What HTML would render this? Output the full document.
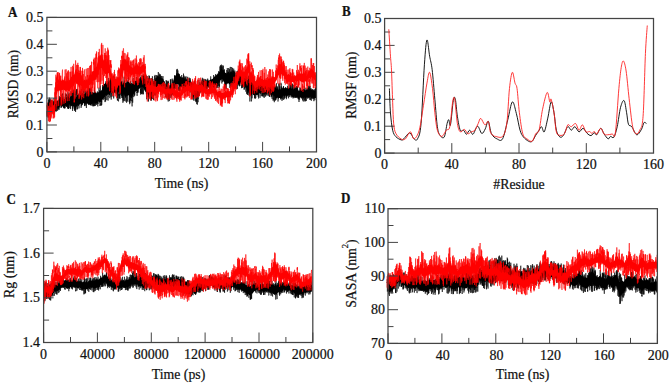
<!DOCTYPE html>
<html><head><meta charset="utf-8"><title>Figure</title>
<style>
html,body{margin:0;padding:0;background:#fff;width:669px;height:386px;overflow:hidden}
svg{display:block}
text{font-family:"Liberation Serif", serif;fill:#111;stroke:#111;stroke-width:0.22px}
</style></head><body>
<svg width="669" height="386" viewBox="0 0 669 386">
<rect width="669" height="386" fill="#fff"/>
<polygon fill="#000" points="46.9,104.5 47.5,104.0 48.1,102.6 48.7,102.4 49.3,102.4 49.9,102.2 50.5,101.6 51.1,101.0 51.7,101.0 52.3,100.8 52.9,100.4 53.5,101.7 54.1,101.2 54.7,101.2 55.3,101.4 55.9,101.1 56.5,101.2 57.1,101.1 57.7,100.2 58.3,100.2 58.9,99.3 59.5,99.0 60.1,99.4 60.7,98.3 61.3,97.9 61.9,97.6 62.5,98.0 63.1,99.1 63.7,98.4 64.3,99.7 64.9,98.5 65.5,98.0 66.1,97.5 66.7,97.2 67.3,96.4 67.9,97.4 68.5,96.4 69.1,96.9 69.7,96.8 70.3,96.0 70.9,97.0 71.5,97.2 72.1,95.2 72.7,95.7 73.3,96.2 73.9,95.6 74.5,96.5 75.1,97.7 75.7,97.2 76.3,96.8 76.9,95.9 77.5,95.7 78.1,94.2 78.7,95.3 79.3,94.7 79.9,93.5 80.5,94.1 81.1,94.3 81.7,93.8 82.3,93.4 82.9,93.5 83.5,93.5 84.1,94.4 84.7,94.0 85.3,93.6 85.9,92.4 86.5,92.1 87.1,92.8 87.7,94.4 88.3,95.1 88.9,94.2 89.5,94.7 90.1,94.4 90.7,94.2 91.3,94.7 91.9,93.0 92.5,92.4 93.1,92.3 93.7,92.9 94.3,92.0 94.9,92.8 95.5,92.6 96.1,93.5 96.7,92.4 97.3,93.0 97.9,91.5 98.5,92.5 99.1,92.0 99.7,91.6 100.3,91.2 100.9,90.7 101.5,90.2 102.1,89.5 102.7,87.0 103.3,86.8 103.9,84.1 104.5,83.9 105.1,83.6 105.7,82.4 106.3,83.9 106.9,83.2 107.5,83.4 108.1,82.8 108.7,82.0 109.3,81.7 109.9,80.3 110.5,80.6 111.1,81.3 111.7,80.3 112.3,80.9 112.9,79.8 113.5,81.4 114.1,80.2 114.7,81.2 115.3,82.3 115.9,81.3 116.5,82.0 117.1,81.8 117.7,82.7 118.3,81.1 118.9,82.6 119.5,80.7 120.1,81.3 120.7,79.8 121.3,80.7 121.9,83.5 122.5,83.9 123.1,82.1 123.7,83.5 124.3,81.8 124.9,82.4 125.5,82.9 126.1,83.4 126.7,81.9 127.3,80.6 127.9,82.0 128.5,81.7 129.1,82.1 129.7,83.2 130.3,81.5 130.9,84.3 131.5,84.9 132.1,84.1 132.7,84.3 133.3,84.4 133.9,81.3 134.5,80.9 135.1,80.9 135.7,80.3 136.3,81.8 136.9,81.4 137.5,80.2 138.1,81.4 138.7,79.2 139.3,79.4 139.9,79.1 140.5,78.3 141.1,78.2 141.7,77.8 142.3,77.3 142.9,77.3 143.5,77.9 144.1,78.4 144.7,77.9 145.3,80.1 145.9,81.3 146.5,81.6 147.1,80.7 147.7,80.7 148.3,81.2 148.9,81.6 149.5,82.7 150.1,81.5 150.7,80.9 151.3,82.5 151.9,82.2 152.5,82.3 153.1,81.7 153.7,81.5 154.3,82.1 154.9,80.9 155.5,80.5 156.1,78.1 156.7,77.6 157.3,76.5 157.9,74.8 158.5,76.6 159.1,77.7 159.7,77.0 160.3,78.3 160.9,77.4 161.5,78.4 162.1,78.5 162.7,79.2 163.3,79.1 163.9,81.1 164.5,81.0 165.1,83.0 165.7,84.4 166.3,85.0 166.9,86.7 167.5,86.6 168.1,87.8 168.7,88.4 169.3,87.6 169.9,85.7 170.5,84.4 171.1,85.4 171.7,84.0 172.3,83.4 172.9,83.4 173.5,81.6 174.1,79.9 174.7,78.6 175.3,76.1 175.9,75.2 176.5,73.2 177.1,73.0 177.7,74.7 178.3,73.8 178.9,73.7 179.5,75.1 180.1,76.0 180.7,76.5 181.3,78.3 181.9,76.7 182.5,77.2 183.1,78.1 183.7,78.1 184.3,77.3 184.9,79.5 185.5,79.4 186.1,80.0 186.7,80.2 187.3,81.3 187.9,80.0 188.5,80.7 189.1,81.1 189.7,81.6 190.3,82.0 190.9,82.9 191.5,82.4 192.1,83.4 192.7,83.1 193.3,83.0 193.9,84.6 194.5,83.8 195.1,84.2 195.7,84.5 196.3,86.3 196.9,86.6 197.5,86.2 198.1,85.4 198.7,85.1 199.3,85.1 199.9,83.9 200.5,83.8 201.1,82.7 201.7,80.4 202.3,81.2 202.9,82.3 203.5,80.8 204.1,81.2 204.7,82.8 205.3,81.5 205.9,82.2 206.5,81.3 207.1,80.7 207.7,80.6 208.3,81.2 208.9,81.2 209.5,80.2 210.1,79.6 210.7,79.8 211.3,79.5 211.9,79.1 212.5,79.1 213.1,78.3 213.7,77.8 214.3,76.7 214.9,77.1 215.5,76.4 216.1,76.8 216.7,74.8 217.3,75.1 217.9,74.7 218.5,72.7 219.1,71.8 219.7,71.8 220.3,69.0 220.9,69.9 221.5,68.6 222.1,69.7 222.7,69.4 223.3,70.4 223.9,71.3 224.5,72.2 225.1,72.5 225.7,72.9 226.3,72.9 226.9,73.7 227.5,72.8 228.1,72.1 228.7,72.0 229.3,73.7 229.9,72.3 230.5,73.1 231.1,72.5 231.7,71.6 232.3,72.7 232.9,72.4 233.5,72.8 234.1,74.1 234.7,73.8 235.3,76.0 235.9,75.4 236.5,74.7 237.1,75.8 237.7,75.3 238.3,75.0 238.9,75.3 239.5,76.2 240.1,74.4 240.7,75.0 241.3,75.3 241.9,75.7 242.5,76.7 243.1,76.7 243.7,78.1 244.3,77.3 244.9,77.6 245.5,79.7 246.1,79.8 246.7,79.7 247.3,80.6 247.9,79.8 248.5,80.1 249.1,82.2 249.7,81.2 250.3,82.2 250.9,81.7 251.5,80.8 252.1,82.2 252.7,82.8 253.3,82.4 253.9,83.9 254.5,85.1 255.1,84.0 255.7,84.3 256.3,84.5 256.9,84.5 257.5,85.2 258.1,84.8 258.7,84.0 259.3,85.4 259.9,84.9 260.5,85.4 261.1,85.6 261.7,84.8 262.3,84.8 262.9,85.7 263.5,86.0 264.1,86.8 264.7,86.1 265.3,86.1 265.9,85.0 266.5,85.4 267.1,85.4 267.7,85.3 268.3,85.7 268.9,84.7 269.5,85.3 270.1,84.9 270.7,85.7 271.3,85.9 271.9,86.5 272.5,86.5 273.1,86.1 273.7,87.1 274.3,86.6 274.9,87.8 275.5,88.1 276.1,88.2 276.7,89.0 277.3,87.8 277.9,89.1 278.5,90.0 279.1,88.3 279.7,89.0 280.3,88.9 280.9,89.8 281.5,89.3 282.1,89.5 282.7,87.6 283.3,87.4 283.9,87.1 284.5,88.6 285.1,88.1 285.7,87.1 286.3,88.0 286.9,88.4 287.5,88.2 288.1,88.5 288.7,88.1 289.3,88.0 289.9,88.1 290.5,87.8 291.1,87.7 291.7,88.9 292.3,89.9 292.9,89.6 293.5,90.1 294.1,89.8 294.7,88.6 295.3,89.8 295.9,89.8 296.5,89.7 297.1,90.6 297.7,89.6 298.3,90.5 298.9,91.2 299.5,90.5 300.1,90.5 300.7,89.7 301.3,90.6 301.9,90.3 302.5,89.2 303.1,88.9 303.7,88.8 304.3,89.2 304.9,90.4 305.5,90.6 306.1,90.5 306.7,89.3 307.3,90.3 307.9,88.5 308.5,89.8 309.1,88.8 309.7,88.8 310.3,88.3 310.9,89.4 311.5,89.5 312.1,89.2 312.7,90.8 313.3,90.0 313.9,90.9 314.5,90.6 315.1,91.0 315.7,90.9 316.3,91.6 316.3,98.5 315.7,98.0 315.1,98.0 314.5,98.6 313.9,98.5 313.3,97.4 312.7,97.4 312.1,97.6 311.5,98.4 310.9,96.6 310.3,96.6 309.7,97.3 309.1,97.4 308.5,98.2 307.9,97.1 307.3,98.1 306.7,97.2 306.1,97.9 305.5,98.7 304.9,98.1 304.3,96.8 303.7,96.9 303.1,97.1 302.5,96.9 301.9,97.1 301.3,98.0 300.7,98.0 300.1,97.1 299.5,97.5 298.9,98.3 298.3,98.7 297.7,98.7 297.1,97.2 296.5,97.3 295.9,96.7 295.3,97.1 294.7,95.6 294.1,96.5 293.5,97.8 292.9,97.1 292.3,96.4 291.7,96.3 291.1,95.6 290.5,95.3 289.9,94.7 289.3,95.2 288.7,94.7 288.1,95.6 287.5,94.7 286.9,95.5 286.3,96.6 285.7,95.2 285.1,96.7 284.5,96.4 283.9,95.6 283.3,95.6 282.7,96.5 282.1,97.2 281.5,97.5 280.9,98.8 280.3,98.1 279.7,98.0 279.1,98.0 278.5,98.9 277.9,97.6 277.3,97.9 276.7,98.8 276.1,97.9 275.5,97.9 274.9,97.4 274.3,95.4 273.7,95.9 273.1,94.5 272.5,94.8 271.9,94.9 271.3,93.4 270.7,92.7 270.1,93.8 269.5,93.6 268.9,93.1 268.3,93.6 267.7,92.7 267.1,93.7 266.5,93.5 265.9,93.7 265.3,93.4 264.7,93.8 264.1,94.8 263.5,94.6 262.9,93.6 262.3,92.8 261.7,92.1 261.1,93.5 260.5,93.7 259.9,93.7 259.3,92.7 258.7,93.3 258.1,94.4 257.5,95.0 256.9,95.3 256.3,95.0 255.7,94.3 255.1,94.5 254.5,95.7 253.9,95.1 253.3,95.2 252.7,93.6 252.1,94.1 251.5,94.4 250.9,96.1 250.3,94.1 249.7,94.1 249.1,94.1 248.5,91.0 247.9,92.0 247.3,90.9 246.7,89.9 246.1,87.5 245.5,86.9 244.9,86.5 244.3,86.8 243.7,85.1 243.1,85.8 242.5,85.6 241.9,83.8 241.3,83.4 240.7,82.1 240.1,82.3 239.5,83.7 238.9,83.6 238.3,84.1 237.7,84.5 237.1,84.2 236.5,84.8 235.9,84.5 235.3,83.7 234.7,83.0 234.1,84.0 233.5,83.5 232.9,83.2 232.3,82.2 231.7,81.4 231.1,82.4 230.5,82.8 229.9,84.0 229.3,84.6 228.7,82.7 228.1,84.5 227.5,83.5 226.9,83.0 226.3,84.1 225.7,83.2 225.1,83.3 224.5,81.4 223.9,82.1 223.3,81.3 222.7,78.8 222.1,79.4 221.5,79.6 220.9,79.7 220.3,80.0 219.7,80.8 219.1,83.1 218.5,82.2 217.9,83.9 217.3,83.5 216.7,84.9 216.1,85.4 215.5,85.2 214.9,84.4 214.3,84.7 213.7,85.3 213.1,86.4 212.5,85.6 211.9,85.9 211.3,86.0 210.7,86.5 210.1,86.2 209.5,86.6 208.9,86.9 208.3,86.8 207.7,87.0 207.1,88.1 206.5,87.9 205.9,87.7 205.3,88.8 204.7,89.9 204.1,88.9 203.5,88.0 202.9,88.8 202.3,90.0 201.7,89.1 201.1,89.9 200.5,91.7 199.9,92.9 199.3,93.7 198.7,96.0 198.1,97.1 197.5,96.8 196.9,97.1 196.3,97.2 195.7,94.6 195.1,96.7 194.5,95.6 193.9,94.7 193.3,93.8 192.7,93.3 192.1,92.9 191.5,92.2 190.9,92.0 190.3,91.3 189.7,91.0 189.1,89.9 188.5,89.3 187.9,88.6 187.3,88.1 186.7,88.8 186.1,88.8 185.5,89.0 184.9,87.9 184.3,86.5 183.7,86.4 183.1,88.1 182.5,88.3 181.9,87.1 181.3,87.6 180.7,86.4 180.1,87.0 179.5,85.6 178.9,84.7 178.3,84.2 177.7,83.8 177.1,84.0 176.5,83.8 175.9,83.9 175.3,85.8 174.7,86.2 174.1,89.0 173.5,89.8 172.9,91.4 172.3,90.6 171.7,92.8 171.1,93.1 170.5,95.4 169.9,95.0 169.3,95.8 168.7,97.0 168.1,97.5 167.5,96.6 166.9,95.0 166.3,94.3 165.7,93.2 165.1,91.5 164.5,90.2 163.9,88.8 163.3,87.4 162.7,87.8 162.1,87.4 161.5,87.6 160.9,87.3 160.3,86.5 159.7,86.3 159.1,86.9 158.5,85.8 157.9,86.3 157.3,87.2 156.7,87.4 156.1,88.9 155.5,90.7 154.9,91.9 154.3,92.0 153.7,93.7 153.1,95.3 152.5,94.4 151.9,94.4 151.3,94.2 150.7,93.1 150.1,95.9 149.5,93.2 148.9,94.8 148.3,95.3 147.7,94.2 147.1,93.1 146.5,92.3 145.9,92.2 145.3,91.7 144.7,88.9 144.1,89.1 143.5,86.7 142.9,87.6 142.3,86.9 141.7,87.0 141.1,86.1 140.5,88.4 139.9,88.4 139.3,88.1 138.7,89.3 138.1,89.2 137.5,89.4 136.9,91.1 136.3,91.0 135.7,91.7 135.1,91.6 134.5,91.2 133.9,93.5 133.3,93.9 132.7,96.3 132.1,97.1 131.5,98.2 130.9,98.4 130.3,96.1 129.7,97.7 129.1,94.9 128.5,95.3 127.9,96.0 127.3,95.6 126.7,95.4 126.1,96.9 125.5,96.4 124.9,94.0 124.3,96.3 123.7,94.4 123.1,94.3 122.5,96.2 121.9,94.3 121.3,94.4 120.7,92.9 120.1,93.5 119.5,92.5 118.9,92.6 118.3,91.5 117.7,93.9 117.1,92.3 116.5,92.1 115.9,91.4 115.3,92.7 114.7,92.9 114.1,92.0 113.5,94.2 112.9,93.2 112.3,92.8 111.7,92.0 111.1,91.8 110.5,91.8 109.9,95.0 109.3,95.6 108.7,94.0 108.1,94.7 107.5,94.1 106.9,95.4 106.3,96.1 105.7,95.1 105.1,95.8 104.5,97.1 103.9,97.7 103.3,98.2 102.7,98.9 102.1,99.4 101.5,101.2 100.9,101.6 100.3,102.0 99.7,102.2 99.1,102.7 98.5,101.0 97.9,102.5 97.3,104.1 96.7,103.3 96.1,103.2 95.5,103.6 94.9,103.4 94.3,102.2 93.7,103.0 93.1,102.7 92.5,103.2 91.9,104.5 91.3,104.3 90.7,105.4 90.1,105.4 89.5,104.7 88.9,104.5 88.3,105.2 87.7,103.8 87.1,103.5 86.5,102.3 85.9,102.9 85.3,104.3 84.7,103.9 84.1,103.1 83.5,102.9 82.9,103.4 82.3,103.4 81.7,104.6 81.1,104.4 80.5,102.5 79.9,104.3 79.3,104.4 78.7,106.4 78.1,105.4 77.5,105.6 76.9,106.1 76.3,107.2 75.7,108.4 75.1,110.9 74.5,107.1 73.9,106.9 73.3,106.1 72.7,106.1 72.1,104.9 71.5,106.5 70.9,105.7 70.3,105.5 69.7,104.6 69.1,104.2 68.5,105.5 67.9,106.3 67.3,105.6 66.7,106.2 66.1,107.0 65.5,105.4 64.9,105.4 64.3,107.3 63.7,107.7 63.1,107.0 62.5,106.0 61.9,105.9 61.3,105.5 60.7,105.3 60.1,106.0 59.5,107.0 58.9,107.5 58.3,107.3 57.7,107.3 57.1,108.4 56.5,108.1 55.9,108.4 55.3,109.2 54.7,109.3 54.1,108.9 53.5,108.8 52.9,108.2 52.3,108.6 51.7,107.7 51.1,108.1 50.5,109.0 49.9,110.0 49.3,109.4 48.7,111.6 48.1,112.5 47.5,113.1 46.9,114.4"/><polyline fill="none" stroke="#000" stroke-width="0.6" stroke-linejoin="round" points="46.9,117.0 47.0,114.2 47.1,111.2 47.3,115.6 47.4,115.0 47.5,103.3 47.6,103.2 47.7,107.6 47.9,111.9 48.0,112.4 48.1,110.2 48.2,117.4 48.3,114.9 48.5,99.3 48.6,99.3 48.7,99.6 48.8,105.1 48.9,108.0 49.1,100.2 49.2,106.4 49.3,105.2 49.4,97.6 49.5,103.1 49.7,104.0 49.8,102.4 49.9,102.9 50.0,104.7 50.1,98.6 50.3,99.0 50.4,103.8 50.5,103.5 50.6,109.3 50.7,101.6 50.9,107.1 51.0,99.9 51.1,100.4 51.2,103.5 51.3,106.8 51.5,108.1 51.6,104.9 51.7,100.2 51.8,107.3 51.9,110.5 52.1,111.1 52.2,108.8 52.3,102.8 52.4,112.1 52.5,107.8 52.7,108.9 52.8,104.8 52.9,102.8 53.0,101.5 53.1,104.5 53.3,107.1 53.4,104.4 53.5,103.8 53.6,110.3 53.7,108.9 53.9,110.3 54.0,98.1 54.1,107.6 54.2,110.8 54.3,105.9 54.5,100.5 54.6,111.4 54.7,112.3 54.8,104.9 54.9,111.2 55.1,105.4 55.2,104.2 55.3,109.0 55.4,101.0 55.5,100.7 55.7,111.0 55.8,105.7 55.9,96.1 56.0,110.1 56.1,111.8 56.3,111.2 56.4,104.8 56.5,110.5 56.6,107.2 56.7,105.4 56.9,109.3 57.0,107.3 57.1,102.3 57.2,103.4 57.3,100.9 57.5,107.5 57.6,110.8 57.7,102.4 57.8,106.6 57.9,102.1 58.1,101.1 58.2,103.7 58.3,107.2 58.4,109.3 58.5,103.7 58.7,101.4 58.8,108.3 58.9,100.3 59.0,109.9 59.1,104.8 59.3,98.8 59.4,96.2 59.5,106.1 59.6,105.1 59.7,98.1 59.9,97.5 60.0,104.8 60.1,99.0 60.2,103.7 60.3,98.5 60.5,97.0 60.6,99.9 60.7,103.6 60.8,102.5 60.9,97.7 61.1,107.8 61.2,105.1 61.3,107.5 61.4,100.2 61.5,95.7 61.7,94.6 61.8,102.7 61.9,96.7 62.0,106.8 62.1,101.3 62.3,94.1 62.4,93.5 62.5,93.9 62.6,94.8 62.7,93.8 62.9,102.6 63.0,102.1 63.1,104.5 63.2,103.2 63.3,104.0 63.5,98.8 63.6,101.0 63.7,108.2 63.8,103.1 63.9,96.7 64.1,103.1 64.2,107.7 64.3,103.1 64.4,101.0 64.5,108.4 64.7,105.8 64.8,107.8 64.9,104.4 65.0,108.4 65.1,99.0 65.3,103.3 65.4,93.3 65.5,103.9 65.6,105.9 65.7,98.0 65.9,96.4 66.0,94.7 66.1,96.0 66.2,93.7 66.3,94.2 66.5,106.8 66.6,102.6 66.7,102.8 66.8,103.9 66.9,103.1 67.1,97.0 67.2,95.9 67.3,95.7 67.4,104.6 67.5,107.7 67.7,99.6 67.8,108.7 67.9,94.2 68.0,91.8 68.1,94.3 68.3,102.2 68.4,109.0 68.5,102.3 68.6,108.7 68.7,107.8 68.9,99.6 69.0,94.1 69.1,104.3 69.2,93.1 69.3,100.6 69.5,99.1 69.6,97.9 69.7,103.1 69.8,108.2 69.9,102.1 70.1,106.3 70.2,102.4 70.3,97.4 70.4,105.2 70.5,109.1 70.7,108.9 70.8,105.0 70.9,91.2 71.0,98.4 71.1,101.1 71.3,93.3 71.4,93.9 71.5,95.0 71.6,96.7 71.7,94.6 71.9,105.9 72.0,97.4 72.1,91.9 72.2,96.9 72.3,90.1 72.5,104.2 72.6,110.9 72.7,105.1 72.8,100.5 72.9,108.7 73.1,104.4 73.2,105.2 73.3,92.0 73.4,95.8 73.5,89.6 73.7,102.1 73.8,101.3 73.9,93.9 74.0,104.9 74.1,106.4 74.3,106.9 74.4,108.3 74.5,110.8 74.6,103.0 74.7,109.6 74.9,97.4 75.0,90.0 75.1,94.9 75.2,91.4 75.3,110.3 75.5,109.2 75.6,112.0 75.7,94.1 75.8,94.5 75.9,96.8 76.1,109.5 76.2,105.8 76.3,99.2 76.4,89.4 76.5,93.1 76.7,94.6 76.8,94.4 76.9,89.5 77.0,89.0 77.1,96.1 77.3,88.9 77.4,89.4 77.5,109.3 77.6,95.4 77.7,96.2 77.9,97.2 78.0,97.1 78.1,104.2 78.2,100.7 78.3,100.1 78.5,104.6 78.6,95.6 78.7,93.6 78.8,105.2 78.9,108.5 79.1,108.2 79.2,105.5 79.3,98.5 79.4,90.8 79.5,90.6 79.7,96.3 79.8,99.7 79.9,101.3 80.0,104.0 80.1,104.1 80.3,97.5 80.4,90.9 80.5,94.5 80.6,103.4 80.7,92.3 80.9,99.8 81.0,104.8 81.1,107.9 81.2,106.4 81.3,88.9 81.5,96.7 81.6,106.2 81.7,101.8 81.8,99.1 81.9,102.4 82.1,104.2 82.2,103.8 82.3,96.3 82.4,104.9 82.5,93.5 82.7,102.3 82.8,97.0 82.9,89.3 83.0,89.6 83.1,101.0 83.3,103.2 83.4,103.0 83.5,94.5 83.6,91.2 83.7,97.4 83.9,100.5 84.0,98.7 84.1,98.5 84.2,88.7 84.3,102.0 84.5,105.8 84.6,101.3 84.7,94.6 84.8,97.7 84.9,106.1 85.1,94.5 85.2,102.6 85.3,98.2 85.4,90.4 85.5,94.9 85.7,102.0 85.8,105.4 85.9,102.0 86.0,95.2 86.1,95.3 86.3,93.6 86.4,108.0 86.5,91.4 86.6,91.7 86.7,103.8 86.9,90.8 87.0,96.9 87.1,93.4 87.2,90.5 87.3,93.4 87.5,100.2 87.6,99.1 87.7,101.4 87.8,98.9 87.9,88.3 88.1,92.5 88.2,100.3 88.3,97.2 88.4,98.5 88.5,103.2 88.7,94.4 88.8,90.0 88.9,87.8 89.0,103.2 89.1,102.7 89.3,97.3 89.4,102.5 89.5,91.9 89.6,88.0 89.7,98.4 89.9,91.5 90.0,100.3 90.1,101.7 90.2,103.6 90.3,88.1 90.5,101.2 90.6,96.0 90.7,99.3 90.8,103.3 90.9,92.3 91.1,94.5 91.2,88.5 91.3,89.0 91.4,92.6 91.5,102.3 91.7,103.5 91.8,101.3 91.9,105.0 92.0,106.0 92.1,102.6 92.3,104.7 92.4,92.0 92.5,91.9 92.6,99.5 92.7,101.8 92.9,103.5 93.0,106.4 93.1,105.6 93.2,102.7 93.3,106.1 93.5,93.4 93.6,94.3 93.7,98.8 93.8,97.6 93.9,105.4 94.1,99.9 94.2,106.2 94.3,92.0 94.4,100.5 94.5,87.4 94.7,101.5 94.8,103.0 94.9,106.0 95.0,100.3 95.1,100.1 95.3,105.6 95.4,103.7 95.5,91.8 95.6,94.0 95.7,99.7 95.9,103.6 96.0,101.3 96.1,95.1 96.2,98.9 96.3,94.9 96.5,96.1 96.6,104.9 96.7,98.1 96.8,100.8 96.9,100.3 97.1,98.0 97.2,97.8 97.3,92.8 97.4,91.5 97.5,99.1 97.7,103.7 97.8,106.4 97.9,95.1 98.0,104.0 98.1,95.7 98.3,93.7 98.4,96.7 98.5,99.1 98.6,101.0 98.7,100.4 98.9,96.6 99.0,87.6 99.1,98.1 99.2,94.1 99.3,97.6 99.5,101.1 99.6,90.3 99.7,102.0 99.8,96.8 99.9,105.9 100.1,104.3 100.2,98.0 100.3,85.4 100.4,88.8 100.5,97.0 100.7,93.4 100.8,97.6 100.9,105.5 101.0,103.4 101.1,105.6 101.3,95.8 101.4,98.7 101.5,102.3 101.6,101.1 101.7,105.1 101.9,102.0 102.0,101.3 102.1,94.9 102.2,99.2 102.3,92.0 102.5,90.5 102.6,85.0 102.7,92.7 102.8,87.4 102.9,96.9 103.1,96.1 103.2,100.1 103.3,89.9 103.4,86.0 103.5,91.1 103.7,93.0 103.8,84.9 103.9,92.9 104.0,99.0 104.1,90.2 104.3,85.9 104.4,88.4 104.5,96.8 104.6,94.5 104.7,84.1 104.9,98.2 105.0,102.1 105.1,95.3 105.2,89.4 105.3,83.5 105.5,96.3 105.6,101.4 105.7,95.2 105.8,81.3 105.9,86.3 106.1,92.1 106.2,89.6 106.3,88.7 106.4,85.2 106.5,84.9 106.7,88.3 106.8,100.1 106.9,96.5 107.0,93.2 107.1,90.7 107.3,81.2 107.4,85.2 107.5,84.7 107.6,94.5 107.7,94.8 107.9,94.0 108.0,99.8 108.1,100.6 108.2,95.8 108.3,96.5 108.5,82.1 108.6,93.8 108.7,77.9 108.8,91.4 108.9,85.4 109.1,80.5 109.2,92.0 109.3,90.9 109.4,84.2 109.5,81.5 109.7,82.9 109.8,98.2 109.9,95.3 110.0,87.1 110.1,82.0 110.3,92.4 110.4,87.2 110.5,78.1 110.6,81.0 110.7,74.8 110.9,96.2 111.0,96.8 111.1,83.2 111.2,99.6 111.3,95.6 111.5,84.0 111.6,83.5 111.7,81.4 111.8,87.1 111.9,93.1 112.1,89.7 112.2,80.6 112.3,92.7 112.4,79.6 112.5,85.4 112.7,87.3 112.8,84.8 112.9,96.5 113.0,84.3 113.1,88.2 113.3,75.9 113.4,89.5 113.5,83.2 113.6,98.2 113.7,98.5 113.9,96.4 114.0,84.9 114.1,91.9 114.2,83.0 114.3,75.5 114.5,78.6 114.6,86.1 114.7,77.0 114.8,83.7 114.9,82.4 115.1,90.2 115.2,92.6 115.3,92.2 115.4,93.4 115.5,79.2 115.7,84.1 115.8,84.7 115.9,84.4 116.0,85.1 116.1,82.0 116.3,82.9 116.4,84.2 116.5,83.9 116.6,87.7 116.7,94.6 116.9,84.7 117.0,93.5 117.1,85.4 117.2,93.1 117.3,100.2 117.5,99.2 117.6,100.6 117.7,82.9 117.8,97.9 117.9,90.2 118.1,90.9 118.2,88.0 118.3,93.5 118.4,99.8 118.5,101.4 118.7,99.2 118.8,94.0 118.9,95.8 119.0,92.5 119.1,85.4 119.3,93.8 119.4,91.1 119.5,98.3 119.6,84.6 119.7,87.7 119.9,85.2 120.0,98.9 120.1,78.8 120.2,88.6 120.3,81.9 120.5,79.5 120.6,91.5 120.7,94.7 120.8,77.6 120.9,88.1 121.1,82.4 121.2,83.2 121.3,94.0 121.4,96.0 121.5,82.2 121.7,82.6 121.8,86.3 121.9,97.9 122.0,80.9 122.1,93.3 122.3,97.9 122.4,90.7 122.5,87.8 122.6,91.1 122.7,86.2 122.9,102.8 123.0,91.4 123.1,100.2 123.2,95.1 123.3,90.9 123.5,85.9 123.6,97.9 123.7,101.4 123.8,94.0 123.9,81.3 124.1,76.7 124.2,90.3 124.3,81.3 124.4,85.2 124.5,80.5 124.7,100.9 124.8,82.9 124.9,87.7 125.0,95.0 125.1,94.6 125.3,96.6 125.4,88.1 125.5,97.7 125.6,93.2 125.7,82.6 125.9,101.6 126.0,90.0 126.1,87.0 126.2,83.8 126.3,84.9 126.5,90.5 126.6,102.8 126.7,96.3 126.8,87.6 126.9,79.5 127.1,91.2 127.2,90.5 127.3,90.8 127.4,101.5 127.5,93.2 127.7,89.8 127.8,93.5 127.9,89.0 128.0,86.7 128.1,88.9 128.3,78.1 128.4,79.0 128.5,76.9 128.6,76.9 128.7,84.6 128.9,85.3 129.0,91.7 129.1,94.1 129.2,101.9 129.3,87.3 129.5,91.6 129.6,91.6 129.7,104.2 129.8,99.7 129.9,103.0 130.1,89.0 130.2,100.4 130.3,98.9 130.4,99.9 130.5,92.9 130.7,80.8 130.8,80.9 130.9,88.6 131.0,101.2 131.1,86.8 131.3,88.6 131.4,88.6 131.5,82.9 131.6,94.8 131.7,90.5 131.9,101.1 132.0,100.3 132.1,106.4 132.2,83.8 132.3,87.9 132.5,84.2 132.6,83.6 132.7,102.7 132.8,79.3 132.9,79.6 133.1,79.3 133.2,77.9 133.3,79.3 133.4,91.8 133.5,81.3 133.7,93.8 133.8,97.1 133.9,83.4 134.0,93.3 134.1,89.6 134.3,94.3 134.4,95.5 134.5,83.6 134.6,81.8 134.7,95.6 134.9,93.5 135.0,87.4 135.1,88.8 135.2,86.2 135.3,89.2 135.5,90.8 135.6,84.7 135.7,87.7 135.8,86.9 135.9,90.5 136.1,91.0 136.2,81.2 136.3,88.2 136.4,76.8 136.5,82.0 136.7,84.2 136.8,86.4 136.9,93.0 137.0,91.8 137.1,95.9 137.3,88.9 137.4,92.0 137.5,80.4 137.6,81.2 137.7,87.9 137.9,93.0 138.0,87.4 138.1,91.8 138.2,87.6 138.3,85.2 138.5,83.7 138.6,85.1 138.7,80.7 138.8,81.9 138.9,84.6 139.1,78.7 139.2,86.8 139.3,84.7 139.4,78.3 139.5,85.0 139.7,88.5 139.8,79.2 139.9,84.3 140.0,79.1 140.1,84.9 140.3,77.0 140.4,93.1 140.5,89.0 140.6,94.6 140.7,91.7 140.9,88.9 141.0,76.8 141.1,75.2 141.2,86.9 141.3,82.5 141.5,94.1 141.6,78.1 141.7,80.9 141.8,82.4 141.9,79.9 142.1,93.3 142.2,85.6 142.3,77.9 142.4,94.3 142.5,75.6 142.7,85.3 142.8,82.7 142.9,81.5 143.0,75.4 143.1,86.7 143.3,77.9 143.4,77.7 143.5,94.3 143.6,74.4 143.7,88.2 143.9,80.7 144.0,83.0 144.1,78.8 144.2,74.9 144.3,86.5 144.5,90.4 144.6,77.1 144.7,84.6 144.8,76.2 144.9,80.6 145.1,78.7 145.2,81.9 145.3,79.2 145.4,89.1 145.5,84.5 145.7,88.7 145.8,89.8 145.9,77.0 146.0,74.9 146.1,79.1 146.3,86.0 146.4,94.3 146.5,85.2 146.6,90.3 146.7,99.3 146.9,78.0 147.0,76.0 147.1,77.4 147.2,77.7 147.3,81.9 147.5,89.8 147.6,93.9 147.7,89.7 147.8,81.6 147.9,91.3 148.1,88.0 148.2,96.9 148.3,78.0 148.4,96.8 148.5,101.5 148.7,89.2 148.8,81.2 148.9,77.5 149.0,75.4 149.1,77.1 149.3,84.8 149.4,76.0 149.5,81.6 149.6,80.4 149.7,84.4 149.9,83.5 150.0,78.5 150.1,81.3 150.2,98.0 150.3,90.5 150.5,99.4 150.6,91.4 150.7,86.3 150.8,94.0 150.9,85.8 151.1,101.0 151.2,82.3 151.3,78.1 151.4,89.7 151.5,99.5 151.7,89.8 151.8,84.8 151.9,90.2 152.0,91.8 152.1,88.2 152.3,83.4 152.4,76.2 152.5,94.6 152.6,99.0 152.7,80.3 152.9,79.1 153.0,81.5 153.1,82.3 153.2,85.2 153.3,83.3 153.5,100.2 153.6,82.5 153.7,82.3 153.8,95.9 153.9,84.3 154.1,80.9 154.2,91.3 154.3,95.2 154.4,77.4 154.5,76.2 154.7,77.8 154.8,85.0 154.9,79.8 155.0,74.9 155.1,77.9 155.3,80.5 155.4,79.9 155.5,87.3 155.6,95.6 155.7,91.7 155.9,78.1 156.0,89.6 156.1,76.8 156.2,75.3 156.3,79.4 156.5,88.2 156.6,86.9 156.7,89.2 156.8,87.7 156.9,75.3 157.1,77.4 157.2,86.2 157.3,91.5 157.4,89.8 157.5,90.4 157.7,92.9 157.8,78.0 157.9,76.0 158.0,83.8 158.1,92.7 158.3,72.0 158.4,74.3 158.5,80.6 158.6,84.2 158.7,82.1 158.9,84.1 159.0,87.5 159.1,77.9 159.2,80.9 159.3,73.6 159.5,83.6 159.6,85.9 159.7,85.1 159.8,74.8 159.9,84.8 160.1,89.0 160.2,75.9 160.3,74.3 160.4,83.5 160.5,77.5 160.7,77.6 160.8,75.8 160.9,89.5 161.0,88.8 161.1,85.0 161.3,86.3 161.4,79.8 161.5,83.6 161.6,76.0 161.7,82.6 161.9,83.2 162.0,91.3 162.1,77.7 162.2,90.6 162.3,83.4 162.5,79.0 162.6,84.2 162.7,83.0 162.8,81.8 162.9,76.0 163.1,78.6 163.2,91.9 163.3,92.2 163.4,92.8 163.5,92.0 163.7,91.1 163.8,88.4 163.9,93.3 164.0,86.0 164.1,85.4 164.3,87.2 164.4,91.7 164.5,85.5 164.6,92.6 164.7,92.2 164.9,92.6 165.0,92.4 165.1,84.5 165.2,89.8 165.3,91.9 165.5,97.0 165.6,96.9 165.7,83.9 165.8,93.8 165.9,90.9 166.1,92.4 166.2,80.0 166.3,86.5 166.4,85.7 166.5,85.7 166.7,81.0 166.8,98.5 166.9,90.4 167.0,96.9 167.1,93.0 167.3,84.6 167.4,97.3 167.5,96.6 167.6,88.4 167.7,81.7 167.9,84.5 168.0,80.7 168.1,84.8 168.2,101.5 168.3,81.5 168.5,84.6 168.6,89.3 168.7,89.2 168.8,98.9 168.9,99.0 169.1,97.4 169.2,92.2 169.3,101.1 169.4,99.6 169.5,86.1 169.7,85.3 169.8,89.2 169.9,92.5 170.0,98.0 170.1,91.8 170.3,90.4 170.4,79.5 170.5,82.2 170.6,82.3 170.7,89.6 170.9,79.2 171.0,94.0 171.1,93.2 171.2,97.6 171.3,93.7 171.5,92.9 171.6,95.7 171.7,93.7 171.8,89.4 171.9,87.6 172.1,94.3 172.2,78.6 172.3,78.8 172.4,82.2 172.5,91.8 172.7,94.5 172.8,82.7 172.9,94.4 173.0,79.9 173.1,82.5 173.3,82.2 173.4,87.9 173.5,84.9 173.6,87.1 173.7,89.5 173.9,83.0 174.0,81.7 174.1,87.3 174.2,78.6 174.3,89.5 174.5,84.7 174.6,75.2 174.7,89.6 174.8,76.0 174.9,89.3 175.1,86.5 175.2,75.7 175.3,83.8 175.4,79.2 175.5,79.1 175.7,77.5 175.8,84.5 175.9,85.8 176.0,88.7 176.1,88.6 176.3,87.8 176.4,75.6 176.5,74.9 176.6,81.8 176.7,69.5 176.9,86.3 177.0,83.2 177.1,76.4 177.2,70.3 177.3,68.9 177.5,73.1 177.6,77.7 177.7,84.2 177.8,84.2 177.9,70.4 178.1,79.1 178.2,84.1 178.3,78.2 178.4,75.5 178.5,73.4 178.7,74.7 178.8,90.7 178.9,87.0 179.0,90.9 179.1,82.1 179.3,76.4 179.4,73.9 179.5,82.2 179.6,83.9 179.7,83.6 179.9,90.7 180.0,80.3 180.1,91.0 180.2,80.6 180.3,87.5 180.5,80.2 180.6,77.2 180.7,86.9 180.8,82.4 180.9,81.8 181.1,81.2 181.2,85.7 181.3,84.7 181.4,80.1 181.5,80.3 181.7,75.0 181.8,80.3 181.9,81.7 182.0,80.2 182.1,82.5 182.3,86.4 182.4,81.7 182.5,90.9 182.6,88.5 182.7,90.4 182.9,89.6 183.0,87.2 183.1,92.0 183.2,87.1 183.3,83.1 183.5,73.6 183.6,89.4 183.7,81.0 183.8,78.9 183.9,76.5 184.1,75.7 184.2,82.7 184.3,92.1 184.4,89.1 184.5,78.9 184.7,87.8 184.8,80.9 184.9,76.7 185.0,87.0 185.1,84.3 185.3,88.7 185.4,90.9 185.5,79.9 185.6,85.3 185.7,77.5 185.9,82.8 186.0,76.3 186.1,86.4 186.2,90.9 186.3,79.8 186.5,83.9 186.6,83.0 186.7,86.8 186.8,85.5 186.9,79.0 187.1,80.7 187.2,84.0 187.3,88.8 187.4,90.0 187.5,82.3 187.7,76.8 187.8,83.1 187.9,88.1 188.0,85.7 188.1,86.6 188.3,84.6 188.4,83.6 188.5,90.4 188.6,90.0 188.7,87.8 188.9,81.0 189.0,80.3 189.1,78.6 189.2,79.8 189.3,77.7 189.5,91.0 189.6,85.0 189.7,81.3 189.8,92.2 189.9,80.0 190.1,92.4 190.2,84.9 190.3,79.3 190.4,78.4 190.5,83.7 190.7,90.8 190.8,88.4 190.9,84.4 191.0,81.8 191.1,84.9 191.3,96.3 191.4,82.5 191.5,86.5 191.6,83.6 191.7,88.9 191.9,89.9 192.0,97.4 192.1,97.8 192.2,95.8 192.3,93.0 192.5,89.5 192.6,89.1 192.7,94.3 192.8,92.7 192.9,99.6 193.1,92.7 193.2,97.0 193.3,91.3 193.4,95.2 193.5,84.7 193.7,100.6 193.8,98.3 193.9,91.9 194.0,86.4 194.1,89.6 194.3,81.1 194.4,82.0 194.5,91.2 194.6,93.4 194.7,83.9 194.9,82.0 195.0,81.2 195.1,95.8 195.2,100.9 195.3,83.7 195.5,93.3 195.6,83.0 195.7,90.1 195.8,98.4 195.9,102.1 196.1,89.5 196.2,89.3 196.3,100.4 196.4,101.4 196.5,98.1 196.7,87.9 196.8,104.0 196.9,85.7 197.0,85.8 197.1,100.9 197.3,104.7 197.4,95.9 197.5,94.3 197.6,93.5 197.7,88.1 197.9,91.0 198.0,100.4 198.1,102.2 198.2,97.7 198.3,98.7 198.5,94.9 198.6,85.0 198.7,85.8 198.8,90.3 198.9,79.7 199.1,82.6 199.2,89.2 199.3,93.6 199.4,87.1 199.5,95.8 199.7,85.8 199.8,91.3 199.9,84.3 200.0,82.2 200.1,87.0 200.3,85.0 200.4,90.7 200.5,87.5 200.6,86.5 200.7,92.6 200.9,89.4 201.0,87.7 201.1,89.5 201.2,90.3 201.3,88.6 201.5,87.2 201.6,87.7 201.7,87.3 201.8,83.1 201.9,88.6 202.1,79.6 202.2,87.7 202.3,82.0 202.4,77.8 202.5,85.0 202.7,81.3 202.8,84.4 202.9,89.8 203.0,86.7 203.1,83.9 203.3,78.7 203.4,83.5 203.5,81.9 203.6,84.2 203.7,89.9 203.9,80.3 204.0,90.5 204.1,84.4 204.2,85.4 204.3,83.5 204.5,81.8 204.6,88.4 204.7,88.9 204.8,78.9 204.9,80.6 205.1,85.5 205.2,86.9 205.3,86.8 205.4,80.5 205.5,79.4 205.7,84.7 205.8,82.5 205.9,90.8 206.0,88.1 206.1,87.0 206.3,80.9 206.4,81.5 206.5,87.6 206.6,89.7 206.7,79.7 206.9,84.6 207.0,86.2 207.1,88.9 207.2,82.7 207.3,87.9 207.5,88.0 207.6,87.6 207.7,78.6 207.8,85.5 207.9,79.8 208.1,85.7 208.2,83.4 208.3,82.0 208.4,81.6 208.5,85.9 208.7,84.4 208.8,80.5 208.9,85.9 209.0,88.0 209.1,83.1 209.3,86.2 209.4,83.6 209.5,88.8 209.6,86.4 209.7,81.2 209.9,81.3 210.0,90.0 210.1,89.0 210.2,86.1 210.3,82.7 210.5,80.2 210.6,77.8 210.7,76.4 210.8,77.7 210.9,80.7 211.1,88.7 211.2,80.8 211.3,86.2 211.4,81.8 211.5,86.3 211.7,89.8 211.8,83.9 211.9,86.8 212.0,80.2 212.1,82.9 212.3,83.0 212.4,83.1 212.5,79.5 212.6,80.8 212.7,83.6 212.9,87.1 213.0,82.1 213.1,82.5 213.2,87.2 213.3,86.9 213.5,75.0 213.6,75.1 213.7,75.9 213.8,88.4 213.9,83.6 214.1,80.2 214.2,81.4 214.3,79.5 214.4,86.4 214.5,88.2 214.7,80.9 214.8,83.6 214.9,82.7 215.0,76.1 215.1,76.1 215.3,77.6 215.4,79.4 215.5,74.6 215.6,74.1 215.7,78.3 215.9,78.7 216.0,79.0 216.1,77.3 216.2,88.0 216.3,75.3 216.5,84.8 216.6,81.7 216.7,87.6 216.8,86.8 216.9,77.9 217.1,74.9 217.2,88.1 217.3,78.8 217.4,73.7 217.5,86.3 217.7,81.2 217.8,77.4 217.9,79.2 218.0,74.8 218.1,74.1 218.3,85.7 218.4,84.9 218.5,82.8 218.6,71.2 218.7,75.4 218.9,88.2 219.0,85.2 219.1,75.0 219.2,85.6 219.3,84.6 219.5,86.7 219.6,74.2 219.7,82.4 219.8,76.3 219.9,66.5 220.1,67.9 220.2,80.4 220.3,74.0 220.4,65.6 220.5,65.2 220.7,67.2 220.8,68.0 220.9,76.2 221.0,65.8 221.1,73.4 221.3,75.1 221.4,64.6 221.5,67.1 221.6,68.6 221.7,77.7 221.9,83.5 222.0,66.7 222.1,68.9 222.2,74.5 222.3,80.3 222.5,81.8 222.6,76.4 222.7,74.4 222.8,65.2 222.9,65.4 223.1,69.7 223.2,65.9 223.3,69.3 223.4,75.7 223.5,79.8 223.7,69.8 223.8,74.7 223.9,70.0 224.0,80.4 224.1,76.0 224.3,69.3 224.4,76.8 224.5,81.9 224.6,81.4 224.7,85.8 224.9,88.1 225.0,80.2 225.1,88.8 225.2,79.3 225.3,76.0 225.5,77.6 225.6,85.1 225.7,74.0 225.8,77.6 225.9,84.5 226.1,79.9 226.2,81.2 226.3,89.0 226.4,80.3 226.5,82.1 226.7,82.2 226.8,70.0 226.9,71.1 227.0,83.4 227.1,80.8 227.3,68.1 227.4,73.7 227.5,80.5 227.6,82.7 227.7,77.9 227.9,82.2 228.0,71.5 228.1,75.6 228.2,73.7 228.3,75.0 228.5,78.0 228.6,80.2 228.7,68.0 228.8,78.0 228.9,79.6 229.1,77.2 229.2,74.2 229.3,82.9 229.4,69.2 229.5,69.4 229.7,82.8 229.8,87.8 229.9,77.6 230.0,70.6 230.1,68.4 230.3,66.9 230.4,80.1 230.5,88.2 230.6,80.0 230.7,71.7 230.9,75.5 231.0,71.8 231.1,73.0 231.2,82.1 231.3,67.0 231.5,84.8 231.6,82.4 231.7,86.0 231.8,86.9 231.9,79.1 232.1,70.5 232.2,79.4 232.3,83.8 232.4,74.7 232.5,67.8 232.7,82.0 232.8,87.6 232.9,80.9 233.0,71.9 233.1,70.6 233.3,78.4 233.4,84.4 233.5,70.7 233.6,83.8 233.7,68.6 233.9,71.6 234.0,79.8 234.1,71.9 234.2,85.8 234.3,78.3 234.5,72.7 234.6,71.8 234.7,79.3 234.8,70.5 234.9,80.1 235.1,83.5 235.2,79.5 235.3,79.6 235.4,86.1 235.5,87.9 235.7,83.6 235.8,76.5 235.9,72.8 236.0,88.1 236.1,89.0 236.3,77.3 236.4,82.8 236.5,77.1 236.6,79.2 236.7,74.2 236.9,72.5 237.0,71.3 237.1,76.7 237.2,86.2 237.3,88.4 237.5,88.9 237.6,84.8 237.7,80.5 237.8,72.5 237.9,70.7 238.1,74.2 238.2,85.3 238.3,74.4 238.4,81.4 238.5,71.7 238.7,84.0 238.8,79.8 238.9,75.3 239.0,77.8 239.1,85.4 239.3,83.5 239.4,85.6 239.5,86.3 239.6,77.2 239.7,78.4 239.9,85.9 240.0,81.6 240.1,82.4 240.2,83.5 240.3,77.3 240.5,73.2 240.6,72.3 240.7,71.6 240.8,71.4 240.9,76.1 241.1,78.6 241.2,79.1 241.3,81.9 241.4,78.3 241.5,88.2 241.7,76.5 241.8,78.4 241.9,76.6 242.0,74.4 242.1,72.7 242.3,75.6 242.4,88.0 242.5,85.2 242.6,83.0 242.7,86.7 242.9,80.6 243.0,80.9 243.1,78.3 243.2,74.2 243.3,80.9 243.5,77.4 243.6,81.5 243.7,75.9 243.8,76.9 243.9,78.1 244.1,89.9 244.2,89.7 244.3,86.6 244.4,88.7 244.5,79.2 244.7,84.5 244.8,81.3 244.9,75.6 245.0,79.3 245.1,87.3 245.3,82.8 245.4,80.2 245.5,82.2 245.6,87.5 245.7,87.2 245.9,91.7 246.0,75.7 246.1,87.4 246.2,75.5 246.3,81.1 246.5,84.8 246.6,91.9 246.7,93.9 246.8,91.8 246.9,92.4 247.1,86.9 247.2,82.6 247.3,94.6 247.4,93.1 247.5,93.0 247.7,89.4 247.8,94.9 247.9,95.0 248.0,77.7 248.1,92.7 248.3,83.9 248.4,82.4 248.5,75.7 248.6,88.0 248.7,83.6 248.9,78.9 249.0,95.6 249.1,82.1 249.2,79.7 249.3,84.3 249.5,78.2 249.6,90.9 249.7,91.2 249.8,97.7 249.9,101.5 250.1,89.6 250.2,84.3 250.3,81.0 250.4,79.3 250.5,77.6 250.7,80.1 250.8,90.8 250.9,83.8 251.0,95.1 251.1,78.1 251.3,95.7 251.4,101.1 251.5,101.4 251.6,99.6 251.7,96.2 251.9,85.0 252.0,98.3 252.1,81.5 252.2,82.3 252.3,84.3 252.5,82.0 252.6,79.5 252.7,94.1 252.8,80.9 252.9,88.8 253.1,90.7 253.2,84.0 253.3,81.6 253.4,78.8 253.5,78.0 253.7,93.3 253.8,85.9 253.9,79.5 254.0,81.5 254.1,91.7 254.3,89.9 254.4,84.1 254.5,98.1 254.6,86.1 254.7,81.5 254.9,85.2 255.0,91.2 255.1,98.8 255.2,90.5 255.3,92.5 255.5,93.8 255.6,90.5 255.7,98.2 255.8,98.0 255.9,93.9 256.1,91.0 256.2,94.5 256.3,84.6 256.4,92.4 256.5,88.3 256.7,89.6 256.8,85.2 256.9,88.4 257.0,82.5 257.1,91.4 257.3,93.8 257.4,90.1 257.5,81.7 257.6,79.9 257.7,82.2 257.9,90.5 258.0,88.2 258.1,91.3 258.2,96.7 258.3,82.1 258.5,91.4 258.6,98.5 258.7,89.2 258.8,80.9 258.9,86.0 259.1,90.5 259.2,90.0 259.3,86.3 259.4,83.6 259.5,90.7 259.7,91.4 259.8,94.8 259.9,96.4 260.0,97.8 260.1,96.8 260.3,92.6 260.4,85.1 260.5,80.9 260.6,82.1 260.7,83.9 260.9,87.3 261.0,88.1 261.1,90.8 261.2,94.5 261.3,96.2 261.5,93.9 261.6,92.9 261.7,92.8 261.8,90.3 261.9,87.6 262.1,88.2 262.2,87.3 262.3,95.9 262.4,84.6 262.5,96.4 262.7,87.1 262.8,84.3 262.9,84.5 263.0,85.4 263.1,85.9 263.3,96.5 263.4,96.7 263.5,86.8 263.6,86.4 263.7,91.6 263.9,89.0 264.0,92.6 264.1,98.0 264.2,97.5 264.3,90.0 264.5,89.7 264.6,94.5 264.7,91.1 264.8,92.2 264.9,93.5 265.1,96.8 265.2,86.5 265.3,82.4 265.4,85.4 265.5,88.1 265.7,92.7 265.8,96.2 265.9,84.1 266.0,88.7 266.1,89.3 266.3,94.1 266.4,91.3 266.5,81.9 266.6,90.7 266.7,95.2 266.9,92.0 267.0,84.2 267.1,82.7 267.2,87.4 267.3,85.2 267.5,87.2 267.6,89.9 267.7,85.5 267.8,92.5 267.9,95.7 268.1,92.7 268.2,85.0 268.3,86.1 268.4,82.4 268.5,83.8 268.7,83.5 268.8,86.9 268.9,93.9 269.0,95.8 269.1,90.6 269.3,96.6 269.4,86.9 269.5,91.6 269.6,96.8 269.7,90.5 269.9,93.9 270.0,94.1 270.1,90.5 270.2,86.0 270.3,84.9 270.5,88.4 270.6,92.3 270.7,94.9 270.8,92.6 270.9,84.9 271.1,90.9 271.2,97.2 271.3,92.1 271.4,93.5 271.5,96.2 271.7,93.8 271.8,96.3 271.9,90.0 272.0,87.6 272.1,98.9 272.3,95.5 272.4,93.2 272.5,90.5 272.6,87.8 272.7,85.9 272.9,91.8 273.0,88.4 273.1,100.7 273.2,98.3 273.3,99.3 273.5,95.3 273.6,92.0 273.7,93.7 273.8,97.1 273.9,100.2 274.1,94.6 274.2,88.3 274.3,102.2 274.4,92.6 274.5,95.1 274.7,94.5 274.8,85.4 274.9,87.4 275.0,100.8 275.1,95.7 275.3,93.1 275.4,95.7 275.5,86.6 275.6,100.2 275.7,96.1 275.9,99.8 276.0,92.7 276.1,97.1 276.2,88.4 276.3,86.1 276.5,83.3 276.6,89.8 276.7,95.3 276.8,95.2 276.9,86.4 277.1,86.4 277.2,90.3 277.3,86.7 277.4,91.0 277.5,96.4 277.7,91.7 277.8,94.5 277.9,97.8 278.0,101.5 278.1,100.5 278.3,99.6 278.4,95.3 278.5,95.1 278.6,89.0 278.7,83.5 278.9,86.8 279.0,97.8 279.1,92.8 279.2,92.9 279.3,89.1 279.5,85.3 279.6,83.5 279.7,88.0 279.8,97.9 279.9,86.4 280.1,93.7 280.2,93.1 280.3,96.4 280.4,98.1 280.5,98.0 280.7,99.5 280.8,94.5 280.9,87.6 281.0,82.8 281.1,84.1 281.3,84.8 281.4,84.5 281.5,98.5 281.6,86.4 281.7,95.3 281.9,88.2 282.0,100.9 282.1,93.0 282.2,98.5 282.3,98.6 282.5,98.6 282.6,97.6 282.7,96.5 282.8,88.1 282.9,87.8 283.1,90.2 283.2,100.0 283.3,99.1 283.4,92.1 283.5,86.0 283.7,95.5 283.8,88.2 283.9,91.2 284.0,96.8 284.1,99.3 284.3,88.8 284.4,93.2 284.5,92.2 284.6,98.4 284.7,93.6 284.9,93.0 285.0,91.1 285.1,92.4 285.2,88.9 285.3,90.2 285.5,94.4 285.6,93.3 285.7,87.3 285.8,88.4 285.9,97.8 286.1,96.9 286.2,88.4 286.3,95.5 286.4,99.2 286.5,97.2 286.7,91.0 286.8,89.8 286.9,97.3 287.0,92.5 287.1,91.5 287.3,96.0 287.4,95.2 287.5,93.1 287.6,85.8 287.7,95.4 287.9,88.6 288.0,89.8 288.1,94.6 288.2,94.4 288.3,89.2 288.5,95.1 288.6,98.3 288.7,90.6 288.8,87.6 288.9,89.8 289.1,95.0 289.2,89.2 289.3,96.8 289.4,95.6 289.5,94.4 289.7,88.4 289.8,84.1 289.9,83.4 290.0,91.9 290.1,96.6 290.3,90.7 290.4,85.6 290.5,85.4 290.6,87.9 290.7,85.3 290.9,86.6 291.0,85.7 291.1,84.2 291.2,86.4 291.3,97.5 291.5,96.4 291.6,95.4 291.7,95.3 291.8,90.1 291.9,83.8 292.1,90.2 292.2,88.6 292.3,97.1 292.4,83.7 292.5,87.9 292.7,91.2 292.8,89.6 292.9,87.7 293.0,98.4 293.1,95.1 293.3,90.4 293.4,91.7 293.5,92.9 293.6,89.3 293.7,96.0 293.9,84.8 294.0,93.2 294.1,98.1 294.2,97.3 294.3,85.0 294.5,96.2 294.6,97.3 294.7,87.9 294.8,91.5 294.9,90.8 295.1,95.7 295.2,92.8 295.3,93.8 295.4,97.7 295.5,87.4 295.7,96.8 295.8,97.8 295.9,94.7 296.0,87.5 296.1,96.1 296.3,87.9 296.4,97.8 296.5,97.0 296.6,87.5 296.7,85.9 296.9,89.0 297.0,92.9 297.1,86.2 297.2,96.3 297.3,95.0 297.5,86.6 297.6,93.4 297.7,97.2 297.8,95.5 297.9,89.7 298.1,97.1 298.2,92.0 298.3,94.8 298.4,99.4 298.5,91.5 298.7,97.4 298.8,97.1 298.9,97.8 299.0,102.0 299.1,94.2 299.3,90.9 299.4,92.5 299.5,95.4 299.6,99.7 299.7,90.8 299.9,87.3 300.0,95.6 300.1,96.6 300.2,93.9 300.3,92.5 300.5,88.1 300.6,91.2 300.7,93.6 300.8,96.7 300.9,92.5 301.1,89.5 301.2,94.9 301.3,95.7 301.4,93.5 301.5,98.4 301.7,91.9 301.8,92.4 301.9,93.7 302.0,97.1 302.1,98.1 302.3,92.9 302.4,96.3 302.5,100.4 302.6,90.8 302.7,92.2 302.9,95.9 303.0,95.3 303.1,98.6 303.2,93.1 303.3,101.5 303.5,99.1 303.6,96.3 303.7,98.0 303.8,91.6 303.9,95.2 304.1,97.9 304.2,85.9 304.3,86.3 304.4,87.1 304.5,95.2 304.7,100.4 304.8,97.8 304.9,101.5 305.0,94.2 305.1,89.9 305.3,97.5 305.4,91.1 305.5,96.0 305.6,92.9 305.7,101.2 305.9,87.7 306.0,93.3 306.1,91.7 306.2,101.0 306.3,98.5 306.5,94.2 306.6,96.5 306.7,90.0 306.8,91.1 306.9,90.9 307.1,89.3 307.2,92.2 307.3,88.4 307.4,91.1 307.5,98.3 307.7,98.7 307.8,98.0 307.9,94.0 308.0,87.9 308.1,89.2 308.3,88.0 308.4,91.6 308.5,89.1 308.6,86.6 308.7,87.6 308.9,85.7 309.0,96.4 309.1,98.3 309.2,94.3 309.3,96.7 309.5,87.3 309.6,86.0 309.7,95.6 309.8,99.9 309.9,98.7 310.1,85.9 310.2,95.3 310.3,96.6 310.4,90.6 310.5,99.8 310.7,98.0 310.8,94.7 310.9,93.8 311.0,88.3 311.1,88.2 311.3,100.8 311.4,91.6 311.5,92.9 311.6,95.4 311.7,92.8 311.9,98.1 312.0,94.3 312.1,96.8 312.2,99.1 312.3,90.5 312.5,89.1 312.6,89.1 312.7,96.7 312.8,90.1 312.9,98.1 313.1,91.1 313.2,94.4 313.3,97.0 313.4,98.8 313.5,94.0 313.7,89.7 313.8,99.8 313.9,101.2 314.0,93.7 314.1,95.4 314.3,93.9 314.4,89.4 314.5,90.4 314.6,92.2 314.7,96.0 314.9,100.2 315.0,97.5 315.1,96.4 315.2,94.6 315.3,88.7 315.5,88.0 315.6,95.2 315.7,86.8 315.8,94.0 315.9,91.9 316.1,91.2 316.2,88.6 316.3,89.7 316.4,92.0"/>
<polygon fill="#f00" points="46.9,111.2 47.5,110.1 48.1,108.7 48.7,108.7 49.3,108.7 49.9,108.3 50.5,107.0 51.1,107.3 51.7,107.5 52.3,106.3 52.9,106.4 53.5,105.0 54.1,104.5 54.7,100.7 55.3,93.2 55.9,85.1 56.5,85.1 57.1,84.2 57.7,80.6 58.3,80.2 58.9,80.6 59.5,80.9 60.1,79.1 60.7,80.1 61.3,81.2 61.9,79.2 62.5,79.6 63.1,79.4 63.7,80.4 64.3,80.3 64.9,82.0 65.5,80.4 66.1,81.7 66.7,81.2 67.3,80.6 67.9,81.7 68.5,82.1 69.1,80.3 69.7,80.1 70.3,79.2 70.9,77.0 71.5,76.9 72.1,75.8 72.7,74.9 73.3,75.0 73.9,75.0 74.5,73.8 75.1,71.1 75.7,69.5 76.3,72.1 76.9,71.7 77.5,71.5 78.1,72.7 78.7,73.0 79.3,72.8 79.9,73.8 80.5,72.5 81.1,74.8 81.7,75.6 82.3,78.3 82.9,79.7 83.5,81.2 84.1,80.1 84.7,80.0 85.3,81.0 85.9,80.3 86.5,79.0 87.1,80.4 87.7,79.3 88.3,78.4 88.9,76.3 89.5,74.7 90.1,74.8 90.7,73.7 91.3,75.2 91.9,71.3 92.5,71.7 93.1,71.1 93.7,70.4 94.3,67.4 94.9,68.6 95.5,67.5 96.1,66.8 96.7,66.7 97.3,63.5 97.9,61.7 98.5,58.3 99.1,57.1 99.7,57.3 100.3,55.2 100.9,54.6 101.5,53.8 102.1,54.8 102.7,58.3 103.3,59.4 103.9,60.8 104.5,59.5 105.1,60.4 105.7,62.0 106.3,61.2 106.9,62.3 107.5,62.6 108.1,61.7 108.7,61.0 109.3,64.7 109.9,67.9 110.5,69.4 111.1,71.4 111.7,73.4 112.3,75.0 112.9,77.0 113.5,77.0 114.1,78.5 114.7,77.7 115.3,78.5 115.9,79.7 116.5,79.2 117.1,78.4 117.7,78.6 118.3,76.8 118.9,77.4 119.5,77.4 120.1,75.3 120.7,70.3 121.3,64.7 121.9,62.2 122.5,59.9 123.1,60.2 123.7,58.8 124.3,58.5 124.9,59.5 125.5,60.2 126.1,57.9 126.7,62.0 127.3,60.3 127.9,63.0 128.5,63.7 129.1,65.6 129.7,65.1 130.3,66.2 130.9,67.0 131.5,67.2 132.1,67.1 132.7,68.0 133.3,68.0 133.9,67.2 134.5,66.2 135.1,65.2 135.7,66.0 136.3,65.4 136.9,65.6 137.5,65.0 138.1,65.3 138.7,66.3 139.3,66.8 139.9,66.7 140.5,66.8 141.1,66.4 141.7,65.8 142.3,65.1 142.9,64.6 143.5,64.6 144.1,63.6 144.7,64.8 145.3,69.7 145.9,73.5 146.5,79.9 147.1,84.0 147.7,85.0 148.3,84.7 148.9,86.3 149.5,85.9 150.1,85.1 150.7,85.8 151.3,84.5 151.9,85.6 152.5,84.9 153.1,86.2 153.7,85.9 154.3,86.5 154.9,86.8 155.5,86.7 156.1,87.1 156.7,87.0 157.3,86.6 157.9,86.7 158.5,86.7 159.1,85.6 159.7,85.8 160.3,86.6 160.9,86.6 161.5,86.9 162.1,86.1 162.7,87.4 163.3,87.5 163.9,87.7 164.5,88.5 165.1,89.2 165.7,89.1 166.3,89.3 166.9,89.0 167.5,88.4 168.1,88.3 168.7,89.1 169.3,89.3 169.9,89.3 170.5,89.2 171.1,88.8 171.7,88.3 172.3,88.0 172.9,89.0 173.5,89.5 174.1,88.5 174.7,89.3 175.3,90.3 175.9,90.6 176.5,91.3 177.1,90.9 177.7,91.2 178.3,92.3 178.9,92.7 179.5,92.9 180.1,92.7 180.7,92.9 181.3,90.9 181.9,91.1 182.5,90.6 183.1,89.4 183.7,88.4 184.3,88.4 184.9,87.1 185.5,86.9 186.1,85.9 186.7,85.8 187.3,85.5 187.9,84.9 188.5,85.2 189.1,85.7 189.7,86.0 190.3,86.0 190.9,86.7 191.5,87.4 192.1,87.1 192.7,85.4 193.3,85.8 193.9,84.2 194.5,83.6 195.1,84.3 195.7,84.1 196.3,84.1 196.9,84.5 197.5,85.2 198.1,85.6 198.7,85.3 199.3,85.3 199.9,85.3 200.5,85.6 201.1,86.3 201.7,85.7 202.3,84.7 202.9,85.3 203.5,86.2 204.1,87.7 204.7,87.8 205.3,87.8 205.9,89.3 206.5,89.0 207.1,89.1 207.7,89.7 208.3,88.8 208.9,88.9 209.5,88.0 210.1,88.8 210.7,87.4 211.3,87.5 211.9,87.8 212.5,88.2 213.1,88.5 213.7,88.3 214.3,87.2 214.9,87.6 215.5,87.7 216.1,89.9 216.7,90.2 217.3,91.7 217.9,91.8 218.5,91.3 219.1,91.1 219.7,90.7 220.3,91.5 220.9,92.4 221.5,93.1 222.1,92.9 222.7,92.9 223.3,93.0 223.9,92.5 224.5,92.4 225.1,91.0 225.7,91.1 226.3,90.9 226.9,91.8 227.5,90.8 228.1,91.0 228.7,91.6 229.3,91.5 229.9,90.9 230.5,91.5 231.1,90.6 231.7,89.8 232.3,89.2 232.9,87.8 233.5,86.4 234.1,83.3 234.7,83.1 235.3,82.3 235.9,79.6 236.5,77.8 237.1,74.9 237.7,72.7 238.3,71.6 238.9,69.4 239.5,67.1 240.1,67.8 240.7,69.0 241.3,69.5 241.9,70.4 242.5,72.9 243.1,72.5 243.7,72.4 244.3,71.9 244.9,70.5 245.5,69.4 246.1,68.3 246.7,69.0 247.3,66.9 247.9,65.3 248.5,63.8 249.1,65.2 249.7,70.7 250.3,73.3 250.9,71.4 251.5,70.9 252.1,73.7 252.7,75.3 253.3,75.8 253.9,78.4 254.5,80.9 255.1,81.5 255.7,81.2 256.3,81.7 256.9,80.8 257.5,79.8 258.1,80.0 258.7,79.0 259.3,78.0 259.9,77.6 260.5,78.3 261.1,79.3 261.7,78.7 262.3,78.8 262.9,79.4 263.5,79.9 264.1,79.7 264.7,78.8 265.3,78.0 265.9,80.3 266.5,79.8 267.1,80.7 267.7,80.1 268.3,77.9 268.9,79.4 269.5,79.0 270.1,79.3 270.7,78.6 271.3,77.5 271.9,76.9 272.5,76.7 273.1,76.5 273.7,76.7 274.3,77.6 274.9,76.8 275.5,75.2 276.1,72.8 276.7,71.4 277.3,69.8 277.9,68.2 278.5,66.1 279.1,64.0 279.7,64.1 280.3,64.3 280.9,64.3 281.5,63.8 282.1,65.2 282.7,66.7 283.3,68.3 283.9,68.7 284.5,70.5 285.1,71.1 285.7,72.3 286.3,74.2 286.9,74.2 287.5,74.9 288.1,74.3 288.7,74.0 289.3,74.8 289.9,75.0 290.5,75.4 291.1,75.5 291.7,76.5 292.3,76.0 292.9,76.8 293.5,75.9 294.1,76.4 294.7,75.7 295.3,75.2 295.9,76.2 296.5,75.2 297.1,74.4 297.7,73.9 298.3,73.4 298.9,74.8 299.5,72.2 300.1,74.0 300.7,73.1 301.3,73.8 301.9,73.4 302.5,74.0 303.1,72.4 303.7,73.7 304.3,73.6 304.9,73.2 305.5,73.6 306.1,75.4 306.7,76.3 307.3,74.4 307.9,72.9 308.5,71.4 309.1,71.0 309.7,71.1 310.3,69.3 310.9,67.9 311.5,69.2 312.1,69.3 312.7,69.7 313.3,70.6 313.9,71.5 314.5,72.5 315.1,74.5 315.7,75.2 316.3,76.2 316.3,81.5 315.7,81.3 315.1,80.4 314.5,79.5 313.9,79.2 313.3,78.2 312.7,78.3 312.1,77.5 311.5,76.9 310.9,77.4 310.3,77.9 309.7,78.1 309.1,77.8 308.5,78.3 307.9,79.3 307.3,80.8 306.7,82.5 306.1,81.1 305.5,81.3 304.9,81.5 304.3,81.6 303.7,82.5 303.1,82.8 302.5,81.9 301.9,82.0 301.3,81.7 300.7,81.5 300.1,81.1 299.5,79.9 298.9,81.0 298.3,81.6 297.7,80.8 297.1,81.8 296.5,81.4 295.9,83.1 295.3,80.5 294.7,82.4 294.1,82.3 293.5,82.7 292.9,82.3 292.3,82.0 291.7,82.2 291.1,82.2 290.5,81.9 289.9,81.1 289.3,81.0 288.7,81.4 288.1,81.6 287.5,81.6 286.9,81.7 286.3,81.3 285.7,78.8 285.1,79.4 284.5,77.7 283.9,76.1 283.3,75.6 282.7,75.9 282.1,74.8 281.5,74.0 280.9,73.5 280.3,73.4 279.7,74.1 279.1,74.4 278.5,75.6 277.9,76.1 277.3,78.5 276.7,79.0 276.1,80.4 275.5,81.5 274.9,82.7 274.3,83.7 273.7,83.7 273.1,84.1 272.5,83.6 271.9,84.6 271.3,84.8 270.7,85.9 270.1,86.5 269.5,87.2 268.9,87.0 268.3,87.0 267.7,86.9 267.1,88.6 266.5,88.1 265.9,87.5 265.3,85.9 264.7,86.2 264.1,87.9 263.5,87.8 262.9,88.4 262.3,86.3 261.7,85.6 261.1,85.6 260.5,84.2 259.9,85.3 259.3,85.2 258.7,85.5 258.1,87.1 257.5,86.9 256.9,87.3 256.3,87.2 255.7,88.2 255.1,88.0 254.5,86.5 253.9,85.8 253.3,84.4 252.7,83.5 252.1,83.1 251.5,82.1 250.9,83.2 250.3,85.3 249.7,83.1 249.1,77.5 248.5,72.1 247.9,73.7 247.3,75.9 246.7,77.0 246.1,77.3 245.5,75.6 244.9,77.3 244.3,78.6 243.7,78.1 243.1,79.2 242.5,78.7 241.9,78.3 241.3,76.9 240.7,75.8 240.1,76.2 239.5,75.1 238.9,77.4 238.3,79.3 237.7,80.8 237.1,83.0 236.5,85.7 235.9,87.5 235.3,89.1 234.7,89.0 234.1,89.8 233.5,92.7 232.9,93.6 232.3,95.3 231.7,95.0 231.1,96.0 230.5,97.0 229.9,96.9 229.3,97.4 228.7,97.5 228.1,96.8 227.5,97.2 226.9,97.5 226.3,97.3 225.7,98.0 225.1,96.7 224.5,98.2 223.9,98.4 223.3,99.1 222.7,98.6 222.1,99.2 221.5,99.8 220.9,98.6 220.3,97.2 219.7,97.1 219.1,97.2 218.5,97.1 217.9,97.6 217.3,97.3 216.7,95.5 216.1,95.3 215.5,93.4 214.9,93.4 214.3,92.5 213.7,94.1 213.1,93.2 212.5,93.6 211.9,92.7 211.3,93.3 210.7,92.9 210.1,94.2 209.5,93.7 208.9,94.0 208.3,94.0 207.7,94.4 207.1,95.2 206.5,94.2 205.9,94.4 205.3,93.7 204.7,93.2 204.1,92.3 203.5,91.1 202.9,91.6 202.3,90.7 201.7,90.9 201.1,91.9 200.5,91.2 199.9,91.2 199.3,92.0 198.7,91.9 198.1,90.8 197.5,91.0 196.9,90.4 196.3,90.3 195.7,91.1 195.1,90.6 194.5,89.9 193.9,91.4 193.3,91.4 192.7,92.2 192.1,92.8 191.5,93.1 190.9,92.6 190.3,91.7 189.7,92.3 189.1,91.9 188.5,90.9 187.9,90.7 187.3,90.4 186.7,91.1 186.1,91.8 185.5,92.2 184.9,92.0 184.3,93.3 183.7,93.3 183.1,94.1 182.5,95.3 181.9,95.4 181.3,95.8 180.7,96.7 180.1,97.8 179.5,97.5 178.9,97.0 178.3,97.1 177.7,97.2 177.1,96.3 176.5,96.1 175.9,96.2 175.3,95.8 174.7,95.3 174.1,94.1 173.5,94.9 172.9,94.9 172.3,92.9 171.7,94.1 171.1,94.2 170.5,94.2 169.9,93.9 169.3,93.9 168.7,93.3 168.1,93.6 167.5,92.9 166.9,93.9 166.3,94.2 165.7,93.8 165.1,94.1 164.5,93.4 163.9,93.4 163.3,92.9 162.7,92.7 162.1,92.3 161.5,91.4 160.9,92.1 160.3,91.6 159.7,91.3 159.1,91.8 158.5,92.6 157.9,92.1 157.3,92.4 156.7,93.8 156.1,94.0 155.5,92.2 154.9,93.3 154.3,92.3 153.7,92.6 153.1,92.2 152.5,91.6 151.9,92.3 151.3,91.5 150.7,92.5 150.1,92.8 149.5,92.2 148.9,92.4 148.3,92.4 147.7,92.2 147.1,91.5 146.5,87.1 145.9,81.7 145.3,76.9 144.7,72.8 144.1,72.2 143.5,72.6 142.9,72.0 142.3,72.8 141.7,73.4 141.1,74.0 140.5,75.0 139.9,75.9 139.3,74.6 138.7,74.6 138.1,74.5 137.5,74.6 136.9,74.0 136.3,74.1 135.7,73.7 135.1,73.9 134.5,73.8 133.9,73.8 133.3,75.3 132.7,74.5 132.1,74.5 131.5,74.3 130.9,74.0 130.3,74.0 129.7,73.2 129.1,73.9 128.5,73.3 127.9,72.2 127.3,71.7 126.7,72.1 126.1,69.0 125.5,69.8 124.9,70.2 124.3,70.7 123.7,70.2 123.1,73.8 122.5,74.8 121.9,76.0 121.3,77.0 120.7,79.4 120.1,84.2 119.5,86.4 118.9,86.0 118.3,85.0 117.7,87.4 117.1,87.5 116.5,87.0 115.9,87.8 115.3,86.5 114.7,86.3 114.1,86.5 113.5,85.2 112.9,85.0 112.3,83.3 111.7,82.6 111.1,80.4 110.5,79.6 109.9,77.1 109.3,75.2 108.7,72.8 108.1,73.4 107.5,73.8 106.9,74.5 106.3,73.2 105.7,73.9 105.1,74.0 104.5,72.5 103.9,73.8 103.3,71.0 102.7,70.2 102.1,68.7 101.5,68.1 100.9,68.1 100.3,68.0 99.7,69.4 99.1,70.2 98.5,70.1 97.9,74.1 97.3,75.5 96.7,77.1 96.1,78.5 95.5,80.1 94.9,79.9 94.3,80.3 93.7,81.4 93.1,80.0 92.5,81.4 91.9,82.6 91.3,85.3 90.7,83.6 90.1,85.4 89.5,84.7 88.9,85.7 88.3,88.7 87.7,89.7 87.1,87.7 86.5,87.9 85.9,88.7 85.3,88.6 84.7,87.4 84.1,88.2 83.5,89.9 82.9,89.4 82.3,88.2 81.7,87.4 81.1,86.3 80.5,84.7 79.9,85.4 79.3,86.6 78.7,87.0 78.1,84.4 77.5,84.0 76.9,83.8 76.3,84.6 75.7,81.3 75.1,82.8 74.5,83.5 73.9,85.5 73.3,86.9 72.7,84.8 72.1,87.0 71.5,87.1 70.9,87.7 70.3,89.3 69.7,91.4 69.1,90.8 68.5,92.4 67.9,90.2 67.3,89.9 66.7,90.8 66.1,90.9 65.5,91.6 64.9,90.2 64.3,90.2 63.7,89.4 63.1,89.7 62.5,90.1 61.9,89.9 61.3,90.3 60.7,90.7 60.1,89.3 59.5,91.2 58.9,90.5 58.3,91.7 57.7,90.8 57.1,93.3 56.5,94.8 55.9,95.6 55.3,102.6 54.7,107.7 54.1,111.3 53.5,111.2 52.9,112.9 52.3,113.6 51.7,113.8 51.1,113.3 50.5,113.6 49.9,114.6 49.3,115.3 48.7,115.2 48.1,115.4 47.5,114.8 46.9,116.8"/><polyline fill="none" stroke="#f00" stroke-width="0.6" stroke-linejoin="round" points="46.9,107.5 47.0,105.1 47.1,105.9 47.3,116.0 47.4,102.5 47.5,103.6 47.6,111.0 47.7,107.4 47.9,112.0 48.0,117.5 48.1,110.2 48.2,106.2 48.3,120.8 48.5,121.0 48.6,116.9 48.7,109.9 48.8,107.1 48.9,105.8 49.1,115.5 49.2,122.1 49.3,113.2 49.4,110.8 49.5,115.3 49.7,107.4 49.8,102.5 49.9,120.0 50.0,121.9 50.1,115.4 50.3,120.5 50.4,113.5 50.5,120.7 50.6,113.3 50.7,105.4 50.9,100.6 51.0,106.4 51.1,116.6 51.2,113.8 51.3,99.4 51.5,100.0 51.6,115.9 51.7,116.0 51.8,118.4 51.9,110.8 52.1,110.7 52.2,113.0 52.3,112.8 52.4,99.3 52.5,109.3 52.7,101.1 52.8,113.6 52.9,110.7 53.0,114.4 53.1,114.3 53.3,111.7 53.4,118.3 53.5,105.7 53.6,113.2 53.7,115.1 53.9,108.1 54.0,118.3 54.1,116.3 54.2,108.5 54.3,113.7 54.5,106.7 54.6,117.3 54.7,103.0 54.8,92.3 54.9,101.4 55.1,87.7 55.2,95.6 55.3,87.2 55.4,104.0 55.5,92.9 55.7,82.4 55.8,90.7 55.9,74.7 56.0,109.8 56.1,103.0 56.3,76.6 56.4,93.2 56.5,78.1 56.6,79.4 56.7,93.8 56.9,106.4 57.0,85.9 57.1,73.4 57.2,72.5 57.3,82.2 57.5,72.5 57.6,83.4 57.7,74.6 57.8,76.3 57.9,78.4 58.1,87.8 58.2,72.1 58.3,77.3 58.4,94.7 58.5,102.0 58.7,105.9 58.8,86.4 58.9,79.4 59.0,85.7 59.1,75.0 59.3,72.8 59.4,80.5 59.5,79.5 59.6,73.3 59.7,85.4 59.9,88.7 60.0,77.4 60.1,80.1 60.2,75.8 60.3,79.9 60.5,96.7 60.6,80.2 60.7,91.9 60.8,75.7 60.9,97.4 61.1,105.7 61.2,84.7 61.3,89.1 61.4,102.5 61.5,96.4 61.7,96.9 61.8,99.9 61.9,104.5 62.0,99.6 62.1,75.8 62.3,70.8 62.4,70.5 62.5,69.6 62.6,79.3 62.7,81.5 62.9,80.3 63.0,85.6 63.1,100.2 63.2,88.1 63.3,91.0 63.5,93.9 63.6,94.5 63.7,101.4 63.8,100.3 63.9,103.8 64.1,101.8 64.2,86.2 64.3,78.5 64.4,83.5 64.5,79.1 64.7,76.5 64.8,80.6 64.9,87.3 65.0,86.5 65.1,69.6 65.3,100.5 65.4,99.0 65.5,102.9 65.6,101.2 65.7,94.4 65.9,88.8 66.0,78.5 66.1,69.3 66.2,81.5 66.3,88.5 66.5,74.6 66.6,73.3 66.7,85.7 66.8,92.0 66.9,92.2 67.1,76.5 67.2,98.3 67.3,101.2 67.4,91.9 67.5,79.3 67.7,71.9 67.8,85.7 67.9,71.6 68.0,70.8 68.1,75.9 68.3,83.7 68.4,70.3 68.5,75.7 68.6,87.2 68.7,78.5 68.9,92.9 69.0,95.3 69.1,101.0 69.2,94.0 69.3,94.6 69.5,97.8 69.6,95.1 69.7,82.7 69.8,72.8 69.9,71.7 70.1,77.5 70.2,90.4 70.3,95.5 70.4,85.9 70.5,75.0 70.7,71.8 70.8,79.1 70.9,89.5 71.0,69.3 71.1,66.9 71.3,81.0 71.4,93.9 71.5,95.8 71.6,93.9 71.7,81.5 71.9,78.7 72.0,92.5 72.1,82.5 72.2,71.4 72.3,78.8 72.5,92.8 72.6,65.8 72.7,74.0 72.8,93.0 72.9,80.8 73.1,71.4 73.2,70.7 73.3,67.3 73.4,76.8 73.5,81.0 73.7,63.8 73.8,71.0 73.9,90.6 74.0,77.9 74.1,102.4 74.3,100.5 74.4,102.2 74.5,86.4 74.6,92.9 74.7,77.8 74.9,75.5 75.0,86.8 75.1,98.6 75.2,94.4 75.3,75.9 75.5,89.7 75.6,60.4 75.7,65.4 75.8,80.6 75.9,71.6 76.1,77.4 76.2,75.2 76.3,69.2 76.4,78.8 76.5,74.3 76.7,65.9 76.8,64.8 76.9,71.7 77.0,70.4 77.1,65.1 77.3,89.9 77.4,95.0 77.5,91.3 77.6,74.4 77.7,64.1 77.9,62.8 78.0,73.7 78.1,74.1 78.2,65.0 78.3,69.2 78.5,76.7 78.6,81.9 78.7,84.2 78.8,69.8 78.9,97.5 79.1,98.9 79.2,71.0 79.3,76.0 79.4,87.4 79.5,73.3 79.7,97.5 79.8,85.9 79.9,85.4 80.0,70.7 80.1,66.9 80.3,74.4 80.4,67.1 80.5,95.3 80.6,74.9 80.7,76.7 80.9,70.6 81.0,79.9 81.1,90.4 81.2,92.5 81.3,87.1 81.5,87.1 81.6,99.5 81.7,97.4 81.8,82.9 81.9,84.3 82.1,70.9 82.2,75.5 82.3,97.2 82.4,88.9 82.5,67.9 82.7,90.5 82.8,71.0 82.9,87.0 83.0,79.3 83.1,89.9 83.3,74.1 83.4,77.6 83.5,94.2 83.6,93.2 83.7,98.2 83.9,94.2 84.0,85.5 84.1,90.9 84.2,78.7 84.3,69.4 84.5,71.9 84.6,77.5 84.7,91.2 84.8,92.5 84.9,79.8 85.1,90.2 85.2,80.7 85.3,89.7 85.4,86.4 85.5,78.3 85.7,76.4 85.8,89.4 85.9,91.5 86.0,91.2 86.1,68.9 86.3,73.0 86.4,77.9 86.5,82.4 86.6,92.1 86.7,91.2 86.9,96.3 87.0,88.2 87.1,78.5 87.2,77.7 87.3,68.1 87.5,76.5 87.6,75.1 87.7,81.3 87.8,75.2 87.9,90.9 88.1,87.5 88.2,83.3 88.3,93.9 88.4,89.0 88.5,96.4 88.7,67.9 88.8,90.4 88.9,95.5 89.0,79.5 89.1,88.8 89.3,81.9 89.4,79.0 89.5,82.9 89.6,82.5 89.7,66.1 89.9,69.2 90.0,79.1 90.1,67.5 90.2,65.7 90.3,66.1 90.5,70.6 90.6,89.1 90.7,65.0 90.8,72.6 90.9,91.6 91.1,88.7 91.2,87.2 91.3,92.1 91.4,73.2 91.5,61.7 91.7,69.8 91.8,79.1 91.9,94.3 92.0,80.2 92.1,71.6 92.3,84.7 92.4,82.0 92.5,88.1 92.6,85.5 92.7,83.3 92.9,75.2 93.0,91.6 93.1,73.5 93.2,84.6 93.3,62.0 93.5,64.5 93.6,59.8 93.7,61.5 93.8,59.3 93.9,64.6 94.1,69.9 94.2,57.7 94.3,59.4 94.4,71.6 94.5,89.9 94.7,85.7 94.8,61.4 94.9,85.3 95.0,93.0 95.1,82.8 95.3,64.7 95.4,58.1 95.5,57.6 95.6,73.5 95.7,79.0 95.9,56.1 96.0,54.0 96.1,79.6 96.2,63.6 96.3,52.9 96.5,58.6 96.6,51.4 96.7,58.2 96.8,73.0 96.9,81.8 97.1,82.2 97.2,71.6 97.3,68.4 97.4,77.6 97.5,65.4 97.7,76.1 97.8,88.4 97.9,72.9 98.0,57.5 98.1,82.2 98.3,68.4 98.4,52.1 98.5,69.8 98.6,74.7 98.7,56.0 98.9,66.9 99.0,74.9 99.1,81.9 99.2,70.5 99.3,48.9 99.5,64.2 99.6,55.9 99.7,55.5 99.8,88.2 99.9,64.6 100.1,68.8 100.2,85.1 100.3,82.7 100.4,62.8 100.5,57.0 100.7,81.7 100.8,76.1 100.9,60.7 101.0,84.0 101.1,72.5 101.3,44.5 101.4,55.0 101.5,62.5 101.6,46.7 101.7,42.9 101.9,61.2 102.0,59.5 102.1,80.6 102.2,54.7 102.3,73.8 102.5,74.7 102.6,63.0 102.7,66.2 102.8,53.3 102.9,44.9 103.1,80.9 103.2,84.2 103.3,75.1 103.4,86.2 103.5,81.2 103.7,67.2 103.8,75.0 103.9,76.2 104.0,62.2 104.1,66.3 104.3,55.0 104.4,63.6 104.5,63.6 104.6,75.8 104.7,53.0 104.9,67.0 105.0,52.9 105.1,58.4 105.2,48.3 105.3,54.5 105.5,64.8 105.6,59.0 105.7,67.1 105.8,55.0 105.9,78.0 106.1,55.3 106.2,60.9 106.3,72.8 106.4,73.5 106.5,84.4 106.7,80.0 106.8,51.4 106.9,77.4 107.0,55.8 107.1,83.4 107.3,66.0 107.4,62.3 107.5,59.3 107.6,66.8 107.7,47.7 107.9,87.4 108.0,83.1 108.1,71.2 108.2,49.6 108.3,66.1 108.5,50.7 108.6,73.0 108.7,60.4 108.8,56.5 108.9,55.1 109.1,58.6 109.2,71.3 109.3,64.8 109.4,72.5 109.5,81.4 109.7,91.2 109.8,84.0 109.9,60.0 110.0,62.2 110.1,69.4 110.3,77.5 110.4,60.7 110.5,65.2 110.6,67.1 110.7,62.3 110.9,60.1 111.0,67.1 111.1,66.2 111.2,68.0 111.3,64.4 111.5,77.1 111.6,79.9 111.7,93.0 111.8,81.8 111.9,81.8 112.1,79.9 112.2,87.9 112.3,84.4 112.4,73.4 112.5,91.1 112.7,78.5 112.8,81.1 112.9,96.1 113.0,81.8 113.1,91.1 113.3,92.0 113.4,84.8 113.5,95.8 113.6,82.4 113.7,74.4 113.9,89.6 114.0,87.9 114.1,72.4 114.2,72.1 114.3,77.3 114.5,69.9 114.6,79.3 114.7,81.2 114.8,79.2 114.9,74.4 115.1,74.0 115.2,88.3 115.3,96.4 115.4,90.7 115.5,79.1 115.7,88.9 115.8,79.5 115.9,90.0 116.0,84.0 116.1,86.9 116.3,82.0 116.4,76.5 116.5,85.5 116.6,98.3 116.7,83.6 116.9,88.4 117.0,78.4 117.1,80.6 117.2,83.2 117.3,77.0 117.5,84.9 117.6,79.3 117.7,76.2 117.8,70.3 117.9,80.4 118.1,77.0 118.2,76.7 118.3,76.5 118.4,75.6 118.5,69.6 118.7,67.5 118.8,73.2 118.9,69.2 119.0,77.7 119.1,70.1 119.3,81.0 119.4,74.0 119.5,68.5 119.6,70.6 119.7,82.3 119.9,94.1 120.0,91.1 120.1,90.8 120.2,86.2 120.3,92.7 120.5,86.2 120.6,64.7 120.7,82.2 120.8,60.0 120.9,66.4 121.1,80.4 121.2,64.2 121.3,76.3 121.4,69.6 121.5,55.8 121.7,58.3 121.8,58.0 121.9,56.2 122.0,59.5 122.1,78.4 122.3,56.4 122.4,50.8 122.5,77.4 122.6,74.5 122.7,84.5 122.9,55.7 123.0,55.7 123.1,62.2 123.2,66.5 123.3,48.7 123.5,48.3 123.6,50.1 123.7,61.1 123.8,61.6 123.9,55.4 124.1,52.9 124.2,70.3 124.3,79.9 124.4,82.4 124.5,86.3 124.7,87.3 124.8,81.5 124.9,67.0 125.0,78.8 125.1,53.3 125.3,73.8 125.4,69.3 125.5,67.2 125.6,82.4 125.7,66.1 125.9,59.3 126.0,74.4 126.1,61.6 126.2,75.8 126.3,73.9 126.5,81.2 126.6,68.5 126.7,66.5 126.8,56.3 126.9,81.7 127.1,54.7 127.2,56.6 127.3,54.5 127.4,59.3 127.5,74.2 127.7,79.0 127.8,52.3 127.9,74.9 128.0,77.1 128.1,67.1 128.3,60.7 128.4,76.8 128.5,57.1 128.6,81.9 128.7,74.8 128.9,71.4 129.0,76.5 129.1,75.9 129.2,57.6 129.3,60.7 129.5,62.4 129.6,63.0 129.7,79.9 129.8,79.5 129.9,73.3 130.1,82.4 130.2,83.6 130.3,72.4 130.4,61.6 130.5,77.4 130.7,69.0 130.8,73.0 130.9,60.3 131.0,67.0 131.1,76.4 131.3,61.6 131.4,71.4 131.5,74.9 131.6,68.6 131.7,74.9 131.9,71.5 132.0,81.6 132.1,74.1 132.2,64.1 132.3,65.2 132.5,61.3 132.6,60.6 132.7,78.6 132.8,80.7 132.9,81.9 133.1,80.3 133.2,84.0 133.3,72.0 133.4,60.1 133.5,68.4 133.7,72.4 133.8,77.1 133.9,59.4 134.0,76.8 134.1,64.5 134.3,84.2 134.4,84.8 134.5,71.0 134.6,83.6 134.7,82.1 134.9,79.5 135.0,77.5 135.1,69.4 135.2,58.4 135.3,64.3 135.5,68.7 135.6,68.1 135.7,72.9 135.8,63.2 135.9,80.7 136.1,67.7 136.2,75.9 136.3,66.5 136.4,55.5 136.5,74.0 136.7,59.7 136.8,70.1 136.9,80.2 137.0,78.3 137.1,82.8 137.3,70.8 137.4,76.1 137.5,85.3 137.6,63.6 137.7,69.6 137.9,71.4 138.0,67.3 138.1,81.4 138.2,85.0 138.3,77.5 138.5,68.7 138.6,65.7 138.7,62.1 138.8,71.0 138.9,82.7 139.1,72.7 139.2,76.8 139.3,71.1 139.4,63.0 139.5,72.6 139.7,58.7 139.8,62.6 139.9,76.4 140.0,72.5 140.1,67.2 140.3,59.7 140.4,64.4 140.5,61.1 140.6,60.1 140.7,58.0 140.9,58.4 141.0,68.2 141.1,59.2 141.2,59.4 141.3,63.0 141.5,72.0 141.6,67.9 141.7,78.4 141.8,76.9 141.9,80.3 142.1,80.4 142.2,64.2 142.3,62.1 142.4,79.4 142.5,82.8 142.7,76.9 142.8,84.5 142.9,80.5 143.0,71.4 143.1,64.1 143.3,58.8 143.4,57.6 143.5,58.1 143.6,62.8 143.7,76.1 143.9,72.7 144.0,68.6 144.1,55.2 144.2,56.5 144.3,61.6 144.5,77.1 144.6,78.7 144.7,69.3 144.8,72.3 144.9,83.8 145.1,82.2 145.2,66.9 145.3,63.9 145.4,68.7 145.5,66.3 145.7,77.0 145.8,73.8 145.9,87.0 146.0,83.8 146.1,81.7 146.3,78.7 146.4,80.0 146.5,83.9 146.6,90.1 146.7,97.9 146.9,93.4 147.0,85.3 147.1,91.9 147.2,96.4 147.3,101.5 147.5,86.0 147.6,76.3 147.7,77.1 147.8,78.5 147.9,81.7 148.1,86.3 148.2,87.1 148.3,88.3 148.4,83.0 148.5,83.4 148.7,89.2 148.8,78.1 148.9,77.9 149.0,83.1 149.1,98.9 149.3,95.4 149.4,91.8 149.5,79.4 149.6,93.0 149.7,94.2 149.9,93.4 150.0,99.3 150.1,92.7 150.2,85.1 150.3,88.4 150.5,99.5 150.6,100.3 150.7,98.2 150.8,85.5 150.9,78.4 151.1,81.3 151.2,83.0 151.3,88.3 151.4,87.1 151.5,79.5 151.7,89.4 151.8,78.5 151.9,80.6 152.0,94.6 152.1,96.8 152.3,84.2 152.4,80.5 152.5,88.9 152.6,98.5 152.7,84.0 152.9,83.5 153.0,81.8 153.1,81.8 153.2,95.2 153.3,92.6 153.5,97.5 153.6,98.3 153.7,92.2 153.8,84.3 153.9,94.8 154.1,80.5 154.2,79.9 154.3,80.4 154.4,86.2 154.5,88.1 154.7,97.5 154.8,100.6 154.9,89.3 155.0,86.1 155.1,93.2 155.3,88.1 155.4,81.9 155.5,82.2 155.6,81.9 155.7,81.1 155.9,101.5 156.0,87.5 156.1,98.1 156.2,95.8 156.3,89.6 156.5,90.5 156.6,94.6 156.7,94.2 156.8,95.5 156.9,96.8 157.1,99.8 157.2,95.5 157.3,92.7 157.4,86.2 157.5,101.1 157.7,96.7 157.8,94.3 157.9,91.5 158.0,85.7 158.1,97.4 158.3,83.9 158.4,94.0 158.5,91.3 158.6,84.1 158.7,89.8 158.9,84.7 159.0,84.2 159.1,91.9 159.2,84.3 159.3,85.0 159.5,86.6 159.6,86.8 159.7,86.5 159.8,87.5 159.9,90.7 160.1,87.7 160.2,93.1 160.3,94.9 160.4,85.9 160.5,85.0 160.7,96.7 160.8,84.2 160.9,90.1 161.0,99.5 161.1,100.1 161.3,87.3 161.4,92.4 161.5,86.5 161.6,95.1 161.7,90.3 161.9,83.9 162.0,83.8 162.1,87.1 162.2,99.7 162.3,98.8 162.5,93.4 162.6,94.0 162.7,82.8 162.8,92.8 162.9,93.9 163.1,89.2 163.2,98.1 163.3,85.6 163.4,84.6 163.5,82.2 163.7,81.9 163.8,88.4 163.9,86.0 164.0,89.7 164.1,90.9 164.3,92.4 164.4,94.3 164.5,82.8 164.6,91.3 164.7,95.7 164.9,98.8 165.0,96.3 165.1,95.9 165.2,97.9 165.3,93.0 165.5,89.7 165.6,84.0 165.7,86.2 165.8,85.9 165.9,92.0 166.1,96.2 166.2,91.0 166.3,97.6 166.4,93.5 166.5,89.5 166.7,92.1 166.8,86.8 166.9,92.0 167.0,97.7 167.1,99.7 167.3,89.3 167.4,90.5 167.5,99.6 167.6,94.0 167.7,86.5 167.9,84.5 168.0,85.2 168.1,89.0 168.2,94.0 168.3,98.6 168.5,84.6 168.6,83.2 168.7,87.4 168.8,83.2 168.9,90.9 169.1,96.7 169.2,99.4 169.3,88.6 169.4,92.5 169.5,92.6 169.7,94.2 169.8,92.8 169.9,99.9 170.0,95.1 170.1,87.7 170.3,90.1 170.4,90.8 170.5,95.6 170.6,90.7 170.7,89.8 170.9,90.4 171.0,93.2 171.1,89.3 171.2,89.3 171.3,91.0 171.5,88.9 171.6,97.6 171.7,99.4 171.8,84.3 171.9,91.1 172.1,88.1 172.2,83.0 172.3,88.8 172.4,83.4 172.5,86.8 172.7,87.4 172.8,85.7 172.9,100.0 173.0,94.1 173.1,94.8 173.3,92.5 173.4,96.0 173.5,88.7 173.6,90.6 173.7,91.2 173.9,87.0 174.0,82.8 174.1,83.3 174.2,99.5 174.3,88.4 174.5,90.7 174.6,90.1 174.7,97.4 174.8,90.3 174.9,90.8 175.1,90.5 175.2,95.2 175.3,91.8 175.4,94.8 175.5,97.9 175.7,92.0 175.8,87.4 175.9,84.2 176.0,94.8 176.1,98.3 176.3,84.3 176.4,95.2 176.5,99.3 176.6,87.7 176.7,94.6 176.9,101.7 177.0,91.4 177.1,96.9 177.2,97.7 177.3,85.3 177.5,87.7 177.6,95.8 177.7,84.4 177.8,98.4 177.9,97.7 178.1,95.9 178.2,92.3 178.3,99.1 178.4,94.1 178.5,95.2 178.7,89.5 178.8,94.0 178.9,92.7 179.0,93.6 179.1,92.3 179.3,95.7 179.4,99.6 179.5,94.2 179.6,91.0 179.7,101.7 179.9,86.7 180.0,99.9 180.1,93.9 180.2,93.5 180.3,88.9 180.5,86.6 180.6,98.3 180.7,94.7 180.8,99.9 180.9,90.0 181.1,100.6 181.2,100.7 181.3,98.1 181.4,89.7 181.5,89.5 181.7,93.2 181.8,86.5 181.9,94.3 182.0,91.9 182.1,83.9 182.3,91.1 182.4,87.2 182.5,84.2 182.6,85.3 182.7,87.8 182.9,96.8 183.0,96.9 183.1,98.0 183.2,96.9 183.3,86.0 183.5,90.8 183.6,88.1 183.7,87.9 183.8,88.7 183.9,92.5 184.1,85.9 184.2,83.2 184.3,92.2 184.4,91.2 184.5,86.3 184.7,98.2 184.8,90.9 184.9,99.4 185.0,87.5 185.1,92.9 185.3,97.4 185.4,94.3 185.5,95.9 185.6,83.6 185.7,81.7 185.9,85.1 186.0,81.5 186.1,81.6 186.2,80.9 186.3,87.4 186.5,81.3 186.6,91.0 186.7,97.5 186.8,93.0 186.9,87.3 187.1,96.6 187.2,89.2 187.3,93.5 187.4,95.2 187.5,90.4 187.7,84.4 187.8,93.2 187.9,96.4 188.0,77.9 188.1,96.0 188.3,95.0 188.4,81.7 188.5,87.2 188.6,90.1 188.7,88.7 188.9,82.5 189.0,86.0 189.1,96.1 189.2,91.8 189.3,97.8 189.5,96.9 189.6,97.3 189.7,90.0 189.8,85.9 189.9,88.3 190.1,88.5 190.2,82.1 190.3,86.6 190.4,83.3 190.5,83.0 190.7,90.1 190.8,85.3 190.9,96.6 191.0,99.6 191.1,96.1 191.3,99.2 191.4,99.4 191.5,81.8 191.6,86.8 191.7,97.6 191.9,99.0 192.0,96.1 192.1,84.5 192.2,98.8 192.3,86.9 192.5,79.5 192.6,78.9 192.7,89.9 192.8,81.3 192.9,93.9 193.1,89.0 193.2,94.8 193.3,85.4 193.4,95.1 193.5,81.7 193.7,88.4 193.8,86.7 193.9,87.9 194.0,83.0 194.1,92.3 194.3,80.6 194.4,79.8 194.5,84.0 194.6,98.5 194.7,92.2 194.9,95.4 195.0,80.0 195.1,78.1 195.2,80.8 195.3,78.1 195.5,89.2 195.6,76.1 195.7,93.7 195.8,98.6 195.9,89.0 196.1,93.3 196.2,88.8 196.3,86.5 196.4,87.5 196.5,96.2 196.7,96.0 196.8,97.6 196.9,91.5 197.0,84.8 197.1,81.1 197.3,91.1 197.4,90.1 197.5,79.6 197.6,95.0 197.7,97.0 197.9,94.7 198.0,91.8 198.1,79.2 198.2,79.1 198.3,77.9 198.5,79.7 198.6,94.6 198.7,97.2 198.8,94.3 198.9,93.1 199.1,89.2 199.2,89.6 199.3,84.7 199.4,96.1 199.5,95.4 199.7,89.2 199.8,78.1 199.9,79.0 200.0,93.7 200.1,93.3 200.3,85.0 200.4,87.9 200.5,91.3 200.6,90.0 200.7,77.6 200.9,80.8 201.0,85.1 201.1,88.6 201.2,85.8 201.3,90.2 201.5,83.9 201.6,97.3 201.7,85.6 201.8,92.5 201.9,84.5 202.1,81.8 202.2,80.7 202.3,92.3 202.4,88.5 202.5,96.3 202.7,91.4 202.8,93.4 202.9,96.7 203.0,88.9 203.1,95.8 203.3,88.5 203.4,90.5 203.5,91.3 203.6,96.4 203.7,91.0 203.9,96.7 204.0,86.8 204.1,81.7 204.2,91.9 204.3,79.6 204.5,88.9 204.6,82.5 204.7,86.1 204.8,93.3 204.9,89.7 205.1,90.2 205.2,92.4 205.3,90.8 205.4,91.7 205.5,81.0 205.7,94.3 205.8,98.6 205.9,96.0 206.0,85.9 206.1,85.1 206.3,81.0 206.4,85.3 206.5,92.0 206.6,90.2 206.7,99.2 206.9,99.0 207.0,95.5 207.1,95.7 207.2,95.1 207.3,99.9 207.5,93.2 207.6,86.5 207.7,89.4 207.8,95.4 207.9,93.3 208.1,95.9 208.2,92.6 208.3,99.6 208.4,98.9 208.5,95.0 208.7,93.6 208.8,90.2 208.9,92.0 209.0,92.5 209.1,82.6 209.3,87.8 209.4,96.7 209.5,87.5 209.6,81.8 209.7,80.8 209.9,82.5 210.0,89.1 210.1,89.8 210.2,94.5 210.3,90.5 210.5,93.5 210.6,81.2 210.7,86.2 210.8,87.6 210.9,91.1 211.1,89.3 211.2,93.8 211.3,84.6 211.4,99.0 211.5,91.5 211.7,86.6 211.8,82.8 211.9,92.8 212.0,85.4 212.1,87.3 212.3,82.1 212.4,89.8 212.5,81.5 212.6,89.8 212.7,97.2 212.9,92.4 213.0,92.1 213.1,84.0 213.2,83.4 213.3,85.3 213.5,86.0 213.6,84.8 213.7,84.9 213.8,95.4 213.9,91.2 214.1,92.5 214.2,84.4 214.3,91.2 214.4,95.6 214.5,98.7 214.7,88.9 214.8,83.3 214.9,96.9 215.0,96.3 215.1,85.5 215.3,84.7 215.4,89.0 215.5,100.6 215.6,100.9 215.7,94.1 215.9,94.9 216.0,92.4 216.1,100.2 216.2,91.8 216.3,88.7 216.5,83.8 216.6,83.0 216.7,85.2 216.8,84.3 216.9,101.6 217.1,99.4 217.2,97.1 217.3,92.7 217.4,99.0 217.5,98.2 217.7,95.2 217.8,102.7 217.9,99.6 218.0,89.4 218.1,93.9 218.3,93.1 218.4,101.3 218.5,103.9 218.6,103.4 218.7,101.6 218.9,99.4 219.0,87.1 219.1,87.4 219.2,88.1 219.3,89.2 219.5,90.0 219.6,89.7 219.7,98.2 219.8,94.7 219.9,94.2 220.1,92.9 220.2,94.4 220.3,105.5 220.4,105.0 220.5,90.6 220.7,93.7 220.8,105.1 220.9,94.5 221.0,98.7 221.1,88.6 221.3,96.4 221.4,106.4 221.5,98.1 221.6,96.8 221.7,104.0 221.9,94.7 222.0,97.5 222.1,89.1 222.2,106.8 222.3,98.2 222.5,100.6 222.6,103.2 222.7,100.0 222.8,94.9 222.9,99.4 223.1,91.8 223.2,86.4 223.3,92.4 223.4,97.0 223.5,94.8 223.7,97.7 223.8,88.6 223.9,87.7 224.0,84.8 224.1,84.9 224.3,84.0 224.4,90.9 224.5,83.8 224.6,100.1 224.7,97.0 224.9,90.6 225.0,87.3 225.1,90.2 225.2,103.1 225.3,92.7 225.5,98.1 225.6,87.2 225.7,85.8 225.8,84.5 225.9,85.5 226.1,93.2 226.2,95.2 226.3,97.1 226.4,95.0 226.5,92.3 226.7,97.0 226.8,96.5 226.9,90.0 227.0,88.6 227.1,91.2 227.3,88.0 227.4,93.3 227.5,100.9 227.6,96.5 227.7,91.4 227.9,103.5 228.0,88.6 228.1,88.5 228.2,96.0 228.3,103.0 228.5,97.0 228.6,91.2 228.7,91.2 228.8,88.8 228.9,102.7 229.1,102.1 229.2,103.5 229.3,98.1 229.4,91.8 229.5,103.6 229.7,100.3 229.8,101.3 229.9,97.6 230.0,91.5 230.1,93.1 230.3,94.3 230.4,92.9 230.5,86.3 230.6,100.2 230.7,87.6 230.9,83.9 231.0,83.6 231.1,92.2 231.2,88.4 231.3,82.9 231.5,84.7 231.6,85.2 231.7,89.4 231.8,94.8 231.9,97.3 232.1,94.3 232.2,85.9 232.3,90.3 232.4,83.1 232.5,97.4 232.7,93.7 232.8,88.5 232.9,89.2 233.0,84.5 233.1,81.0 233.3,94.8 233.4,85.3 233.5,87.3 233.6,81.2 233.7,77.1 233.9,76.8 234.0,87.0 234.1,91.4 234.2,85.6 234.3,86.0 234.5,83.3 234.6,88.3 234.7,83.6 234.8,86.3 234.9,80.2 235.1,76.8 235.2,83.3 235.3,94.2 235.4,86.5 235.5,75.6 235.7,82.5 235.8,82.4 235.9,74.8 236.0,75.0 236.1,71.5 236.3,71.7 236.4,82.9 236.5,82.0 236.6,89.5 236.7,81.1 236.9,81.9 237.0,72.1 237.1,82.5 237.2,82.2 237.3,76.7 237.5,84.9 237.6,75.9 237.7,80.2 237.8,74.3 237.9,72.2 238.1,74.5 238.2,65.6 238.3,66.9 238.4,74.5 238.5,68.9 238.7,81.2 238.8,71.9 238.9,72.0 239.0,78.4 239.1,62.0 239.3,61.5 239.4,75.5 239.5,72.6 239.6,61.8 239.7,66.2 239.9,59.6 240.0,69.8 240.1,76.9 240.2,63.3 240.3,66.5 240.5,72.9 240.6,73.4 240.7,64.6 240.8,74.1 240.9,64.8 241.1,63.5 241.2,63.1 241.3,85.2 241.4,73.6 241.5,82.8 241.7,81.3 241.8,72.4 241.9,72.6 242.0,84.7 242.1,77.2 242.3,63.3 242.4,80.1 242.5,66.3 242.6,79.3 242.7,78.2 242.9,72.8 243.0,84.0 243.1,73.8 243.2,83.6 243.3,86.6 243.5,71.6 243.6,86.7 243.7,67.6 243.8,86.9 243.9,79.1 244.1,69.5 244.2,69.8 244.3,66.5 244.4,69.1 244.5,78.1 244.7,72.6 244.8,81.9 244.9,73.4 245.0,78.2 245.1,79.5 245.3,81.1 245.4,69.3 245.5,65.1 245.6,69.4 245.7,78.6 245.9,72.7 246.0,75.5 246.1,66.6 246.2,72.1 246.3,76.7 246.5,83.8 246.6,72.0 246.7,65.5 246.8,58.7 246.9,78.7 247.1,85.4 247.2,69.5 247.3,75.7 247.4,76.1 247.5,79.3 247.7,60.2 247.8,63.4 247.9,54.4 248.0,62.4 248.1,79.1 248.3,53.6 248.4,72.7 248.5,54.7 248.6,64.7 248.7,53.2 248.9,60.0 249.0,69.4 249.1,72.9 249.2,83.1 249.3,64.6 249.5,64.9 249.6,72.3 249.7,70.7 249.8,61.3 249.9,96.6 250.1,63.9 250.2,92.1 250.3,92.3 250.4,95.0 250.5,95.6 250.7,72.4 250.8,78.9 250.9,74.8 251.0,84.8 251.1,75.2 251.3,66.1 251.4,62.6 251.5,64.3 251.6,66.6 251.7,67.0 251.9,65.6 252.0,69.2 252.1,65.2 252.2,78.3 252.3,71.6 252.5,68.3 252.6,79.9 252.7,94.0 252.8,83.0 252.9,78.2 253.1,76.5 253.2,68.2 253.3,76.1 253.4,70.0 253.5,81.9 253.7,76.9 253.8,83.0 253.9,90.6 254.0,74.7 254.1,84.0 254.3,85.6 254.4,76.3 254.5,77.2 254.6,93.5 254.7,91.4 254.9,76.1 255.0,86.8 255.1,82.3 255.2,90.9 255.3,88.7 255.5,81.5 255.6,83.2 255.7,86.4 255.8,84.0 255.9,91.0 256.1,82.3 256.2,82.6 256.3,81.1 256.4,86.0 256.5,79.7 256.7,86.5 256.8,90.3 256.9,92.6 257.0,87.3 257.1,77.4 257.3,84.2 257.4,75.4 257.5,79.1 257.6,89.2 257.7,78.8 257.9,74.9 258.0,76.6 258.1,82.6 258.2,84.2 258.3,77.5 258.5,71.9 258.6,83.6 258.7,77.4 258.8,80.7 258.9,88.6 259.1,88.3 259.2,79.0 259.3,89.6 259.4,78.6 259.5,79.1 259.7,86.1 259.8,77.1 259.9,76.8 260.0,84.9 260.1,70.3 260.3,81.3 260.4,87.0 260.5,77.4 260.6,76.1 260.7,79.3 260.9,76.0 261.0,89.7 261.1,91.0 261.2,86.1 261.3,80.8 261.5,86.1 261.6,84.5 261.7,75.1 261.8,70.0 261.9,79.3 262.1,86.4 262.2,92.9 262.3,84.2 262.4,84.4 262.5,70.6 262.7,76.2 262.8,82.0 262.9,78.2 263.0,68.8 263.1,74.3 263.3,81.1 263.4,84.4 263.5,86.5 263.6,87.6 263.7,81.1 263.9,93.1 264.0,82.0 264.1,81.6 264.2,86.4 264.3,72.8 264.5,82.9 264.6,90.1 264.7,88.0 264.8,67.0 264.9,77.5 265.1,91.8 265.2,89.2 265.3,92.2 265.4,90.8 265.5,89.4 265.7,89.6 265.8,90.1 265.9,88.1 266.0,80.5 266.1,69.4 266.3,90.0 266.4,81.4 266.5,88.8 266.6,78.1 266.7,87.7 266.9,85.0 267.0,82.9 267.1,86.9 267.2,93.3 267.3,92.0 267.5,77.0 267.6,84.0 267.7,92.8 267.8,74.5 267.9,78.1 268.1,79.9 268.2,87.9 268.3,91.4 268.4,86.3 268.5,77.2 268.7,71.6 268.8,71.3 268.9,76.2 269.0,90.2 269.1,80.7 269.3,78.3 269.4,87.6 269.5,69.2 269.6,74.2 269.7,94.0 269.9,95.3 270.0,88.1 270.1,86.0 270.2,69.1 270.3,87.1 270.5,86.1 270.6,81.7 270.7,69.8 270.8,82.2 270.9,88.7 271.1,80.4 271.2,89.3 271.3,78.0 271.4,93.1 271.5,85.3 271.7,85.6 271.8,90.0 271.9,83.5 272.0,76.2 272.1,87.3 272.3,79.0 272.4,69.5 272.5,77.8 272.6,90.6 272.7,85.9 272.9,81.2 273.0,91.9 273.1,77.3 273.2,91.5 273.3,71.8 273.5,73.3 273.6,77.4 273.7,89.3 273.8,90.7 273.9,90.4 274.1,89.7 274.2,84.2 274.3,84.9 274.4,77.5 274.5,83.8 274.7,87.0 274.8,84.0 274.9,87.4 275.0,82.8 275.1,78.3 275.3,80.2 275.4,76.8 275.5,70.5 275.6,70.6 275.7,77.8 275.9,74.1 276.0,79.1 276.1,74.5 276.2,64.5 276.3,80.3 276.5,78.7 276.6,69.2 276.7,68.0 276.8,77.4 276.9,76.7 277.1,70.6 277.2,76.5 277.3,77.3 277.4,70.7 277.5,68.3 277.7,65.3 277.8,72.8 277.9,83.8 278.0,71.0 278.1,64.0 278.3,59.7 278.4,62.6 278.5,70.0 278.6,57.5 278.7,59.4 278.9,57.7 279.0,55.1 279.1,59.5 279.2,71.6 279.3,69.5 279.5,77.5 279.6,53.5 279.7,61.3 279.8,67.4 279.9,85.3 280.1,73.6 280.2,78.2 280.3,59.7 280.4,56.4 280.5,78.8 280.7,66.3 280.8,76.4 280.9,70.1 281.0,74.6 281.1,69.5 281.3,56.6 281.4,64.7 281.5,60.0 281.6,73.3 281.7,59.3 281.9,59.1 282.0,64.2 282.1,78.5 282.2,77.4 282.3,76.8 282.5,63.7 282.6,62.3 282.7,69.1 282.8,80.8 282.9,73.2 283.1,71.6 283.2,68.1 283.3,61.1 283.4,69.4 283.5,60.7 283.7,60.8 283.8,68.9 283.9,69.7 284.0,62.8 284.1,73.4 284.3,75.5 284.4,79.1 284.5,64.8 284.6,82.9 284.7,81.6 284.9,74.4 285.0,67.4 285.1,66.3 285.2,73.1 285.3,84.6 285.5,78.4 285.6,79.1 285.7,73.1 285.8,77.5 285.9,70.0 286.1,76.4 286.2,66.6 286.3,66.0 286.4,77.8 286.5,83.5 286.7,72.1 286.8,75.8 286.9,79.5 287.0,83.7 287.1,81.6 287.3,76.1 287.4,82.5 287.5,75.4 287.6,84.4 287.7,70.3 287.9,69.7 288.0,69.6 288.1,78.1 288.2,81.7 288.3,74.8 288.5,79.9 288.6,88.7 288.7,87.6 288.8,79.0 288.9,72.7 289.1,69.5 289.2,72.8 289.3,76.3 289.4,82.3 289.5,75.1 289.7,80.7 289.8,84.7 289.9,68.2 290.0,73.0 290.1,73.9 290.3,84.8 290.4,72.2 290.5,84.6 290.6,73.5 290.7,75.5 290.9,74.1 291.0,81.4 291.1,86.6 291.2,72.8 291.3,79.3 291.5,81.6 291.6,85.4 291.7,80.6 291.8,77.6 291.9,81.6 292.1,77.5 292.2,69.3 292.3,68.9 292.4,81.4 292.5,70.1 292.7,81.5 292.8,69.3 292.9,76.4 293.0,81.0 293.1,80.5 293.3,80.4 293.4,79.2 293.5,77.9 293.6,82.1 293.7,72.5 293.9,85.7 294.0,87.5 294.1,87.5 294.2,88.4 294.3,74.9 294.5,78.9 294.6,87.2 294.7,82.2 294.8,79.1 294.9,86.4 295.1,86.0 295.2,82.0 295.3,86.9 295.4,87.2 295.5,84.4 295.7,82.8 295.8,84.7 295.9,79.3 296.0,80.4 296.1,85.0 296.3,81.3 296.4,74.6 296.5,70.2 296.6,80.3 296.7,84.6 296.9,84.3 297.0,87.5 297.1,86.4 297.2,76.8 297.3,65.0 297.5,76.2 297.6,81.0 297.7,72.1 297.8,72.7 297.9,78.5 298.1,87.2 298.2,74.5 298.3,86.3 298.4,84.3 298.5,69.8 298.7,84.0 298.8,87.7 298.9,86.1 299.0,77.5 299.1,85.2 299.3,82.2 299.4,71.4 299.5,78.7 299.6,80.0 299.7,75.2 299.9,63.3 300.0,71.7 300.1,67.3 300.2,66.3 300.3,68.8 300.5,70.6 300.6,65.8 300.7,69.1 300.8,70.7 300.9,76.9 301.1,88.1 301.2,89.9 301.3,90.8 301.4,79.7 301.5,68.0 301.7,78.4 301.8,65.3 301.9,66.5 302.0,70.2 302.1,75.5 302.3,80.8 302.4,89.3 302.5,84.1 302.6,87.7 302.7,85.7 302.9,92.0 303.0,91.7 303.1,86.8 303.2,79.9 303.3,65.4 303.5,80.6 303.6,73.4 303.7,65.9 303.8,79.4 303.9,72.2 304.1,88.7 304.2,80.4 304.3,62.9 304.4,72.8 304.5,87.3 304.7,88.6 304.8,86.2 304.9,74.6 305.0,73.7 305.1,65.6 305.3,69.2 305.4,69.2 305.5,76.9 305.6,70.8 305.7,81.3 305.9,71.6 306.0,77.3 306.1,76.4 306.2,67.8 306.3,69.2 306.5,71.5 306.6,86.1 306.7,85.7 306.8,69.9 306.9,74.9 307.1,89.4 307.2,83.4 307.3,88.3 307.4,82.7 307.5,73.7 307.7,71.4 307.8,66.6 307.9,86.0 308.0,76.0 308.1,70.5 308.3,73.5 308.4,81.2 308.5,81.8 308.6,76.2 308.7,74.8 308.9,70.2 309.0,75.2 309.1,83.9 309.2,86.0 309.3,84.0 309.5,79.4 309.6,83.6 309.7,67.8 309.8,69.6 309.9,85.9 310.1,87.0 310.2,84.1 310.3,73.9 310.4,74.6 310.5,79.0 310.7,75.6 310.8,78.8 310.9,81.6 311.0,58.4 311.1,75.1 311.3,65.9 311.4,58.4 311.5,59.0 311.6,62.2 311.7,78.3 311.9,83.4 312.0,81.8 312.1,74.1 312.2,80.1 312.3,83.5 312.5,65.0 312.6,71.8 312.7,80.4 312.8,70.3 312.9,70.0 313.1,68.1 313.2,63.1 313.3,88.1 313.4,85.3 313.5,69.1 313.7,63.0 313.8,82.0 313.9,85.8 314.0,88.1 314.1,86.9 314.3,76.3 314.4,66.3 314.5,66.0 314.6,79.5 314.7,76.9 314.9,83.2 315.0,85.9 315.1,72.3 315.2,73.5 315.3,77.2 315.5,86.3 315.6,80.5 315.7,88.4 315.8,77.6 315.9,72.5 316.1,75.3 316.2,72.9 316.3,83.4 316.4,76.2"/>
<rect x="46.9" y="17.4" width="269.6" height="134.5" fill="none" stroke="#444" stroke-width="1.25"/>
<line x1="46.9" y1="151.9" x2="46.9" y2="141.9" stroke="#444" stroke-width="1"/>
<line x1="73.9" y1="151.9" x2="73.9" y2="146.4" stroke="#444" stroke-width="1"/>
<line x1="100.8" y1="151.9" x2="100.8" y2="141.9" stroke="#444" stroke-width="1"/>
<line x1="127.8" y1="151.9" x2="127.8" y2="146.4" stroke="#444" stroke-width="1"/>
<line x1="154.7" y1="151.9" x2="154.7" y2="141.9" stroke="#444" stroke-width="1"/>
<line x1="181.7" y1="151.9" x2="181.7" y2="146.4" stroke="#444" stroke-width="1"/>
<line x1="208.7" y1="151.9" x2="208.7" y2="141.9" stroke="#444" stroke-width="1"/>
<line x1="235.6" y1="151.9" x2="235.6" y2="146.4" stroke="#444" stroke-width="1"/>
<line x1="262.6" y1="151.9" x2="262.6" y2="141.9" stroke="#444" stroke-width="1"/>
<line x1="289.5" y1="151.9" x2="289.5" y2="146.4" stroke="#444" stroke-width="1"/>
<line x1="316.5" y1="151.9" x2="316.5" y2="141.9" stroke="#444" stroke-width="1"/>
<line x1="46.9" y1="151.9" x2="56.9" y2="151.9" stroke="#444" stroke-width="1"/>
<line x1="46.9" y1="138.5" x2="52.4" y2="138.5" stroke="#444" stroke-width="1"/>
<line x1="46.9" y1="125.0" x2="56.9" y2="125.0" stroke="#444" stroke-width="1"/>
<line x1="46.9" y1="111.5" x2="52.4" y2="111.5" stroke="#444" stroke-width="1"/>
<line x1="46.9" y1="98.1" x2="56.9" y2="98.1" stroke="#444" stroke-width="1"/>
<line x1="46.9" y1="84.7" x2="52.4" y2="84.7" stroke="#444" stroke-width="1"/>
<line x1="46.9" y1="71.2" x2="56.9" y2="71.2" stroke="#444" stroke-width="1"/>
<line x1="46.9" y1="57.8" x2="52.4" y2="57.8" stroke="#444" stroke-width="1"/>
<line x1="46.9" y1="44.3" x2="56.9" y2="44.3" stroke="#444" stroke-width="1"/>
<line x1="46.9" y1="30.9" x2="52.4" y2="30.9" stroke="#444" stroke-width="1"/>
<line x1="46.9" y1="17.4" x2="56.9" y2="17.4" stroke="#444" stroke-width="1"/>
<text x="46.9" y="168.3" font-size="14" text-anchor="middle" font-weight="normal" >0</text>
<text x="100.8" y="168.3" font-size="14" text-anchor="middle" font-weight="normal" >40</text>
<text x="154.7" y="168.3" font-size="14" text-anchor="middle" font-weight="normal" >80</text>
<text x="208.7" y="168.3" font-size="14" text-anchor="middle" font-weight="normal" >120</text>
<text x="262.6" y="168.3" font-size="14" text-anchor="middle" font-weight="normal" >160</text>
<text x="316.5" y="168.3" font-size="14" text-anchor="middle" font-weight="normal" >200</text>
<text x="43.5" y="156.5" font-size="14" text-anchor="end" font-weight="normal" >0</text>
<text x="43.5" y="129.6" font-size="14" text-anchor="end" font-weight="normal" >0.1</text>
<text x="43.5" y="102.7" font-size="14" text-anchor="end" font-weight="normal" >0.2</text>
<text x="43.5" y="75.8" font-size="14" text-anchor="end" font-weight="normal" >0.3</text>
<text x="43.5" y="48.9" font-size="14" text-anchor="end" font-weight="normal" >0.4</text>
<text x="43.5" y="22.0" font-size="14" text-anchor="end" font-weight="normal" >0.5</text>
<text x="181.5" y="187.7" font-size="13.8" text-anchor="middle" font-weight="normal" >Time (ns)</text>
<text x="18.3" y="84.1" font-size="13.6" text-anchor="middle" font-weight="normal" transform="rotate(-90 18.3 84.1)">RMSD (nm)</text>
<text x="0.0" y="0.0" font-size="13" text-anchor="start" font-weight="bold" transform="translate(7.9 17.2) scale(1 1.13)">A</text>
<rect x="384.6" y="18.5" width="268.9" height="134.6" fill="none" stroke="#444" stroke-width="1.25"/>
<line x1="384.6" y1="153.1" x2="384.6" y2="143.1" stroke="#444" stroke-width="1"/>
<line x1="418.2" y1="153.1" x2="418.2" y2="147.6" stroke="#444" stroke-width="1"/>
<line x1="451.8" y1="153.1" x2="451.8" y2="143.1" stroke="#444" stroke-width="1"/>
<line x1="485.4" y1="153.1" x2="485.4" y2="147.6" stroke="#444" stroke-width="1"/>
<line x1="519.0" y1="153.1" x2="519.0" y2="143.1" stroke="#444" stroke-width="1"/>
<line x1="552.7" y1="153.1" x2="552.7" y2="147.6" stroke="#444" stroke-width="1"/>
<line x1="586.3" y1="153.1" x2="586.3" y2="143.1" stroke="#444" stroke-width="1"/>
<line x1="619.9" y1="153.1" x2="619.9" y2="147.6" stroke="#444" stroke-width="1"/>
<line x1="653.5" y1="153.1" x2="653.5" y2="143.1" stroke="#444" stroke-width="1"/>
<line x1="384.6" y1="153.1" x2="394.6" y2="153.1" stroke="#444" stroke-width="1"/>
<line x1="384.6" y1="139.6" x2="390.1" y2="139.6" stroke="#444" stroke-width="1"/>
<line x1="384.6" y1="126.2" x2="394.6" y2="126.2" stroke="#444" stroke-width="1"/>
<line x1="384.6" y1="112.7" x2="390.1" y2="112.7" stroke="#444" stroke-width="1"/>
<line x1="384.6" y1="99.3" x2="394.6" y2="99.3" stroke="#444" stroke-width="1"/>
<line x1="384.6" y1="85.8" x2="390.1" y2="85.8" stroke="#444" stroke-width="1"/>
<line x1="384.6" y1="72.3" x2="394.6" y2="72.3" stroke="#444" stroke-width="1"/>
<line x1="384.6" y1="58.9" x2="390.1" y2="58.9" stroke="#444" stroke-width="1"/>
<line x1="384.6" y1="45.4" x2="394.6" y2="45.4" stroke="#444" stroke-width="1"/>
<line x1="384.6" y1="32.0" x2="390.1" y2="32.0" stroke="#444" stroke-width="1"/>
<line x1="384.6" y1="18.5" x2="394.6" y2="18.5" stroke="#444" stroke-width="1"/>
<path fill="none" stroke="#000" stroke-width="0.9" stroke-linejoin="round" d="M389.39,88.49 C389.57,92.57 389.94,106.03 390.48,112.99 C391.03,119.94 391.77,126.27 392.67,130.22 C393.56,134.17 394.43,135.06 395.86,136.68 C397.29,138.29 399.92,139.55 401.24,139.91 C402.55,140.27 402.36,140.00 403.76,138.83 C405.16,137.67 407.93,132.91 409.64,132.91 C411.35,132.91 412.69,137.85 414.01,138.83 C415.33,139.82 416.36,141.39 417.54,138.83 C418.72,136.28 419.92,135.92 421.07,123.49 C422.22,111.06 423.45,78.17 424.43,64.26 C425.41,50.36 426.08,41.38 426.95,40.04 C427.82,38.69 428.77,51.25 429.64,56.19 C430.51,61.12 431.29,62.47 432.16,69.65 C433.03,76.83 433.98,89.75 434.85,99.26 C435.72,108.77 436.50,120.71 437.37,126.72 C438.24,132.73 438.91,133.63 440.06,135.33 C441.21,137.04 443.09,138.92 444.26,136.95 C445.44,134.97 446.36,126.36 447.12,123.49 C447.88,120.62 448.24,119.49 448.80,119.72 C449.36,119.94 449.72,128.06 450.48,124.83 C451.24,121.60 452.53,104.60 453.34,100.34 C454.15,96.07 454.68,96.61 455.35,99.26 C456.03,101.91 456.56,111.06 457.37,116.22 C458.18,121.38 459.19,127.88 460.23,130.22 C461.26,132.55 462.55,129.54 463.59,130.22 C464.63,130.89 465.44,134.26 466.45,134.26 C467.45,134.26 468.55,130.22 469.64,130.22 C470.73,130.22 471.68,134.93 473.00,134.26 C474.32,133.58 476.08,126.31 477.54,126.18 C479.00,126.05 480.45,133.00 481.74,133.45 C483.03,133.90 484.18,130.89 485.27,128.87 C486.36,126.85 487.26,120.53 488.29,121.33 C489.33,122.14 490.06,130.80 491.49,133.72 C492.92,136.63 495.02,137.98 496.87,138.83 C498.71,139.68 500.76,142.02 502.58,138.83 C504.40,135.65 506.17,125.87 507.79,119.72 C509.41,113.57 510.90,102.98 512.33,101.95 C513.76,100.92 515.07,108.82 516.36,113.53 C517.65,118.24 518.88,126.31 520.06,130.22 C521.23,134.12 521.99,135.11 523.42,136.95 C524.85,138.79 527.17,140.54 528.63,141.26 C530.09,141.97 530.98,142.24 532.16,141.26 C533.34,140.27 534.54,137.17 535.69,135.33 C536.84,133.49 538.07,131.65 539.05,130.22 C540.03,128.78 540.70,126.45 541.57,126.72 C542.44,126.99 543.22,133.27 544.26,131.83 C545.30,130.40 546.64,123.08 547.79,118.10 C548.94,113.12 550.11,102.85 551.15,101.95 C552.19,101.05 553.14,108.01 554.01,112.72 C554.88,117.43 555.38,126.18 556.36,130.22 C557.34,134.26 558.71,136.10 559.89,136.95 C561.07,137.80 562.10,137.04 563.42,135.33 C564.73,133.63 566.47,127.57 567.79,126.72 C569.10,125.87 570.14,130.22 571.32,130.22 C572.49,130.22 573.56,126.45 574.85,126.72 C576.14,126.99 577.68,131.56 579.05,131.83 C580.42,132.10 581.77,128.11 583.08,128.33 C584.40,128.56 585.63,131.97 586.95,133.18 C588.26,134.39 589.75,135.69 590.98,135.60 C592.21,135.51 593.39,132.78 594.34,132.64 C595.29,132.51 595.63,135.51 596.69,134.79 C597.76,134.08 599.50,128.47 600.73,128.33 C601.96,128.20 602.86,132.24 604.09,133.99 C605.32,135.74 607.06,138.43 608.12,138.83 C609.19,139.24 609.52,136.68 610.48,136.41 C611.43,136.14 612.72,138.83 613.84,137.22 C614.96,135.60 616.08,131.70 617.20,126.72 C618.32,121.74 619.41,111.69 620.56,107.34 C621.71,102.98 623.08,99.71 624.09,100.61 C625.10,101.50 625.88,108.77 626.61,112.72 C627.34,116.67 627.59,121.96 628.46,124.30 C629.33,126.63 630.45,124.97 631.82,126.72 C633.19,128.47 635.07,134.39 636.69,134.79 C638.32,135.20 640.36,131.16 641.57,129.14 C642.77,127.12 643.11,123.62 643.92,122.68 C644.73,121.74 646.02,123.35 646.44,123.49"/>
<path fill="none" stroke="#f22" stroke-width="0.9" stroke-linejoin="round" d="M388.80,29.27 C389.08,33.75 390.03,49.41 390.48,56.19 C390.93,62.96 391.13,62.24 391.49,69.92 C391.85,77.59 392.30,93.25 392.67,102.22 C393.03,111.19 393.14,118.55 393.68,123.76 C394.21,128.96 394.60,130.89 395.86,133.45 C397.12,136.01 399.64,138.20 401.24,139.10 C402.83,140.00 403.93,140.04 405.44,138.83 C406.95,137.62 408.89,131.83 410.31,131.83 C411.74,131.83 412.53,139.10 414.01,138.83 C415.50,138.56 417.65,135.74 419.22,130.22 C420.79,124.70 422.13,113.57 423.42,105.72 C424.71,97.87 425.92,88.67 426.95,83.11 C427.99,77.54 428.72,71.44 429.64,72.34 C430.57,73.24 431.63,81.76 432.50,88.49 C433.37,95.22 434.04,105.77 434.85,112.72 C435.66,119.67 436.22,126.27 437.37,130.22 C438.52,134.17 440.26,136.41 441.74,136.41 C443.23,136.41 444.93,131.83 446.28,130.22 C447.62,128.60 448.74,131.43 449.81,126.72 C450.87,122.01 451.85,106.53 452.67,101.95 C453.48,97.38 453.90,95.67 454.68,99.26 C455.47,102.85 456.45,118.06 457.37,123.49 C458.30,128.92 459.05,130.85 460.23,131.83 C461.40,132.82 463.17,129.10 464.43,129.41 C465.69,129.72 466.64,133.31 467.79,133.72 C468.94,134.12 470.14,132.42 471.32,131.83 C472.50,131.25 473.70,131.61 474.85,130.22 C476.00,128.83 477.23,125.46 478.21,123.49 C479.19,121.51 479.61,118.15 480.73,118.37 C481.85,118.60 483.67,124.30 484.93,124.83 C486.19,125.37 487.37,120.35 488.29,121.60 C489.22,122.86 489.58,130.04 490.48,132.37 C491.38,134.70 492.83,134.93 493.67,135.60 C494.51,136.28 494.04,136.27 495.52,136.41 C497.01,136.54 500.70,138.56 502.58,136.41 C504.46,134.26 505.63,131.47 506.78,123.49 C507.93,115.50 508.55,97.02 509.47,88.49 C510.39,79.97 511.40,73.24 512.33,72.34 C513.25,71.44 514.23,80.42 515.02,83.11 C515.80,85.80 516.30,83.56 517.03,88.49 C517.76,93.43 518.43,105.18 519.39,112.72 C520.34,120.26 521.49,129.37 522.75,133.72 C524.01,138.07 525.38,137.58 526.95,138.83 C528.52,140.09 530.70,142.11 532.16,141.26 C533.62,140.40 534.54,135.56 535.69,133.72 C536.84,131.88 537.90,134.30 539.05,130.22 C540.20,126.14 541.23,115.50 542.58,109.22 C543.92,102.94 545.91,93.74 547.12,92.53 C548.32,91.32 549.13,100.83 549.81,101.95 C550.48,103.07 550.45,97.47 551.15,99.26 C551.85,101.05 553.14,107.29 554.01,112.72 C554.88,118.15 555.38,128.06 556.36,131.83 C557.34,135.60 558.54,135.02 559.89,135.33 C561.23,135.65 563.11,135.47 564.43,133.72 C565.74,131.97 566.64,126.00 567.79,124.83 C568.94,123.67 570.03,126.94 571.32,126.72 C572.61,126.49 574.23,122.90 575.52,123.49 C576.81,124.07 577.90,129.99 579.05,130.22 C580.20,130.44 581.26,124.56 582.41,124.83 C583.56,125.10 584.76,130.71 585.94,131.83 C587.12,132.95 588.49,131.34 589.47,131.56 C590.45,131.79 591.01,133.18 591.82,133.18 C592.63,133.18 593.53,131.43 594.34,131.56 C595.15,131.70 595.63,134.53 596.69,133.99 C597.76,133.45 599.50,128.33 600.73,128.33 C601.96,128.33 603.00,132.91 604.09,133.99 C605.18,135.06 605.94,134.79 607.28,134.79 C608.63,134.79 610.81,134.30 612.16,133.99 C613.50,133.67 614.23,140.49 615.35,132.91 C616.47,125.33 617.90,99.39 618.88,88.49 C619.86,77.59 620.48,72.07 621.23,67.49 C621.99,62.92 622.60,60.45 623.42,61.03 C624.23,61.62 625.15,64.71 626.11,70.99 C627.06,77.28 628.04,89.43 629.13,98.72 C630.22,108.01 631.48,120.89 632.66,126.72 C633.84,132.55 635.01,133.13 636.19,133.72 C637.37,134.30 638.57,133.13 639.72,130.22 C640.87,127.30 642.13,129.01 643.08,116.22 C644.03,103.43 644.73,68.62 645.43,53.50 C646.13,38.38 646.97,30.17 647.28,25.50"/>
<text x="384.6" y="169.2" font-size="14" text-anchor="middle" font-weight="normal" >0</text>
<text x="451.8" y="169.2" font-size="14" text-anchor="middle" font-weight="normal" >40</text>
<text x="519.0" y="169.2" font-size="14" text-anchor="middle" font-weight="normal" >80</text>
<text x="586.3" y="169.2" font-size="14" text-anchor="middle" font-weight="normal" >120</text>
<text x="653.5" y="169.2" font-size="14" text-anchor="middle" font-weight="normal" >160</text>
<text x="381.5" y="157.7" font-size="14" text-anchor="end" font-weight="normal" >0</text>
<text x="381.5" y="130.8" font-size="14" text-anchor="end" font-weight="normal" >0.1</text>
<text x="381.5" y="103.9" font-size="14" text-anchor="end" font-weight="normal" >0.2</text>
<text x="381.5" y="76.9" font-size="14" text-anchor="end" font-weight="normal" >0.3</text>
<text x="381.5" y="50.0" font-size="14" text-anchor="end" font-weight="normal" >0.4</text>
<text x="381.5" y="23.1" font-size="14" text-anchor="end" font-weight="normal" >0.5</text>
<text x="519.0" y="189.0" font-size="13.8" text-anchor="middle" font-weight="normal" >#Residue</text>
<text x="356.0" y="85.3" font-size="13.8" text-anchor="middle" font-weight="normal" transform="rotate(-90 356 85.3)">RMSF (nm)</text>
<text x="0.0" y="0.0" font-size="13" text-anchor="start" font-weight="bold" transform="translate(341.9 15.8) scale(1 1.13)">B</text>
<polygon fill="#000" points="43.6,287.1 44.2,286.6 44.8,287.7 45.4,286.4 46.0,288.3 46.6,287.4 47.2,286.4 47.8,287.2 48.4,287.5 49.0,286.6 49.6,287.2 50.2,286.3 50.8,286.4 51.4,287.2 52.0,286.7 52.6,286.9 53.2,285.4 53.8,285.9 54.4,285.8 55.0,285.7 55.6,285.0 56.2,285.0 56.8,284.8 57.4,284.3 58.0,283.8 58.6,283.1 59.2,282.5 59.8,281.8 60.4,281.8 61.0,281.0 61.6,281.0 62.2,281.4 62.8,280.5 63.4,280.2 64.0,280.4 64.6,280.8 65.2,279.6 65.8,280.3 66.4,281.2 67.0,281.1 67.6,282.0 68.2,282.4 68.8,281.5 69.4,282.2 70.0,281.4 70.6,280.1 71.2,280.5 71.8,280.5 72.4,280.4 73.0,279.2 73.6,280.0 74.2,280.5 74.8,280.9 75.4,280.7 76.0,281.2 76.6,280.8 77.2,280.6 77.8,281.0 78.4,281.5 79.0,282.0 79.6,281.0 80.2,281.5 80.8,281.5 81.4,282.3 82.0,281.5 82.6,282.4 83.2,281.4 83.8,281.8 84.4,281.0 85.0,282.4 85.6,281.9 86.2,281.9 86.8,282.3 87.4,282.3 88.0,281.6 88.6,281.2 89.2,280.7 89.8,280.9 90.4,281.1 91.0,280.5 91.6,281.0 92.2,280.3 92.8,280.6 93.4,281.1 94.0,280.7 94.6,280.7 95.2,280.6 95.8,280.6 96.4,278.8 97.0,279.9 97.6,280.1 98.2,278.9 98.8,279.9 99.4,278.9 100.0,278.2 100.6,277.4 101.2,278.0 101.8,276.8 102.4,277.5 103.0,277.2 103.6,276.1 104.2,274.4 104.8,274.7 105.4,274.4 106.0,276.1 106.6,275.1 107.2,276.1 107.8,278.1 108.4,278.5 109.0,277.7 109.6,278.6 110.2,280.0 110.8,280.6 111.4,280.0 112.0,280.2 112.6,281.3 113.2,280.8 113.8,282.2 114.4,282.6 115.0,282.0 115.6,282.6 116.2,281.6 116.8,280.7 117.4,281.6 118.0,280.3 118.6,280.8 119.2,280.3 119.8,279.9 120.4,280.2 121.0,280.4 121.6,280.2 122.2,280.2 122.8,280.5 123.4,279.4 124.0,280.9 124.6,281.4 125.2,279.8 125.8,281.0 126.4,280.0 127.0,279.6 127.6,280.3 128.2,279.9 128.8,278.4 129.4,278.8 130.0,278.5 130.6,278.8 131.2,277.5 131.8,276.4 132.4,275.8 133.0,275.2 133.6,275.9 134.2,277.4 134.8,277.0 135.4,276.1 136.0,277.3 136.6,276.7 137.2,277.5 137.8,277.9 138.4,278.9 139.0,278.4 139.6,277.9 140.2,277.7 140.8,278.5 141.4,277.7 142.0,277.9 142.6,277.8 143.2,277.2 143.8,277.9 144.4,278.5 145.0,278.7 145.6,276.9 146.2,278.2 146.8,277.3 147.4,277.7 148.0,278.9 148.6,276.8 149.2,277.8 149.8,277.1 150.4,277.6 151.0,277.5 151.6,278.6 152.2,278.2 152.8,278.0 153.4,278.3 154.0,276.4 154.6,276.9 155.2,275.8 155.8,276.6 156.4,276.6 157.0,276.3 157.6,276.7 158.2,277.7 158.8,277.4 159.4,278.6 160.0,277.7 160.6,278.7 161.2,278.6 161.8,279.4 162.4,279.7 163.0,278.6 163.6,279.3 164.2,279.2 164.8,279.2 165.4,279.6 166.0,278.2 166.6,279.2 167.2,279.0 167.8,279.6 168.4,278.9 169.0,279.8 169.6,278.9 170.2,278.0 170.8,277.9 171.4,277.9 172.0,278.8 172.6,278.7 173.2,278.5 173.8,279.0 174.4,279.1 175.0,279.7 175.6,279.9 176.2,278.5 176.8,279.7 177.4,278.5 178.0,279.7 178.6,279.4 179.2,279.1 179.8,279.1 180.4,279.2 181.0,279.8 181.6,280.6 182.2,279.9 182.8,280.7 183.4,281.0 184.0,281.0 184.6,282.2 185.2,282.1 185.8,281.0 186.4,281.3 187.0,282.1 187.6,281.3 188.2,281.9 188.8,282.0 189.4,282.6 190.0,284.0 190.6,284.6 191.2,284.0 191.8,285.3 192.4,284.8 193.0,284.4 193.6,285.3 194.2,285.3 194.8,284.7 195.4,285.2 196.0,284.5 196.6,283.8 197.2,284.0 197.8,282.8 198.4,283.4 199.0,282.5 199.6,282.8 200.2,282.4 200.8,282.8 201.4,281.7 202.0,282.0 202.6,281.0 203.2,281.8 203.8,281.8 204.4,281.6 205.0,280.7 205.6,279.8 206.2,280.7 206.8,280.0 207.4,280.1 208.0,279.3 208.6,278.9 209.2,278.9 209.8,279.0 210.4,277.5 211.0,277.6 211.6,278.0 212.2,279.5 212.8,279.6 213.4,279.4 214.0,280.3 214.6,279.7 215.2,279.6 215.8,279.6 216.4,279.8 217.0,280.0 217.6,279.8 218.2,279.1 218.8,278.5 219.4,279.1 220.0,279.1 220.6,279.2 221.2,278.9 221.8,279.8 222.4,280.4 223.0,280.2 223.6,278.9 224.2,280.4 224.8,279.2 225.4,279.5 226.0,277.6 226.6,278.4 227.2,278.1 227.8,276.9 228.4,278.1 229.0,276.7 229.6,278.3 230.2,279.1 230.8,279.0 231.4,279.4 232.0,278.4 232.6,278.6 233.2,280.3 233.8,280.8 234.4,280.4 235.0,280.7 235.6,280.8 236.2,280.1 236.8,281.4 237.4,281.5 238.0,282.9 238.6,282.4 239.2,281.4 239.8,282.3 240.4,282.2 241.0,283.7 241.6,282.4 242.2,282.6 242.8,283.3 243.4,284.6 244.0,284.5 244.6,283.7 245.2,284.8 245.8,285.3 246.4,285.7 247.0,286.3 247.6,285.8 248.2,285.7 248.8,285.2 249.4,285.7 250.0,286.7 250.6,285.8 251.2,285.7 251.8,284.1 252.4,284.0 253.0,284.2 253.6,283.6 254.2,283.9 254.8,283.1 255.4,282.7 256.0,282.5 256.6,282.9 257.2,284.1 257.8,283.7 258.4,282.9 259.0,283.4 259.6,283.4 260.2,283.6 260.8,284.7 261.4,284.6 262.0,283.6 262.6,284.1 263.2,284.8 263.8,284.8 264.4,284.9 265.0,285.1 265.6,284.2 266.2,283.8 266.8,283.4 267.4,283.2 268.0,283.8 268.6,284.1 269.2,283.3 269.8,284.7 270.4,284.0 271.0,283.5 271.6,284.2 272.2,283.9 272.8,285.3 273.4,284.6 274.0,285.3 274.6,285.7 275.2,285.2 275.8,284.9 276.4,285.7 277.0,283.8 277.6,284.9 278.2,284.5 278.8,284.6 279.4,284.3 280.0,283.3 280.6,283.4 281.2,283.5 281.8,284.8 282.4,284.1 283.0,283.2 283.6,282.3 284.2,282.5 284.8,282.8 285.4,283.9 286.0,283.2 286.6,284.1 287.2,284.5 287.8,284.7 288.4,284.5 289.0,283.9 289.6,283.5 290.2,284.3 290.8,284.9 291.4,285.2 292.0,285.1 292.6,285.7 293.2,285.9 293.8,285.7 294.4,285.6 295.0,285.4 295.6,286.7 296.2,286.6 296.8,286.3 297.4,286.6 298.0,286.8 298.6,287.7 299.2,286.5 299.8,286.9 300.4,286.7 301.0,287.0 301.6,285.9 302.2,286.6 302.8,285.8 303.4,285.5 304.0,285.7 304.6,286.8 305.2,286.6 305.8,287.2 306.4,285.4 307.0,286.3 307.6,285.0 308.2,284.5 308.8,285.0 309.4,284.9 310.0,285.6 310.6,284.8 311.2,284.5 311.8,285.4 311.8,290.9 311.2,291.7 310.6,290.7 310.0,291.5 309.4,291.4 308.8,291.4 308.2,291.1 307.6,291.1 307.0,291.8 306.4,292.2 305.8,292.7 305.2,293.0 304.6,292.4 304.0,293.4 303.4,292.5 302.8,293.3 302.2,293.4 301.6,293.3 301.0,293.5 300.4,294.2 299.8,294.5 299.2,294.3 298.6,294.9 298.0,294.7 297.4,294.6 296.8,294.8 296.2,293.6 295.6,293.6 295.0,293.6 294.4,293.4 293.8,292.3 293.2,292.5 292.6,292.2 292.0,291.5 291.4,291.7 290.8,290.9 290.2,290.4 289.6,290.9 289.0,289.9 288.4,290.4 287.8,290.6 287.2,290.8 286.6,290.6 286.0,290.1 285.4,290.9 284.8,290.1 284.2,289.4 283.6,289.4 283.0,291.1 282.4,291.2 281.8,291.8 281.2,291.9 280.6,291.6 280.0,292.5 279.4,291.6 278.8,292.4 278.2,292.2 277.6,293.0 277.0,292.8 276.4,294.5 275.8,295.7 275.2,293.4 274.6,294.0 274.0,294.0 273.4,293.9 272.8,293.1 272.2,292.3 271.6,292.8 271.0,292.1 270.4,292.8 269.8,291.7 269.2,291.7 268.6,291.9 268.0,291.2 267.4,290.3 266.8,291.0 266.2,291.4 265.6,291.0 265.0,291.9 264.4,291.8 263.8,291.6 263.2,292.0 262.6,291.1 262.0,291.6 261.4,291.3 260.8,291.7 260.2,291.6 259.6,291.1 259.0,291.1 258.4,290.6 257.8,289.4 257.2,289.7 256.6,289.8 256.0,289.9 255.4,289.3 254.8,291.1 254.2,290.5 253.6,291.5 253.0,293.5 252.4,293.6 251.8,293.1 251.2,294.4 250.6,295.4 250.0,294.9 249.4,295.2 248.8,294.0 248.2,294.2 247.6,295.3 247.0,294.3 246.4,293.4 245.8,292.8 245.2,291.6 244.6,291.9 244.0,290.9 243.4,291.0 242.8,290.6 242.2,291.0 241.6,290.0 241.0,290.9 240.4,289.1 239.8,289.8 239.2,289.3 238.6,289.0 238.0,289.9 237.4,289.2 236.8,288.1 236.2,288.0 235.6,288.0 235.0,287.7 234.4,287.8 233.8,287.3 233.2,287.6 232.6,286.4 232.0,287.5 231.4,287.5 230.8,287.8 230.2,287.1 229.6,286.6 229.0,286.6 228.4,286.6 227.8,286.9 227.2,286.3 226.6,287.7 226.0,286.5 225.4,288.6 224.8,288.7 224.2,289.0 223.6,287.2 223.0,288.1 222.4,288.4 221.8,287.4 221.2,287.4 220.6,287.3 220.0,287.4 219.4,287.5 218.8,286.2 218.2,286.4 217.6,286.5 217.0,287.3 216.4,287.3 215.8,286.9 215.2,286.9 214.6,287.1 214.0,286.4 213.4,287.0 212.8,286.6 212.2,286.4 211.6,285.2 211.0,284.9 210.4,285.1 209.8,286.1 209.2,285.9 208.6,286.0 208.0,287.8 207.4,287.4 206.8,286.6 206.2,287.5 205.6,286.8 205.0,287.9 204.4,288.6 203.8,289.0 203.2,288.4 202.6,289.3 202.0,288.8 201.4,289.4 200.8,289.8 200.2,290.3 199.6,290.4 199.0,290.5 198.4,289.8 197.8,291.3 197.2,291.4 196.6,291.1 196.0,291.7 195.4,293.3 194.8,293.6 194.2,293.8 193.6,292.2 193.0,292.7 192.4,293.7 191.8,293.6 191.2,292.1 190.6,293.0 190.0,291.6 189.4,291.7 188.8,290.3 188.2,290.0 187.6,289.3 187.0,290.1 186.4,289.4 185.8,289.5 185.2,288.9 184.6,290.4 184.0,289.9 183.4,288.9 182.8,288.4 182.2,287.9 181.6,287.6 181.0,287.5 180.4,287.6 179.8,286.8 179.2,286.9 178.6,287.7 178.0,286.6 177.4,285.9 176.8,286.5 176.2,286.3 175.6,286.2 175.0,286.3 174.4,285.6 173.8,286.7 173.2,286.8 172.6,285.4 172.0,285.7 171.4,284.9 170.8,285.5 170.2,286.1 169.6,285.5 169.0,285.8 168.4,286.3 167.8,286.1 167.2,286.3 166.6,286.8 166.0,285.7 165.4,286.4 164.8,286.6 164.2,287.1 163.6,287.0 163.0,286.3 162.4,286.2 161.8,286.7 161.2,286.7 160.6,285.7 160.0,285.2 159.4,285.8 158.8,284.8 158.2,285.4 157.6,284.2 157.0,282.7 156.4,282.6 155.8,283.5 155.2,283.6 154.6,283.3 154.0,283.7 153.4,284.6 152.8,285.2 152.2,284.4 151.6,285.2 151.0,285.9 150.4,285.2 149.8,285.1 149.2,285.6 148.6,285.6 148.0,287.2 147.4,287.3 146.8,286.7 146.2,286.2 145.6,286.6 145.0,287.8 144.4,287.2 143.8,287.9 143.2,288.0 142.6,287.4 142.0,286.5 141.4,286.3 140.8,286.9 140.2,285.9 139.6,285.9 139.0,286.4 138.4,285.5 137.8,285.8 137.2,284.3 136.6,284.7 136.0,284.4 135.4,284.4 134.8,284.9 134.2,284.3 133.6,284.9 133.0,284.1 132.4,284.4 131.8,284.7 131.2,284.6 130.6,285.3 130.0,286.6 129.4,285.5 128.8,286.6 128.2,287.1 127.6,287.3 127.0,287.2 126.4,287.3 125.8,287.8 125.2,288.0 124.6,287.9 124.0,287.6 123.4,286.6 122.8,286.5 122.2,287.0 121.6,287.5 121.0,288.4 120.4,286.9 119.8,287.5 119.2,286.8 118.6,287.4 118.0,287.5 117.4,287.7 116.8,287.5 116.2,288.6 115.6,288.3 115.0,289.8 114.4,288.8 113.8,289.3 113.2,287.6 112.6,287.7 112.0,287.8 111.4,287.2 110.8,287.1 110.2,286.3 109.6,285.7 109.0,285.6 108.4,285.7 107.8,284.9 107.2,284.7 106.6,283.4 106.0,282.5 105.4,281.1 104.8,281.9 104.2,282.5 103.6,282.9 103.0,284.5 102.4,284.8 101.8,284.5 101.2,285.3 100.6,284.8 100.0,285.5 99.4,286.6 98.8,287.3 98.2,287.8 97.6,287.3 97.0,287.4 96.4,287.7 95.8,288.5 95.2,287.6 94.6,288.7 94.0,288.7 93.4,288.2 92.8,288.1 92.2,287.2 91.6,287.3 91.0,287.1 90.4,287.8 89.8,287.2 89.2,287.4 88.6,288.3 88.0,288.3 87.4,289.5 86.8,289.6 86.2,289.1 85.6,290.1 85.0,289.6 84.4,289.2 83.8,289.2 83.2,289.0 82.6,288.8 82.0,288.5 81.4,288.0 80.8,288.0 80.2,287.9 79.6,287.2 79.0,287.5 78.4,287.9 77.8,288.4 77.2,288.1 76.6,287.4 76.0,287.5 75.4,287.9 74.8,287.2 74.2,288.3 73.6,287.6 73.0,285.9 72.4,287.3 71.8,286.3 71.2,287.0 70.6,287.3 70.0,287.1 69.4,288.7 68.8,287.9 68.2,288.1 67.6,288.3 67.0,288.3 66.4,288.2 65.8,287.5 65.2,286.6 64.6,286.8 64.0,287.6 63.4,288.1 62.8,287.0 62.2,288.1 61.6,288.2 61.0,287.1 60.4,288.3 59.8,288.4 59.2,289.3 58.6,290.2 58.0,290.5 57.4,291.6 56.8,290.7 56.2,290.9 55.6,291.9 55.0,291.6 54.4,291.6 53.8,292.9 53.2,293.3 52.6,294.3 52.0,296.0 51.4,295.2 50.8,296.6 50.2,295.4 49.6,295.2 49.0,295.5 48.4,296.7 47.8,296.2 47.2,295.3 46.6,295.7 46.0,296.4 45.4,295.4 44.8,295.6 44.2,295.5 43.6,297.0"/><polyline fill="none" stroke="#000" stroke-width="0.6" stroke-linejoin="round" points="43.6,298.6 43.7,294.7 43.8,296.9 44.0,295.2 44.1,289.9 44.2,286.3 44.3,284.1 44.4,291.5 44.6,283.3 44.7,286.2 44.8,294.4 44.9,301.2 45.0,292.8 45.2,295.3 45.3,286.3 45.4,285.6 45.5,282.8 45.6,282.9 45.8,282.5 45.9,293.6 46.0,297.5 46.1,282.4 46.2,288.1 46.4,299.0 46.5,293.1 46.6,297.4 46.7,289.8 46.8,287.6 47.0,287.2 47.1,288.8 47.2,287.5 47.3,286.2 47.4,288.7 47.6,291.1 47.7,292.6 47.8,295.1 47.9,283.0 48.0,292.9 48.2,297.7 48.3,297.8 48.4,298.1 48.5,295.4 48.6,296.4 48.8,296.6 48.9,290.9 49.0,298.7 49.1,299.0 49.2,297.3 49.4,291.8 49.5,286.9 49.6,284.5 49.7,299.5 49.8,297.3 50.0,300.1 50.1,294.3 50.2,291.9 50.3,283.6 50.4,287.7 50.6,292.3 50.7,300.5 50.8,289.6 50.9,290.5 51.0,295.3 51.2,291.6 51.3,286.3 51.4,286.0 51.5,285.3 51.6,282.7 51.8,286.7 51.9,286.9 52.0,296.5 52.1,293.9 52.2,293.0 52.4,289.7 52.5,294.5 52.6,286.4 52.7,293.8 52.8,294.2 53.0,295.2 53.1,296.3 53.2,293.7 53.3,284.5 53.4,285.2 53.6,290.3 53.7,287.6 53.8,285.5 53.9,282.9 54.0,282.9 54.2,290.0 54.3,295.8 54.4,291.7 54.5,287.8 54.6,283.2 54.8,282.5 54.9,283.3 55.0,290.9 55.1,284.8 55.2,290.4 55.4,285.0 55.5,289.4 55.6,291.1 55.7,293.7 55.8,285.7 56.0,281.7 56.1,289.7 56.2,287.9 56.3,292.7 56.4,294.1 56.6,294.2 56.7,285.2 56.8,288.2 56.9,290.6 57.0,294.6 57.2,288.4 57.3,283.9 57.4,281.9 57.5,284.4 57.6,282.5 57.8,282.2 57.9,288.7 58.0,281.2 58.1,289.1 58.2,293.1 58.4,292.1 58.5,289.1 58.6,287.9 58.7,286.3 58.8,284.9 59.0,285.1 59.1,290.8 59.2,292.3 59.3,280.3 59.4,283.1 59.6,290.1 59.7,285.9 59.8,283.6 59.9,283.9 60.0,280.5 60.2,280.6 60.3,284.9 60.4,280.5 60.5,290.9 60.6,285.8 60.8,288.0 60.9,283.2 61.0,281.1 61.1,277.8 61.2,286.2 61.4,279.5 61.5,287.2 61.6,283.4 61.7,285.9 61.8,283.7 62.0,281.3 62.1,280.5 62.2,283.5 62.3,280.3 62.4,283.4 62.6,285.3 62.7,286.4 62.8,283.4 62.9,287.7 63.0,282.1 63.2,278.4 63.3,279.4 63.4,278.4 63.5,279.4 63.6,281.6 63.8,285.7 63.9,284.4 64.0,286.9 64.1,286.3 64.2,280.9 64.4,280.7 64.5,283.2 64.6,289.2 64.7,287.9 64.8,286.4 65.0,285.0 65.1,289.5 65.2,289.1 65.3,289.4 65.4,281.4 65.6,286.8 65.7,280.5 65.8,287.0 65.9,286.1 66.0,283.5 66.2,284.7 66.3,284.8 66.4,282.9 66.5,278.6 66.6,288.2 66.8,287.6 66.9,288.3 67.0,277.9 67.1,279.4 67.2,286.7 67.4,279.3 67.5,288.8 67.6,282.2 67.7,284.8 67.8,282.2 68.0,280.2 68.1,280.6 68.2,280.4 68.3,283.0 68.4,285.5 68.6,287.2 68.7,279.6 68.8,291.2 68.9,282.1 69.0,282.4 69.2,289.0 69.3,288.5 69.4,284.7 69.5,281.0 69.6,281.0 69.8,284.1 69.9,278.6 70.0,281.7 70.1,283.4 70.2,279.8 70.4,280.7 70.5,282.7 70.6,285.6 70.7,277.8 70.8,279.8 71.0,280.3 71.1,283.4 71.2,283.7 71.3,288.5 71.4,284.6 71.6,280.8 71.7,287.5 71.8,287.7 71.9,288.3 72.0,284.3 72.2,285.7 72.3,285.4 72.4,289.4 72.5,281.6 72.6,282.2 72.8,281.4 72.9,284.1 73.0,285.7 73.1,284.7 73.2,284.8 73.4,287.1 73.5,278.5 73.6,283.8 73.7,279.2 73.8,277.2 74.0,276.3 74.1,282.3 74.2,278.6 74.3,277.9 74.4,280.2 74.6,276.1 74.7,282.0 74.8,279.1 74.9,281.5 75.0,276.8 75.2,282.3 75.3,283.8 75.4,282.9 75.5,278.1 75.6,291.2 75.8,290.2 75.9,291.2 76.0,291.1 76.1,287.6 76.2,286.6 76.4,277.9 76.5,280.0 76.6,282.3 76.7,283.0 76.8,283.4 77.0,290.5 77.1,286.8 77.2,281.0 77.3,287.0 77.4,286.5 77.6,285.2 77.7,286.3 77.8,284.2 77.9,284.3 78.0,283.3 78.2,285.1 78.3,279.1 78.4,283.6 78.5,288.1 78.6,284.0 78.8,281.3 78.9,285.1 79.0,288.7 79.1,278.2 79.2,279.2 79.4,280.8 79.5,281.5 79.6,285.4 79.7,281.9 79.8,290.0 80.0,288.7 80.1,289.9 80.2,285.5 80.3,284.6 80.4,283.7 80.6,278.4 80.7,280.6 80.8,285.6 80.9,281.0 81.0,288.1 81.2,289.3 81.3,285.7 81.4,290.2 81.5,287.2 81.6,283.4 81.8,279.3 81.9,285.3 82.0,282.6 82.1,290.7 82.2,288.1 82.4,287.8 82.5,290.0 82.6,289.5 82.7,286.7 82.8,288.6 83.0,287.1 83.1,290.2 83.2,290.7 83.3,288.6 83.4,288.8 83.6,286.0 83.7,287.7 83.8,293.8 83.9,294.4 84.0,288.5 84.2,278.7 84.3,278.6 84.4,285.4 84.5,277.5 84.6,279.0 84.8,294.0 84.9,291.7 85.0,289.7 85.1,292.9 85.2,290.6 85.4,285.8 85.5,292.0 85.6,293.1 85.7,284.2 85.8,278.8 86.0,281.3 86.1,281.3 86.2,283.9 86.3,281.2 86.4,283.0 86.6,280.9 86.7,280.8 86.8,278.6 86.9,282.2 87.0,281.0 87.2,277.9 87.3,283.8 87.4,289.1 87.5,284.3 87.6,283.6 87.8,290.3 87.9,290.8 88.0,289.6 88.1,289.2 88.2,282.7 88.4,286.1 88.5,284.9 88.6,286.1 88.7,281.8 88.8,291.9 89.0,278.6 89.1,277.8 89.2,285.0 89.3,281.7 89.4,289.0 89.6,285.3 89.7,281.5 89.8,279.9 89.9,289.1 90.0,283.5 90.2,284.8 90.3,277.6 90.4,289.9 90.5,289.6 90.6,285.0 90.8,278.1 90.9,282.5 91.0,286.5 91.1,284.8 91.2,280.6 91.4,282.8 91.5,288.2 91.6,281.2 91.7,285.3 91.8,290.4 92.0,289.8 92.1,283.7 92.2,285.1 92.3,279.1 92.4,278.5 92.6,283.3 92.7,283.7 92.8,280.7 92.9,286.7 93.0,288.5 93.2,291.9 93.3,289.9 93.4,278.1 93.5,286.8 93.6,287.3 93.8,292.2 93.9,287.1 94.0,279.6 94.1,286.8 94.2,285.6 94.4,277.4 94.5,277.6 94.6,282.2 94.7,291.2 94.8,290.5 95.0,285.5 95.1,287.1 95.2,279.6 95.3,290.6 95.4,281.4 95.6,284.1 95.7,279.7 95.8,287.6 95.9,277.0 96.0,277.7 96.2,280.0 96.3,287.1 96.4,282.8 96.5,282.9 96.6,281.7 96.8,281.6 96.9,278.4 97.0,290.0 97.1,284.9 97.2,282.5 97.4,282.1 97.5,279.5 97.6,281.5 97.7,288.3 97.8,289.5 98.0,276.7 98.1,277.5 98.2,284.8 98.3,282.7 98.4,288.0 98.6,290.5 98.7,284.9 98.8,288.4 98.9,283.2 99.0,282.5 99.2,284.9 99.3,285.8 99.4,287.0 99.5,285.9 99.6,285.2 99.8,283.5 99.9,278.8 100.0,281.4 100.1,283.1 100.2,289.3 100.4,283.3 100.5,284.0 100.6,275.8 100.7,281.1 100.8,283.4 101.0,282.1 101.1,280.9 101.2,282.3 101.3,282.2 101.4,283.0 101.6,287.0 101.7,278.0 101.8,280.5 101.9,279.5 102.0,282.3 102.2,286.0 102.3,279.1 102.4,286.9 102.5,279.5 102.6,272.6 102.8,283.3 102.9,278.9 103.0,281.9 103.1,286.5 103.2,284.0 103.4,277.3 103.5,278.9 103.6,275.5 103.7,281.2 103.8,281.7 104.0,280.0 104.1,286.3 104.2,280.5 104.3,279.3 104.4,281.3 104.6,284.6 104.7,280.6 104.8,280.3 104.9,279.9 105.0,280.1 105.2,276.8 105.3,276.2 105.4,286.3 105.5,275.9 105.6,281.3 105.8,282.8 105.9,277.3 106.0,278.2 106.1,277.1 106.2,283.8 106.4,272.0 106.5,281.8 106.6,273.3 106.7,281.5 106.8,276.3 107.0,276.6 107.1,279.2 107.2,285.2 107.3,277.2 107.4,286.1 107.6,282.6 107.7,288.2 107.8,277.7 107.9,277.1 108.0,278.6 108.2,280.4 108.3,275.4 108.4,287.0 108.5,278.6 108.6,278.6 108.8,274.0 108.9,275.4 109.0,274.8 109.1,277.9 109.2,286.2 109.4,279.7 109.5,277.6 109.6,287.8 109.7,283.9 109.8,283.2 110.0,279.0 110.1,278.2 110.2,282.5 110.3,280.7 110.4,278.3 110.6,276.1 110.7,278.0 110.8,279.9 110.9,278.4 111.0,280.1 111.2,285.2 111.3,289.8 111.4,287.4 111.5,282.4 111.6,285.9 111.8,284.9 111.9,281.2 112.0,286.9 112.1,286.4 112.2,285.6 112.4,279.3 112.5,279.8 112.6,279.6 112.7,283.9 112.8,280.6 113.0,290.4 113.1,288.6 113.2,280.9 113.3,287.9 113.4,291.3 113.6,286.4 113.7,277.8 113.8,279.4 113.9,282.4 114.0,286.3 114.2,286.2 114.3,285.4 114.4,279.9 114.5,282.8 114.6,289.3 114.8,284.6 114.9,282.5 115.0,283.8 115.1,283.6 115.2,289.4 115.4,288.0 115.5,278.2 115.6,279.2 115.7,282.5 115.8,282.0 116.0,279.8 116.1,280.1 116.2,279.5 116.3,280.7 116.4,285.1 116.6,277.3 116.7,284.6 116.8,280.9 116.9,281.6 117.0,284.7 117.2,283.3 117.3,279.3 117.4,283.9 117.5,281.7 117.6,280.1 117.8,280.8 117.9,280.7 118.0,279.0 118.1,276.2 118.2,291.6 118.4,279.9 118.5,282.8 118.6,290.6 118.7,291.5 118.8,287.6 119.0,288.6 119.1,283.8 119.2,287.8 119.3,281.5 119.4,279.3 119.6,287.7 119.7,288.8 119.8,283.1 119.9,283.1 120.0,276.8 120.2,290.6 120.3,289.5 120.4,284.8 120.5,283.5 120.6,287.5 120.8,285.8 120.9,286.1 121.0,287.5 121.1,278.5 121.2,288.0 121.4,285.8 121.5,289.8 121.6,289.9 121.7,288.7 121.8,289.9 122.0,285.6 122.1,286.1 122.2,288.9 122.3,283.9 122.4,276.8 122.6,281.2 122.7,283.7 122.8,286.6 122.9,282.8 123.0,287.3 123.2,285.7 123.3,282.2 123.4,287.8 123.5,281.2 123.6,284.7 123.8,280.6 123.9,280.2 124.0,286.7 124.1,287.6 124.2,282.3 124.4,276.8 124.5,278.5 124.6,280.5 124.7,285.0 124.8,282.6 125.0,282.8 125.1,284.4 125.2,285.7 125.3,288.6 125.4,290.1 125.6,285.9 125.7,280.5 125.8,287.7 125.9,285.8 126.0,278.9 126.2,288.1 126.3,289.8 126.4,285.8 126.5,282.5 126.6,278.1 126.8,277.5 126.9,276.1 127.0,276.7 127.1,286.4 127.2,289.6 127.4,280.5 127.5,290.4 127.6,280.9 127.7,285.0 127.8,280.2 128.0,277.2 128.1,287.2 128.2,290.5 128.3,288.4 128.4,280.7 128.6,282.4 128.7,279.8 128.8,285.9 128.9,288.8 129.0,287.3 129.2,283.6 129.3,281.3 129.4,288.2 129.5,277.1 129.6,281.3 129.8,282.1 129.9,279.8 130.0,279.1 130.1,274.8 130.2,278.5 130.4,288.4 130.5,285.6 130.6,282.4 130.7,286.5 130.8,274.6 131.0,277.7 131.1,284.5 131.2,285.4 131.3,286.4 131.4,277.3 131.6,275.9 131.7,275.1 131.8,283.8 131.9,280.9 132.0,280.6 132.2,275.0 132.3,285.8 132.4,278.7 132.5,272.8 132.6,278.8 132.8,280.4 132.9,287.7 133.0,271.0 133.1,278.8 133.2,287.3 133.4,281.6 133.5,282.3 133.6,279.2 133.7,273.7 133.8,272.1 134.0,274.3 134.1,270.9 134.2,271.4 134.3,273.2 134.4,271.5 134.6,276.4 134.7,276.9 134.8,278.3 134.9,286.0 135.0,281.1 135.2,274.3 135.3,273.8 135.4,275.8 135.5,281.3 135.6,275.7 135.8,280.7 135.9,278.2 136.0,278.4 136.1,287.3 136.2,278.9 136.4,277.3 136.5,273.0 136.6,278.8 136.7,283.3 136.8,289.1 137.0,275.8 137.1,278.0 137.2,279.0 137.3,279.9 137.4,279.1 137.6,280.9 137.7,282.2 137.8,280.3 137.9,282.9 138.0,280.6 138.2,286.7 138.3,275.7 138.4,282.4 138.5,282.6 138.6,276.4 138.8,281.8 138.9,286.7 139.0,278.7 139.1,288.5 139.2,289.6 139.4,285.9 139.5,274.0 139.6,274.5 139.7,273.5 139.8,274.8 140.0,276.9 140.1,275.6 140.2,278.2 140.3,273.1 140.4,276.1 140.6,283.3 140.7,288.2 140.8,287.2 140.9,279.5 141.0,275.3 141.2,281.9 141.3,278.2 141.4,285.1 141.5,273.7 141.6,275.8 141.8,281.9 141.9,277.3 142.0,288.3 142.1,288.5 142.2,289.8 142.4,288.0 142.5,276.8 142.6,275.9 142.7,283.2 142.8,274.9 143.0,279.1 143.1,284.1 143.2,289.3 143.3,289.9 143.4,279.5 143.6,277.0 143.7,285.0 143.8,278.5 143.9,282.3 144.0,285.6 144.2,284.2 144.3,276.8 144.4,274.5 144.5,289.7 144.6,290.5 144.8,291.2 144.9,281.1 145.0,279.5 145.1,284.2 145.2,280.9 145.4,275.5 145.5,273.1 145.6,287.8 145.7,288.2 145.8,287.0 146.0,287.7 146.1,283.4 146.2,283.5 146.3,288.7 146.4,290.2 146.6,279.2 146.7,280.4 146.8,290.0 146.9,286.9 147.0,276.8 147.2,282.8 147.3,287.3 147.4,284.6 147.5,287.0 147.6,276.5 147.8,281.5 147.9,279.5 148.0,286.6 148.1,286.3 148.2,286.4 148.4,278.9 148.5,285.0 148.6,279.2 148.7,282.5 148.8,276.4 149.0,278.8 149.1,282.7 149.2,283.0 149.3,290.3 149.4,286.2 149.6,281.8 149.7,280.8 149.8,286.3 149.9,287.3 150.0,276.8 150.2,287.2 150.3,289.3 150.4,281.0 150.5,279.9 150.6,284.9 150.8,278.7 150.9,284.7 151.0,278.1 151.1,277.9 151.2,277.3 151.4,287.4 151.5,289.3 151.6,284.4 151.7,275.2 151.8,277.6 152.0,280.6 152.1,287.5 152.2,286.9 152.3,286.3 152.4,275.9 152.6,280.4 152.7,285.7 152.8,287.3 152.9,284.6 153.0,279.8 153.2,287.0 153.3,276.5 153.4,275.8 153.5,273.4 153.6,273.2 153.8,281.0 153.9,280.1 154.0,281.7 154.1,282.2 154.2,273.5 154.4,279.1 154.5,282.4 154.6,283.0 154.7,277.4 154.8,284.9 155.0,283.4 155.1,285.3 155.2,282.6 155.3,286.1 155.4,288.4 155.6,274.3 155.7,276.0 155.8,274.5 155.9,279.9 156.0,286.6 156.2,285.7 156.3,277.8 156.4,278.6 156.5,274.8 156.6,277.8 156.8,275.0 156.9,281.3 157.0,281.3 157.1,279.2 157.2,276.5 157.4,275.8 157.5,282.2 157.6,288.7 157.7,286.3 157.8,277.1 158.0,276.7 158.1,273.9 158.2,275.8 158.3,284.7 158.4,284.7 158.6,274.6 158.7,274.7 158.8,279.9 158.9,276.0 159.0,284.7 159.2,285.0 159.3,278.6 159.4,287.7 159.5,284.5 159.6,281.8 159.8,275.5 159.9,276.0 160.0,287.7 160.1,279.3 160.2,276.2 160.4,280.5 160.5,284.3 160.6,280.3 160.7,288.6 160.8,287.7 161.0,279.5 161.1,284.8 161.2,280.0 161.3,289.7 161.4,287.3 161.6,286.3 161.7,276.6 161.8,287.3 161.9,284.3 162.0,279.7 162.2,278.0 162.3,286.0 162.4,287.3 162.5,289.7 162.6,290.6 162.8,283.2 162.9,280.1 163.0,283.0 163.1,281.0 163.2,280.3 163.4,275.7 163.5,284.9 163.6,289.4 163.7,291.0 163.8,289.2 164.0,280.4 164.1,289.1 164.2,286.3 164.3,285.3 164.4,286.6 164.6,287.6 164.7,275.3 164.8,275.2 164.9,281.0 165.0,276.9 165.2,286.4 165.3,289.1 165.4,289.8 165.5,289.1 165.6,287.8 165.8,284.4 165.9,285.0 166.0,276.7 166.1,275.8 166.2,276.3 166.4,275.5 166.5,282.3 166.6,283.8 166.7,276.4 166.8,279.3 167.0,279.8 167.1,278.1 167.2,283.7 167.3,287.0 167.4,278.8 167.6,280.2 167.7,286.6 167.8,288.0 167.9,284.6 168.0,287.3 168.2,282.3 168.3,286.3 168.4,283.9 168.5,284.9 168.6,284.4 168.8,285.8 168.9,286.3 169.0,281.0 169.1,280.0 169.2,284.9 169.4,280.6 169.5,275.3 169.6,283.1 169.7,283.2 169.8,281.5 170.0,286.9 170.1,288.1 170.2,288.8 170.3,277.1 170.4,281.1 170.6,282.3 170.7,285.8 170.8,284.9 170.9,278.8 171.0,277.6 171.2,281.1 171.3,288.9 171.4,285.4 171.5,284.7 171.6,281.9 171.8,277.2 171.9,279.6 172.0,278.4 172.1,277.5 172.2,275.3 172.4,282.9 172.5,275.7 172.6,274.3 172.7,282.4 172.8,285.9 173.0,283.2 173.1,283.1 173.2,288.1 173.3,286.1 173.4,275.2 173.6,277.3 173.7,278.7 173.8,283.4 173.9,276.2 174.0,274.6 174.2,276.9 174.3,286.0 174.4,279.2 174.5,280.5 174.6,277.1 174.8,281.0 174.9,281.2 175.0,283.1 175.1,285.6 175.2,285.5 175.4,289.4 175.5,285.3 175.6,280.6 175.7,285.4 175.8,282.4 176.0,275.6 176.1,286.8 176.2,283.4 176.3,278.4 176.4,277.9 176.6,275.8 176.7,276.7 176.8,282.3 176.9,276.3 177.0,279.8 177.2,279.9 177.3,277.9 177.4,284.2 177.5,278.0 177.6,279.0 177.8,287.4 177.9,284.5 178.0,277.9 178.1,276.6 178.2,283.5 178.4,276.8 178.5,281.8 178.6,286.8 178.7,290.4 178.8,291.1 179.0,290.2 179.1,289.3 179.2,290.9 179.3,287.8 179.4,285.7 179.6,284.2 179.7,280.4 179.8,282.9 179.9,286.3 180.0,280.1 180.2,276.6 180.3,278.9 180.4,277.3 180.5,288.2 180.6,290.3 180.8,286.7 180.9,282.6 181.0,279.5 181.1,287.9 181.2,284.5 181.4,285.5 181.5,279.7 181.6,280.5 181.7,276.2 181.8,278.3 182.0,281.9 182.1,279.5 182.2,281.3 182.3,285.7 182.4,283.4 182.6,284.4 182.7,285.0 182.8,277.5 182.9,280.0 183.0,280.6 183.2,276.7 183.3,282.0 183.4,279.3 183.5,280.6 183.6,279.4 183.8,279.0 183.9,277.8 184.0,285.2 184.1,281.6 184.2,288.5 184.4,291.4 184.5,287.7 184.6,290.6 184.7,293.7 184.8,289.6 185.0,282.6 185.1,290.5 185.2,291.7 185.3,284.8 185.4,282.2 185.6,285.3 185.7,281.9 185.8,286.2 185.9,286.0 186.0,284.2 186.2,292.3 186.3,283.1 186.4,283.8 186.5,293.6 186.6,291.3 186.8,283.8 186.9,293.3 187.0,290.8 187.1,282.7 187.2,288.1 187.4,283.1 187.5,283.3 187.6,281.2 187.7,280.0 187.8,293.4 188.0,281.0 188.1,287.6 188.2,280.0 188.3,284.0 188.4,288.6 188.6,289.3 188.7,281.3 188.8,293.7 188.9,289.3 189.0,295.3 189.2,289.5 189.3,287.6 189.4,284.1 189.5,292.9 189.6,293.4 189.8,289.6 189.9,291.8 190.0,293.7 190.1,291.8 190.2,283.3 190.4,284.4 190.5,292.4 190.6,291.1 190.7,287.6 190.8,290.2 191.0,287.6 191.1,289.9 191.2,296.4 191.3,291.2 191.4,295.5 191.6,289.4 191.7,295.1 191.8,282.8 191.9,292.6 192.0,291.4 192.2,294.6 192.3,289.2 192.4,284.8 192.5,285.3 192.6,289.1 192.8,291.5 192.9,281.7 193.0,295.3 193.1,286.2 193.2,290.0 193.4,291.2 193.5,287.7 193.6,287.0 193.7,290.8 193.8,281.3 194.0,290.3 194.1,284.3 194.2,280.4 194.3,283.1 194.4,283.2 194.6,287.5 194.7,293.7 194.8,287.0 194.9,288.1 195.0,283.6 195.2,287.5 195.3,294.2 195.4,289.3 195.5,293.2 195.6,294.9 195.8,293.1 195.9,291.6 196.0,293.1 196.1,293.7 196.2,287.6 196.4,292.0 196.5,292.3 196.6,288.9 196.7,292.5 196.8,290.6 197.0,291.5 197.1,289.7 197.2,289.5 197.3,290.3 197.4,286.2 197.6,283.6 197.7,279.6 197.8,279.6 197.9,287.1 198.0,290.8 198.2,291.9 198.3,288.1 198.4,284.9 198.5,289.8 198.6,288.6 198.8,292.6 198.9,284.8 199.0,285.3 199.1,282.4 199.2,289.5 199.4,288.4 199.5,291.7 199.6,292.5 199.7,289.0 199.8,291.0 200.0,291.2 200.1,283.8 200.2,279.7 200.3,288.2 200.4,292.3 200.6,292.2 200.7,290.8 200.8,287.6 200.9,280.0 201.0,282.4 201.2,282.0 201.3,288.8 201.4,281.1 201.5,290.6 201.6,287.7 201.8,285.3 201.9,289.0 202.0,285.3 202.1,282.1 202.2,289.5 202.4,291.1 202.5,288.7 202.6,278.1 202.7,277.2 202.8,277.0 203.0,281.9 203.1,280.9 203.2,288.6 203.3,282.4 203.4,290.5 203.6,282.4 203.7,280.8 203.8,288.0 203.9,289.3 204.0,289.2 204.2,287.5 204.3,283.4 204.4,279.6 204.5,278.6 204.6,284.6 204.8,286.4 204.9,286.3 205.0,286.5 205.1,280.4 205.2,278.2 205.4,282.0 205.5,291.2 205.6,288.5 205.7,289.2 205.8,282.8 206.0,280.6 206.1,278.6 206.2,279.8 206.3,281.7 206.4,286.9 206.6,280.8 206.7,281.1 206.8,283.3 206.9,285.6 207.0,279.6 207.2,285.5 207.3,282.9 207.4,281.8 207.5,285.9 207.6,284.3 207.8,289.8 207.9,282.8 208.0,279.5 208.1,286.5 208.2,286.0 208.4,289.6 208.5,285.2 208.6,279.3 208.7,278.9 208.8,280.6 209.0,284.0 209.1,289.3 209.2,282.3 209.3,277.7 209.4,275.3 209.6,280.3 209.7,284.6 209.8,280.2 209.9,277.9 210.0,275.1 210.2,280.5 210.3,283.0 210.4,286.0 210.5,279.8 210.6,278.5 210.8,283.1 210.9,279.7 211.0,279.7 211.1,285.4 211.2,282.2 211.4,283.8 211.5,277.1 211.6,277.1 211.7,282.8 211.8,276.2 212.0,276.2 212.1,278.2 212.2,279.1 212.3,281.3 212.4,278.4 212.6,278.5 212.7,286.5 212.8,284.0 212.9,277.0 213.0,279.8 213.2,285.0 213.3,278.8 213.4,283.6 213.5,287.5 213.6,285.8 213.8,285.9 213.9,286.8 214.0,278.1 214.1,279.5 214.2,286.6 214.4,288.2 214.5,287.2 214.6,285.3 214.7,278.7 214.8,287.3 215.0,290.6 215.1,288.0 215.2,287.1 215.3,287.7 215.4,278.6 215.6,280.0 215.7,287.5 215.8,277.6 215.9,278.3 216.0,281.0 216.2,281.1 216.3,282.7 216.4,279.0 216.5,283.8 216.6,285.7 216.8,288.5 216.9,290.2 217.0,289.7 217.1,284.3 217.2,291.9 217.4,290.6 217.5,291.6 217.6,286.1 217.7,289.9 217.8,289.5 218.0,285.3 218.1,286.9 218.2,280.0 218.3,285.2 218.4,281.6 218.6,283.6 218.7,281.5 218.8,284.4 218.9,281.6 219.0,283.4 219.2,284.5 219.3,282.6 219.4,289.8 219.5,290.4 219.6,283.8 219.8,277.9 219.9,283.4 220.0,291.8 220.1,279.8 220.2,292.7 220.4,291.0 220.5,283.7 220.6,276.8 220.7,285.2 220.8,288.9 221.0,280.7 221.1,280.8 221.2,280.2 221.3,287.0 221.4,288.7 221.6,277.5 221.7,276.9 221.8,279.0 221.9,281.1 222.0,284.2 222.2,286.7 222.3,283.2 222.4,286.7 222.5,285.1 222.6,286.3 222.8,286.4 222.9,289.0 223.0,285.4 223.1,291.7 223.2,282.6 223.4,290.9 223.5,288.3 223.6,281.0 223.7,287.8 223.8,279.9 224.0,275.1 224.1,282.6 224.2,284.3 224.3,291.7 224.4,290.3 224.6,292.8 224.7,282.8 224.8,282.5 224.9,280.5 225.0,280.8 225.2,278.4 225.3,276.0 225.4,276.4 225.5,289.1 225.6,278.5 225.8,282.7 225.9,286.4 226.0,274.7 226.1,282.3 226.2,281.6 226.4,279.5 226.5,285.3 226.6,285.1 226.7,284.3 226.8,283.9 227.0,289.1 227.1,283.6 227.2,281.5 227.3,278.9 227.4,291.6 227.6,278.7 227.7,283.5 227.8,286.2 227.9,279.1 228.0,284.4 228.2,287.1 228.3,282.5 228.4,286.3 228.5,278.6 228.6,287.1 228.8,287.0 228.9,290.3 229.0,281.8 229.1,278.3 229.2,277.4 229.4,287.4 229.5,281.9 229.6,284.2 229.7,284.4 229.8,281.7 230.0,287.3 230.1,281.3 230.2,279.5 230.3,292.8 230.4,291.1 230.6,290.7 230.7,284.9 230.8,279.1 230.9,288.8 231.0,291.1 231.2,286.6 231.3,288.2 231.4,284.0 231.5,287.3 231.6,284.9 231.8,283.9 231.9,284.2 232.0,275.9 232.1,286.3 232.2,282.6 232.4,287.1 232.5,275.7 232.6,277.2 232.7,278.9 232.8,281.1 233.0,278.2 233.1,275.9 233.2,277.7 233.3,276.5 233.4,283.2 233.6,289.5 233.7,289.1 233.8,289.4 233.9,286.7 234.0,282.9 234.2,287.3 234.3,286.8 234.4,287.0 234.5,281.4 234.6,281.2 234.8,282.0 234.9,284.9 235.0,291.3 235.1,287.9 235.2,287.7 235.4,280.6 235.5,290.8 235.6,280.2 235.7,280.4 235.8,281.8 236.0,282.4 236.1,283.2 236.2,286.8 236.3,289.3 236.4,289.0 236.6,286.9 236.7,290.2 236.8,286.6 236.9,284.4 237.0,285.6 237.2,284.0 237.3,287.5 237.4,279.2 237.5,279.8 237.6,284.1 237.8,284.9 237.9,292.1 238.0,289.1 238.1,290.0 238.2,279.5 238.4,281.6 238.5,285.6 238.6,285.6 238.7,280.1 238.8,281.9 239.0,285.0 239.1,281.7 239.2,292.9 239.3,281.5 239.4,288.7 239.6,288.0 239.7,288.1 239.8,287.2 239.9,290.1 240.0,287.3 240.2,278.9 240.3,282.1 240.4,288.2 240.5,285.9 240.6,283.6 240.8,283.4 240.9,282.7 241.0,285.8 241.1,284.9 241.2,282.1 241.4,285.7 241.5,289.6 241.6,289.1 241.7,291.7 241.8,290.2 242.0,283.9 242.1,284.4 242.2,290.8 242.3,287.5 242.4,288.0 242.6,283.1 242.7,281.7 242.8,281.4 242.9,289.4 243.0,284.4 243.2,282.6 243.3,293.1 243.4,287.5 243.5,283.6 243.6,289.6 243.8,282.8 243.9,288.0 244.0,282.3 244.1,290.9 244.2,291.3 244.4,292.1 244.5,285.8 244.6,290.1 244.7,281.9 244.8,286.3 245.0,292.9 245.1,287.1 245.2,295.1 245.3,295.0 245.4,284.8 245.6,288.8 245.7,285.6 245.8,288.3 245.9,284.2 246.0,281.2 246.2,285.7 246.3,292.7 246.4,294.9 246.5,290.7 246.6,285.0 246.8,292.3 246.9,296.7 247.0,295.9 247.1,295.5 247.2,294.8 247.4,296.2 247.5,285.5 247.6,295.5 247.7,286.2 247.8,286.4 248.0,286.5 248.1,283.7 248.2,287.3 248.3,293.3 248.4,286.2 248.6,284.2 248.7,285.1 248.8,292.6 248.9,297.8 249.0,289.8 249.2,286.3 249.3,284.0 249.4,294.7 249.5,282.1 249.6,281.0 249.8,284.6 249.9,294.2 250.0,288.6 250.1,288.5 250.2,299.6 250.4,294.6 250.5,299.6 250.6,297.4 250.7,298.9 250.8,297.0 251.0,288.8 251.1,292.4 251.2,298.3 251.3,285.9 251.4,284.7 251.6,299.1 251.7,295.8 251.8,288.6 251.9,280.9 252.0,282.4 252.2,289.0 252.3,286.1 252.4,287.8 252.5,291.9 252.6,286.8 252.8,285.9 252.9,286.6 253.0,285.5 253.1,280.4 253.2,291.7 253.4,290.9 253.5,288.5 253.6,290.2 253.7,291.7 253.8,291.5 254.0,291.2 254.1,283.9 254.2,291.0 254.3,285.3 254.4,284.9 254.6,280.8 254.7,283.1 254.8,284.7 254.9,290.6 255.0,288.5 255.2,290.8 255.3,287.8 255.4,290.3 255.5,287.2 255.6,292.5 255.8,288.2 255.9,283.3 256.0,284.1 256.1,282.6 256.2,288.2 256.4,286.9 256.5,284.4 256.6,287.1 256.7,289.9 256.8,292.7 257.0,293.4 257.1,290.9 257.2,285.1 257.3,290.0 257.4,290.6 257.6,291.3 257.7,291.0 257.8,290.7 257.9,286.1 258.0,285.1 258.2,281.9 258.3,284.8 258.4,288.9 258.5,284.3 258.6,288.9 258.8,292.7 258.9,287.6 259.0,290.1 259.1,289.9 259.2,286.3 259.4,293.3 259.5,287.3 259.6,287.8 259.7,283.8 259.8,285.0 260.0,280.9 260.1,290.0 260.2,289.0 260.3,292.7 260.4,293.8 260.6,294.5 260.7,287.5 260.8,294.5 260.9,293.8 261.0,291.3 261.2,288.4 261.3,284.5 261.4,294.6 261.5,292.0 261.6,283.7 261.8,286.4 261.9,285.4 262.0,290.4 262.1,291.8 262.2,292.8 262.4,286.9 262.5,283.0 262.6,281.8 262.7,284.5 262.8,291.6 263.0,284.0 263.1,284.3 263.2,286.0 263.3,284.4 263.4,288.1 263.6,295.0 263.7,290.7 263.8,294.8 263.9,291.8 264.0,291.7 264.2,290.3 264.3,289.1 264.4,287.2 264.5,285.4 264.6,281.3 264.8,284.1 264.9,294.8 265.0,285.7 265.1,285.0 265.2,279.6 265.4,280.9 265.5,289.5 265.6,286.7 265.7,289.5 265.8,292.6 266.0,291.8 266.1,282.9 266.2,285.3 266.3,288.3 266.4,291.2 266.6,290.4 266.7,291.6 266.8,288.2 266.9,291.6 267.0,282.0 267.2,279.7 267.3,292.6 267.4,287.4 267.5,280.8 267.6,285.4 267.8,279.6 267.9,284.3 268.0,284.0 268.1,288.9 268.2,291.1 268.4,290.1 268.5,280.6 268.6,293.2 268.7,295.5 268.8,295.3 269.0,294.9 269.1,289.0 269.2,292.8 269.3,284.8 269.4,284.0 269.6,281.0 269.7,286.4 269.8,283.5 269.9,285.7 270.0,292.1 270.2,292.6 270.3,292.4 270.4,293.2 270.5,291.9 270.6,288.0 270.8,290.5 270.9,285.4 271.0,292.5 271.1,295.8 271.2,287.0 271.4,293.5 271.5,294.3 271.6,293.1 271.7,288.0 271.8,288.8 272.0,280.9 272.1,290.7 272.2,285.1 272.3,284.6 272.4,295.0 272.6,296.5 272.7,284.4 272.8,293.0 272.9,289.4 273.0,291.3 273.2,283.1 273.3,287.1 273.4,292.0 273.5,293.6 273.6,289.4 273.8,290.0 273.9,288.1 274.0,288.2 274.1,288.4 274.2,284.1 274.4,295.0 274.5,289.1 274.6,292.6 274.7,291.8 274.8,293.3 275.0,294.0 275.1,289.0 275.2,287.9 275.3,282.8 275.4,292.8 275.6,283.7 275.7,299.6 275.8,299.4 275.9,293.6 276.0,281.0 276.2,283.7 276.3,290.6 276.4,294.2 276.5,294.0 276.6,291.5 276.8,289.0 276.9,295.5 277.0,297.0 277.1,299.1 277.2,288.1 277.4,282.9 277.5,288.3 277.6,290.3 277.7,291.6 277.8,286.1 278.0,285.1 278.1,287.1 278.2,289.5 278.3,292.1 278.4,285.7 278.6,281.1 278.7,289.8 278.8,281.8 278.9,284.2 279.0,284.9 279.2,289.5 279.3,294.6 279.4,293.3 279.5,291.5 279.6,295.8 279.8,291.2 279.9,292.1 280.0,290.9 280.1,283.9 280.2,284.3 280.4,282.0 280.5,288.7 280.6,287.4 280.7,294.3 280.8,292.7 281.0,288.6 281.1,292.5 281.2,286.3 281.3,280.7 281.4,285.4 281.6,282.9 281.7,288.8 281.8,288.8 281.9,293.0 282.0,291.9 282.2,289.1 282.3,286.3 282.4,282.2 282.5,283.5 282.6,284.7 282.8,284.4 282.9,291.1 283.0,292.7 283.1,289.4 283.2,285.5 283.4,286.0 283.5,287.2 283.6,286.4 283.7,286.0 283.8,285.5 284.0,281.4 284.1,288.4 284.2,290.6 284.3,291.8 284.4,284.8 284.6,291.8 284.7,292.5 284.8,285.1 284.9,286.8 285.0,283.4 285.2,282.0 285.3,287.8 285.4,285.9 285.5,284.4 285.6,288.6 285.8,284.6 285.9,286.2 286.0,280.3 286.1,281.7 286.2,282.3 286.4,290.2 286.5,293.5 286.6,284.1 286.7,289.5 286.8,289.6 287.0,283.8 287.1,280.7 287.2,291.6 287.3,284.0 287.4,292.1 287.6,285.5 287.7,289.6 287.8,289.3 287.9,284.0 288.0,282.7 288.2,284.1 288.3,289.1 288.4,289.8 288.5,291.2 288.6,288.9 288.8,287.9 288.9,293.5 289.0,288.3 289.1,285.2 289.2,283.8 289.4,283.1 289.5,287.1 289.6,282.5 289.7,284.5 289.8,289.8 290.0,288.4 290.1,284.8 290.2,286.6 290.3,292.8 290.4,293.3 290.6,288.3 290.7,282.6 290.8,281.7 290.9,284.1 291.0,290.6 291.2,293.6 291.3,294.2 291.4,293.3 291.5,286.1 291.6,287.6 291.8,294.1 291.9,294.0 292.0,291.9 292.1,284.8 292.2,291.4 292.4,294.4 292.5,292.8 292.6,288.3 292.7,295.0 292.8,291.7 293.0,283.0 293.1,284.9 293.2,294.9 293.3,292.8 293.4,291.4 293.6,285.7 293.7,283.7 293.8,288.7 293.9,285.5 294.0,287.3 294.2,296.3 294.3,297.4 294.4,284.9 294.5,293.2 294.6,288.1 294.8,282.6 294.9,288.0 295.0,290.1 295.1,286.2 295.2,285.2 295.4,283.0 295.5,298.4 295.6,283.6 295.7,298.0 295.8,290.7 296.0,295.6 296.1,290.9 296.2,296.4 296.3,288.2 296.4,292.8 296.6,292.0 296.7,284.9 296.8,296.6 296.9,296.6 297.0,284.2 297.2,284.2 297.3,285.9 297.4,285.8 297.5,293.7 297.6,291.8 297.8,297.8 297.9,292.1 298.0,292.8 298.1,297.2 298.2,286.4 298.4,286.0 298.5,296.6 298.6,297.9 298.7,296.8 298.8,293.6 299.0,292.6 299.1,284.4 299.2,289.3 299.3,286.4 299.4,294.7 299.6,287.1 299.7,291.8 299.8,291.7 299.9,286.5 300.0,288.3 300.2,290.6 300.3,288.3 300.4,294.7 300.5,289.1 300.6,288.2 300.8,283.1 300.9,284.9 301.0,285.1 301.1,295.9 301.2,288.1 301.4,290.0 301.5,294.0 301.6,293.1 301.7,293.9 301.8,287.8 302.0,298.2 302.1,287.4 302.2,294.4 302.3,286.4 302.4,290.4 302.6,285.8 302.7,297.4 302.8,293.5 302.9,294.7 303.0,292.8 303.2,291.6 303.3,292.2 303.4,297.6 303.5,284.6 303.6,285.7 303.8,294.5 303.9,292.2 304.0,291.8 304.1,283.7 304.2,283.4 304.4,291.6 304.5,292.0 304.6,286.6 304.7,284.4 304.8,287.3 305.0,288.3 305.1,283.9 305.2,287.4 305.3,295.6 305.4,293.1 305.6,291.3 305.7,291.2 305.8,292.6 305.9,291.1 306.0,283.9 306.2,284.7 306.3,285.5 306.4,284.3 306.5,285.4 306.6,284.3 306.8,287.9 306.9,293.4 307.0,285.1 307.1,285.5 307.2,284.4 307.4,285.0 307.5,289.2 307.6,292.5 307.7,287.5 307.8,290.4 308.0,287.0 308.1,289.3 308.2,291.0 308.3,292.0 308.4,290.2 308.6,289.2 308.7,285.2 308.8,294.5 308.9,290.4 309.0,289.6 309.2,284.3 309.3,282.3 309.4,285.3 309.5,285.6 309.6,291.8 309.8,292.9 309.9,291.0 310.0,294.3 310.1,289.9 310.2,285.7 310.4,283.7 310.5,292.0 310.6,288.7 310.7,285.8 310.8,285.6 311.0,291.9 311.1,291.1 311.2,287.5 311.3,281.5 311.4,285.8 311.6,289.4 311.7,287.3 311.8,286.8 311.9,290.9"/>
<polygon fill="#f00" points="43.6,290.7 44.2,288.7 44.8,287.2 45.4,285.7 46.0,286.1 46.6,287.1 47.2,287.3 47.8,287.3 48.4,286.8 49.0,285.6 49.6,286.5 50.2,286.5 50.8,287.5 51.4,284.5 52.0,281.6 52.6,279.0 53.2,277.3 53.8,275.6 54.4,273.2 55.0,273.0 55.6,273.9 56.2,273.5 56.8,273.3 57.4,274.0 58.0,275.0 58.6,274.7 59.2,274.8 59.8,275.5 60.4,276.1 61.0,275.7 61.6,275.4 62.2,274.9 62.8,275.0 63.4,274.3 64.0,273.3 64.6,272.2 65.2,271.4 65.8,270.6 66.4,270.8 67.0,269.7 67.6,269.1 68.2,268.9 68.8,268.4 69.4,269.1 70.0,269.5 70.6,269.3 71.2,268.1 71.8,269.0 72.4,268.4 73.0,268.7 73.6,269.4 74.2,269.5 74.8,268.2 75.4,268.7 76.0,269.0 76.6,269.3 77.2,268.5 77.8,268.6 78.4,268.8 79.0,268.4 79.6,269.3 80.2,269.9 80.8,269.8 81.4,270.2 82.0,270.6 82.6,269.4 83.2,268.5 83.8,268.2 84.4,267.2 85.0,266.9 85.6,266.4 86.2,267.0 86.8,268.1 87.4,267.4 88.0,267.1 88.6,268.1 89.2,267.9 89.8,267.7 90.4,267.4 91.0,267.9 91.6,267.1 92.2,266.5 92.8,267.0 93.4,266.5 94.0,266.4 94.6,265.3 95.2,264.7 95.8,264.6 96.4,263.0 97.0,263.7 97.6,262.8 98.2,262.6 98.8,262.1 99.4,261.7 100.0,262.2 100.6,262.2 101.2,261.9 101.8,260.8 102.4,260.2 103.0,259.8 103.6,258.6 104.2,257.1 104.8,257.5 105.4,257.7 106.0,259.6 106.6,259.3 107.2,260.5 107.8,261.1 108.4,263.4 109.0,265.9 109.6,267.3 110.2,269.6 110.8,269.9 111.4,269.6 112.0,270.6 112.6,271.3 113.2,272.3 113.8,273.0 114.4,273.8 115.0,273.6 115.6,275.4 116.2,276.7 116.8,276.9 117.4,273.9 118.0,271.4 118.6,269.3 119.2,268.4 119.8,266.6 120.4,264.3 121.0,262.7 121.6,260.8 122.2,259.9 122.8,260.2 123.4,259.3 124.0,259.9 124.6,257.6 125.2,257.5 125.8,259.7 126.4,260.2 127.0,259.5 127.6,260.0 128.2,261.6 128.8,260.3 129.4,261.8 130.0,262.5 130.6,261.9 131.2,263.0 131.8,262.5 132.4,262.8 133.0,263.0 133.6,262.7 134.2,262.7 134.8,263.2 135.4,263.8 136.0,264.2 136.6,264.0 137.2,264.6 137.8,264.6 138.4,265.1 139.0,266.0 139.6,265.6 140.2,267.2 140.8,269.2 141.4,269.4 142.0,269.5 142.6,269.9 143.2,270.6 143.8,272.1 144.4,271.6 145.0,274.2 145.6,273.7 146.2,274.2 146.8,273.8 147.4,276.6 148.0,275.5 148.6,275.3 149.2,275.3 149.8,276.5 150.4,277.6 151.0,278.0 151.6,279.5 152.2,280.2 152.8,280.8 153.4,282.2 154.0,282.3 154.6,283.0 155.2,284.9 155.8,284.4 156.4,284.3 157.0,283.6 157.6,285.8 158.2,285.0 158.8,285.5 159.4,285.9 160.0,286.1 160.6,284.5 161.2,285.8 161.8,286.4 162.4,286.3 163.0,285.2 163.6,285.3 164.2,284.8 164.8,283.7 165.4,284.1 166.0,283.4 166.6,284.6 167.2,284.4 167.8,283.8 168.4,285.2 169.0,285.1 169.6,286.1 170.2,286.7 170.8,287.0 171.4,287.7 172.0,286.8 172.6,287.4 173.2,286.8 173.8,286.8 174.4,285.8 175.0,284.8 175.6,284.3 176.2,285.3 176.8,286.3 177.4,285.2 178.0,286.1 178.6,286.0 179.2,286.5 179.8,286.0 180.4,285.8 181.0,286.2 181.6,286.2 182.2,285.9 182.8,287.3 183.4,286.3 184.0,287.2 184.6,286.5 185.2,286.1 185.8,286.9 186.4,286.9 187.0,287.2 187.6,288.3 188.2,287.5 188.8,286.4 189.4,286.0 190.0,285.4 190.6,284.7 191.2,283.6 191.8,283.1 192.4,281.0 193.0,282.3 193.6,281.0 194.2,280.7 194.8,280.6 195.4,279.7 196.0,279.2 196.6,278.4 197.2,278.6 197.8,278.5 198.4,277.8 199.0,277.7 199.6,277.4 200.2,278.5 200.8,278.7 201.4,279.3 202.0,278.9 202.6,278.8 203.2,279.3 203.8,279.6 204.4,279.2 205.0,280.0 205.6,280.6 206.2,280.2 206.8,279.9 207.4,280.5 208.0,281.4 208.6,281.4 209.2,280.6 209.8,281.2 210.4,279.9 211.0,280.4 211.6,280.4 212.2,280.6 212.8,280.6 213.4,279.6 214.0,280.1 214.6,279.9 215.2,279.9 215.8,278.8 216.4,278.8 217.0,278.0 217.6,278.8 218.2,278.5 218.8,279.0 219.4,279.6 220.0,279.3 220.6,280.1 221.2,279.4 221.8,279.9 222.4,280.6 223.0,279.7 223.6,278.9 224.2,277.9 224.8,276.5 225.4,277.4 226.0,276.5 226.6,276.1 227.2,277.3 227.8,278.1 228.4,278.3 229.0,278.8 229.6,279.1 230.2,279.9 230.8,279.1 231.4,277.0 232.0,276.5 232.6,274.7 233.2,274.0 233.8,271.3 234.4,271.8 235.0,270.2 235.6,268.8 236.2,269.8 236.8,268.5 237.4,267.1 238.0,266.9 238.6,265.2 239.2,267.1 239.8,268.0 240.4,267.5 241.0,268.2 241.6,266.8 242.2,266.4 242.8,266.8 243.4,267.3 244.0,267.4 244.6,267.8 245.2,267.3 245.8,266.9 246.4,267.6 247.0,270.0 247.6,272.5 248.2,273.7 248.8,273.2 249.4,273.2 250.0,275.0 250.6,274.4 251.2,276.1 251.8,275.9 252.4,275.6 253.0,275.1 253.6,274.6 254.2,274.3 254.8,273.1 255.4,272.8 256.0,273.3 256.6,274.4 257.2,274.9 257.8,276.1 258.4,275.8 259.0,276.2 259.6,277.8 260.2,277.5 260.8,276.1 261.4,276.0 262.0,274.6 262.6,276.0 263.2,274.6 263.8,275.1 264.4,275.1 265.0,276.1 265.6,275.7 266.2,277.4 266.8,277.2 267.4,276.4 268.0,275.3 268.6,274.2 269.2,273.0 269.8,273.2 270.4,272.2 271.0,270.1 271.6,270.0 272.2,266.5 272.8,267.5 273.4,264.1 274.0,262.2 274.6,263.0 275.2,262.4 275.8,264.1 276.4,264.9 277.0,266.5 277.6,268.5 278.2,268.4 278.8,270.6 279.4,272.0 280.0,273.0 280.6,273.8 281.2,273.6 281.8,274.1 282.4,272.6 283.0,272.8 283.6,272.6 284.2,271.2 284.8,271.3 285.4,270.5 286.0,271.0 286.6,271.9 287.2,272.4 287.8,273.2 288.4,272.4 289.0,274.6 289.6,275.3 290.2,275.9 290.8,276.8 291.4,278.0 292.0,278.0 292.6,277.2 293.2,275.4 293.8,274.9 294.4,276.2 295.0,275.0 295.6,274.2 296.2,274.5 296.8,274.1 297.4,273.5 298.0,275.7 298.6,276.1 299.2,277.4 299.8,277.9 300.4,278.3 301.0,280.2 301.6,281.7 302.2,281.2 302.8,282.1 303.4,282.5 304.0,282.6 304.6,281.5 305.2,281.7 305.8,281.7 306.4,280.9 307.0,280.4 307.6,280.0 308.2,279.1 308.8,279.3 309.4,279.0 310.0,277.9 310.6,277.5 311.2,276.6 311.8,276.1 311.8,282.2 311.2,282.8 310.6,283.1 310.0,282.9 309.4,284.3 308.8,283.8 308.2,284.0 307.6,284.8 307.0,284.6 306.4,286.0 305.8,286.2 305.2,286.8 304.6,286.3 304.0,287.0 303.4,287.3 302.8,286.9 302.2,286.7 301.6,286.3 301.0,286.2 300.4,285.0 299.8,283.8 299.2,282.9 298.6,282.6 298.0,281.4 297.4,279.4 296.8,280.4 296.2,281.1 295.6,280.6 295.0,281.6 294.4,282.1 293.8,281.6 293.2,281.1 292.6,282.6 292.0,282.8 291.4,283.5 290.8,282.0 290.2,282.3 289.6,281.8 289.0,280.8 288.4,279.3 287.8,278.6 287.2,278.6 286.6,278.8 286.0,277.7 285.4,276.8 284.8,278.0 284.2,278.4 283.6,279.2 283.0,279.1 282.4,278.8 281.8,279.1 281.2,279.5 280.6,280.3 280.0,278.5 279.4,278.7 278.8,276.5 278.2,274.9 277.6,274.0 277.0,274.0 276.4,272.6 275.8,271.8 275.2,270.9 274.6,270.7 274.0,272.4 273.4,273.6 272.8,274.9 272.2,274.7 271.6,276.6 271.0,276.5 270.4,278.2 269.8,278.9 269.2,279.3 268.6,280.1 268.0,281.0 267.4,282.2 266.8,283.2 266.2,282.9 265.6,282.4 265.0,282.5 264.4,281.7 263.8,282.1 263.2,281.6 262.6,282.8 262.0,281.9 261.4,282.9 260.8,282.6 260.2,282.9 259.6,283.9 259.0,283.2 258.4,282.2 257.8,281.7 257.2,281.7 256.6,280.2 256.0,279.0 255.4,279.7 254.8,279.1 254.2,280.9 253.6,281.0 253.0,281.5 252.4,281.6 251.8,281.4 251.2,282.4 250.6,282.0 250.0,281.7 249.4,280.5 248.8,280.2 248.2,280.7 247.6,280.2 247.0,276.9 246.4,275.3 245.8,276.8 245.2,276.7 244.6,275.8 244.0,275.2 243.4,275.3 242.8,275.2 242.2,273.9 241.6,273.2 241.0,275.7 240.4,275.4 239.8,274.3 239.2,273.8 238.6,273.7 238.0,274.4 237.4,275.0 236.8,275.4 236.2,275.8 235.6,275.6 235.0,276.9 234.4,278.0 233.8,278.8 233.2,279.9 232.6,280.4 232.0,281.4 231.4,283.3 230.8,284.1 230.2,283.9 229.6,284.8 229.0,283.8 228.4,283.9 227.8,282.9 227.2,283.5 226.6,282.4 226.0,282.8 225.4,283.1 224.8,282.2 224.2,284.2 223.6,284.4 223.0,285.0 222.4,285.6 221.8,285.4 221.2,285.2 220.6,284.5 220.0,285.4 219.4,284.5 218.8,283.7 218.2,283.5 217.6,283.7 217.0,283.5 216.4,285.1 215.8,284.5 215.2,285.0 214.6,285.6 214.0,284.8 213.4,284.7 212.8,285.5 212.2,285.7 211.6,285.2 211.0,285.3 210.4,285.0 209.8,285.8 209.2,286.0 208.6,286.1 208.0,286.1 207.4,285.7 206.8,285.2 206.2,284.9 205.6,285.9 205.0,285.1 204.4,284.3 203.8,284.4 203.2,284.6 202.6,284.3 202.0,283.5 201.4,284.5 200.8,284.0 200.2,283.5 199.6,283.3 199.0,283.3 198.4,283.8 197.8,283.6 197.2,283.3 196.6,284.2 196.0,284.6 195.4,285.5 194.8,286.0 194.2,286.9 193.6,286.2 193.0,287.5 192.4,287.1 191.8,289.2 191.2,289.5 190.6,291.0 190.0,291.0 189.4,293.1 188.8,292.5 188.2,293.4 187.6,294.3 187.0,294.1 186.4,292.9 185.8,292.7 185.2,293.1 184.6,292.9 184.0,292.4 183.4,293.3 182.8,293.1 182.2,292.1 181.6,292.3 181.0,292.4 180.4,291.5 179.8,291.9 179.2,291.9 178.6,291.6 178.0,291.7 177.4,290.1 176.8,291.5 176.2,290.6 175.6,289.8 175.0,290.1 174.4,291.4 173.8,292.1 173.2,292.0 172.6,292.7 172.0,292.2 171.4,292.2 170.8,291.8 170.2,291.6 169.6,291.6 169.0,290.6 168.4,290.8 167.8,289.7 167.2,290.1 166.6,289.5 166.0,290.0 165.4,290.3 164.8,289.8 164.2,290.9 163.6,291.6 163.0,291.8 162.4,291.3 161.8,292.3 161.2,292.0 160.6,290.7 160.0,291.5 159.4,291.6 158.8,290.9 158.2,291.4 157.6,290.7 157.0,289.7 156.4,290.1 155.8,289.4 155.2,290.7 154.6,288.8 154.0,288.3 153.4,287.5 152.8,286.9 152.2,286.0 151.6,285.3 151.0,284.7 150.4,284.0 149.8,283.1 149.2,282.1 148.6,283.1 148.0,281.7 147.4,283.7 146.8,281.6 146.2,280.2 145.6,280.8 145.0,281.7 144.4,279.3 143.8,279.6 143.2,278.7 142.6,276.5 142.0,277.5 141.4,277.6 140.8,275.4 140.2,273.5 139.6,273.2 139.0,272.8 138.4,272.2 137.8,272.0 137.2,271.4 136.6,270.1 136.0,270.2 135.4,269.9 134.8,269.6 134.2,269.2 133.6,269.6 133.0,269.6 132.4,268.8 131.8,268.8 131.2,268.8 130.6,268.0 130.0,268.1 129.4,267.4 128.8,266.8 128.2,268.0 127.6,266.6 127.0,266.1 126.4,266.7 125.8,265.4 125.2,264.4 124.6,264.1 124.0,266.2 123.4,267.3 122.8,266.9 122.2,267.1 121.6,267.3 121.0,269.1 120.4,271.6 119.8,273.9 119.2,277.1 118.6,277.4 118.0,279.2 117.4,280.9 116.8,282.2 116.2,281.9 115.6,280.8 115.0,279.2 114.4,278.7 113.8,278.4 113.2,278.4 112.6,277.3 112.0,276.0 111.4,275.4 110.8,276.5 110.2,275.4 109.6,273.5 109.0,271.6 108.4,270.6 107.8,267.6 107.2,267.4 106.6,265.9 106.0,265.9 105.4,262.9 104.8,262.9 104.2,263.5 103.6,263.9 103.0,265.4 102.4,265.4 101.8,267.1 101.2,266.9 100.6,267.0 100.0,267.1 99.4,267.6 98.8,267.1 98.2,268.2 97.6,268.4 97.0,268.9 96.4,268.8 95.8,270.3 95.2,270.5 94.6,270.2 94.0,271.4 93.4,270.8 92.8,271.2 92.2,271.2 91.6,272.4 91.0,272.8 90.4,272.2 89.8,272.6 89.2,272.8 88.6,273.1 88.0,272.1 87.4,272.3 86.8,273.0 86.2,273.1 85.6,271.7 85.0,272.1 84.4,272.3 83.8,273.3 83.2,274.3 82.6,274.5 82.0,275.4 81.4,275.1 80.8,275.4 80.2,274.9 79.6,274.6 79.0,273.6 78.4,274.1 77.8,274.7 77.2,274.4 76.6,275.9 76.0,276.1 75.4,275.2 74.8,274.0 74.2,275.3 73.6,274.4 73.0,274.4 72.4,273.7 71.8,274.1 71.2,274.6 70.6,274.3 70.0,275.0 69.4,274.5 68.8,273.5 68.2,274.1 67.6,274.6 67.0,275.1 66.4,275.6 65.8,276.0 65.2,276.4 64.6,277.3 64.0,278.2 63.4,279.8 62.8,280.0 62.2,280.1 61.6,280.5 61.0,279.9 60.4,281.4 59.8,280.8 59.2,281.0 58.6,281.6 58.0,281.7 57.4,280.9 56.8,280.7 56.2,281.3 55.6,280.8 55.0,281.4 54.4,281.2 53.8,283.8 53.2,285.2 52.6,287.1 52.0,288.9 51.4,291.4 50.8,293.4 50.2,293.7 49.6,293.2 49.0,292.3 48.4,293.4 47.8,292.8 47.2,292.5 46.6,292.8 46.0,291.9 45.4,292.5 44.8,294.4 44.2,295.5 43.6,296.7"/><polyline fill="none" stroke="#f00" stroke-width="0.6" stroke-linejoin="round" points="43.6,297.3 43.7,302.1 43.8,290.5 44.0,298.3 44.1,303.6 44.2,282.8 44.3,280.8 44.4,291.7 44.6,290.9 44.7,298.6 44.8,291.5 44.9,284.3 45.0,281.5 45.2,300.2 45.3,297.7 45.4,289.7 45.5,291.8 45.6,295.8 45.8,297.5 45.9,295.7 46.0,279.7 46.1,287.1 46.2,280.7 46.4,283.9 46.5,286.2 46.6,285.7 46.7,289.8 46.8,287.6 47.0,290.7 47.1,295.8 47.2,290.8 47.3,298.8 47.4,296.2 47.6,291.5 47.7,284.0 47.8,288.6 47.9,298.2 48.0,295.1 48.2,296.6 48.3,288.0 48.4,285.7 48.5,280.2 48.6,284.2 48.8,280.1 48.9,293.8 49.0,281.6 49.1,297.5 49.2,297.4 49.4,291.0 49.5,297.8 49.6,294.4 49.7,289.1 49.8,289.1 50.0,296.0 50.1,286.6 50.2,296.3 50.3,295.0 50.4,292.8 50.6,281.1 50.7,295.3 50.8,292.7 50.9,296.2 51.0,296.7 51.2,293.4 51.3,284.6 51.4,275.3 51.5,294.7 51.6,285.8 51.8,289.7 51.9,292.9 52.0,287.2 52.1,273.1 52.2,293.1 52.4,269.4 52.5,269.9 52.6,273.4 52.7,270.1 52.8,287.9 53.0,278.6 53.1,291.7 53.2,279.8 53.3,284.7 53.4,289.0 53.6,286.9 53.7,276.6 53.8,261.7 53.9,265.3 54.0,272.8 54.2,265.4 54.3,267.9 54.4,280.5 54.5,284.4 54.6,280.0 54.8,287.5 54.9,282.5 55.0,274.6 55.1,270.1 55.2,272.1 55.4,268.1 55.5,280.7 55.6,266.3 55.7,273.5 55.8,267.5 56.0,285.2 56.1,280.0 56.2,279.7 56.3,266.5 56.4,269.3 56.6,269.9 56.7,268.5 56.8,264.7 56.9,281.0 57.0,272.7 57.2,276.0 57.3,280.3 57.4,285.7 57.5,283.8 57.6,263.2 57.8,265.5 57.9,265.2 58.0,279.6 58.1,269.9 58.2,272.5 58.4,271.2 58.5,271.3 58.6,268.0 58.7,269.8 58.8,277.4 59.0,277.3 59.1,282.9 59.2,267.2 59.3,265.9 59.4,268.6 59.6,274.9 59.7,277.7 59.8,271.8 59.9,275.1 60.0,275.9 60.2,283.6 60.3,272.4 60.4,278.7 60.5,281.8 60.6,284.9 60.8,281.2 60.9,285.2 61.0,279.1 61.1,284.5 61.2,277.6 61.4,281.7 61.5,281.6 61.6,284.8 61.7,279.7 61.8,284.4 62.0,276.4 62.1,278.5 62.2,277.4 62.3,284.1 62.4,267.1 62.6,270.4 62.7,270.7 62.8,280.3 62.9,269.1 63.0,274.0 63.2,283.3 63.3,275.3 63.4,265.6 63.5,272.1 63.6,268.6 63.8,273.7 63.9,267.6 64.0,278.2 64.1,278.5 64.2,279.0 64.4,271.7 64.5,271.8 64.6,269.6 64.7,278.1 64.8,277.3 65.0,276.9 65.1,279.2 65.2,271.5 65.3,271.1 65.4,270.0 65.6,279.8 65.7,275.7 65.8,273.2 65.9,270.3 66.0,270.0 66.2,275.0 66.3,274.2 66.4,269.2 66.5,270.1 66.6,276.0 66.8,280.5 66.9,265.2 67.0,280.1 67.1,275.9 67.2,274.9 67.4,266.9 67.5,266.0 67.6,271.8 67.7,275.7 67.8,280.2 68.0,273.3 68.1,270.5 68.2,278.0 68.3,271.1 68.4,266.1 68.6,268.0 68.7,264.2 68.8,269.7 68.9,274.2 69.0,276.9 69.2,280.3 69.3,281.8 69.4,282.0 69.5,276.1 69.6,277.1 69.8,275.9 69.9,266.6 70.0,266.5 70.1,274.2 70.2,271.6 70.4,271.5 70.5,265.3 70.6,267.5 70.7,273.9 70.8,275.2 71.0,264.8 71.1,276.9 71.2,281.6 71.3,273.4 71.4,275.7 71.6,268.8 71.7,278.1 71.8,267.4 71.9,271.5 72.0,274.1 72.2,281.6 72.3,265.5 72.4,263.5 72.5,264.0 72.6,267.2 72.8,268.1 72.9,276.3 73.0,263.5 73.1,266.1 73.2,270.8 73.4,265.8 73.5,261.9 73.6,262.5 73.7,270.5 73.8,268.2 74.0,275.6 74.1,273.2 74.2,273.6 74.3,267.8 74.4,279.7 74.6,276.1 74.7,279.3 74.8,279.0 74.9,277.8 75.0,265.6 75.2,263.1 75.3,260.4 75.4,270.3 75.5,267.0 75.6,280.3 75.8,274.8 75.9,269.6 76.0,268.2 76.1,265.7 76.2,261.8 76.4,262.5 76.5,272.4 76.6,278.3 76.7,280.4 76.8,281.9 77.0,281.3 77.1,275.5 77.2,269.2 77.3,263.7 77.4,278.4 77.6,274.7 77.7,277.2 77.8,275.0 77.9,264.4 78.0,275.9 78.2,266.4 78.3,270.5 78.4,276.4 78.5,272.9 78.6,276.5 78.8,275.2 78.9,266.8 79.0,275.3 79.1,269.9 79.2,273.3 79.4,262.9 79.5,272.3 79.6,275.7 79.7,277.4 79.8,265.8 80.0,271.6 80.1,279.4 80.2,269.0 80.3,269.7 80.4,278.8 80.6,274.8 80.7,271.5 80.8,276.5 80.9,269.3 81.0,268.6 81.2,262.3 81.3,267.5 81.4,273.0 81.5,278.5 81.6,270.8 81.8,276.0 81.9,272.9 82.0,279.4 82.1,279.7 82.2,274.7 82.4,268.7 82.5,263.6 82.6,266.7 82.7,276.8 82.8,278.7 83.0,273.9 83.1,274.7 83.2,269.5 83.3,262.2 83.4,264.8 83.6,269.1 83.7,268.8 83.8,279.9 83.9,277.1 84.0,277.3 84.2,273.9 84.3,271.6 84.4,278.2 84.5,264.8 84.6,262.2 84.8,267.1 84.9,269.9 85.0,268.2 85.1,264.9 85.2,261.2 85.4,266.0 85.5,261.2 85.6,268.3 85.7,271.5 85.8,273.5 86.0,277.2 86.1,266.1 86.2,265.4 86.3,265.2 86.4,268.7 86.6,265.4 86.7,267.0 86.8,266.4 86.9,268.6 87.0,269.9 87.2,264.1 87.3,277.2 87.4,268.1 87.5,276.5 87.6,275.6 87.8,274.4 87.9,263.8 88.0,271.1 88.1,278.4 88.2,268.3 88.4,264.0 88.5,263.7 88.6,261.5 88.7,276.4 88.8,271.7 89.0,264.9 89.1,266.3 89.2,272.5 89.3,271.5 89.4,271.4 89.6,269.5 89.7,265.8 89.8,265.9 89.9,265.3 90.0,262.2 90.2,265.8 90.3,270.9 90.4,263.7 90.5,262.5 90.6,264.4 90.8,263.6 90.9,264.4 91.0,264.8 91.1,274.8 91.2,277.4 91.4,264.8 91.5,275.3 91.6,271.1 91.7,268.3 91.8,272.4 92.0,264.4 92.1,265.3 92.2,265.7 92.3,275.2 92.4,272.2 92.6,265.3 92.7,273.4 92.8,278.2 92.9,270.1 93.0,275.4 93.2,266.0 93.3,263.1 93.4,264.4 93.5,267.4 93.6,268.4 93.8,265.1 93.9,267.1 94.0,273.4 94.1,266.6 94.2,262.1 94.4,261.4 94.5,263.4 94.6,261.8 94.7,268.6 94.8,266.8 95.0,274.3 95.1,271.6 95.2,264.8 95.3,262.1 95.4,260.2 95.6,259.1 95.7,260.5 95.8,267.3 95.9,265.0 96.0,275.2 96.2,273.8 96.3,267.2 96.4,272.6 96.5,267.2 96.6,266.3 96.8,265.7 96.9,273.2 97.0,261.0 97.1,264.7 97.2,267.0 97.4,276.3 97.5,268.8 97.6,272.5 97.7,273.0 97.8,263.3 98.0,260.1 98.1,269.8 98.2,257.6 98.3,260.3 98.4,259.2 98.6,271.8 98.7,275.3 98.8,260.8 98.9,272.8 99.0,261.4 99.2,260.0 99.3,257.2 99.4,270.0 99.5,267.9 99.6,260.9 99.8,258.9 99.9,260.5 100.0,264.9 100.1,269.3 100.2,268.8 100.4,262.9 100.5,260.4 100.6,265.2 100.7,266.7 100.8,268.8 101.0,264.6 101.1,260.7 101.2,259.8 101.3,262.9 101.4,257.0 101.6,256.7 101.7,265.6 101.8,256.4 101.9,254.7 102.0,258.1 102.2,260.8 102.3,273.2 102.4,262.7 102.5,256.6 102.6,267.6 102.8,267.3 102.9,266.5 103.0,269.6 103.1,263.0 103.2,261.1 103.4,270.2 103.5,266.2 103.6,262.5 103.7,255.6 103.8,257.9 104.0,256.0 104.1,255.7 104.2,255.2 104.3,257.4 104.4,254.6 104.6,256.1 104.7,250.8 104.8,258.1 104.9,263.4 105.0,268.2 105.2,271.9 105.3,270.0 105.4,268.0 105.5,265.9 105.6,262.8 105.8,263.9 105.9,269.8 106.0,258.5 106.1,265.3 106.2,270.8 106.4,254.4 106.5,265.6 106.6,267.5 106.7,273.1 106.8,270.2 107.0,268.9 107.1,263.8 107.2,267.2 107.3,267.1 107.4,259.3 107.6,263.4 107.7,268.0 107.8,261.1 107.9,274.1 108.0,273.7 108.2,275.7 108.3,261.4 108.4,272.3 108.5,275.6 108.6,278.7 108.8,267.8 108.9,263.6 109.0,265.8 109.1,262.6 109.2,270.4 109.4,267.9 109.5,264.2 109.6,274.9 109.7,277.4 109.8,279.1 110.0,280.6 110.1,270.1 110.2,267.0 110.3,278.6 110.4,271.4 110.6,272.1 110.7,278.2 110.8,275.1 110.9,261.3 111.0,264.1 111.2,262.8 111.3,263.9 111.4,267.4 111.5,263.8 111.6,274.3 111.8,276.7 111.9,268.3 112.0,267.8 112.1,270.8 112.2,268.6 112.4,271.2 112.5,270.4 112.6,266.9 112.7,281.2 112.8,271.9 113.0,277.8 113.1,282.3 113.2,267.4 113.3,271.9 113.4,267.4 113.6,270.2 113.7,271.3 113.8,280.6 113.9,266.2 114.0,269.0 114.2,277.1 114.3,275.0 114.4,282.3 114.5,272.9 114.6,277.4 114.8,276.4 114.9,274.6 115.0,272.1 115.1,271.1 115.2,277.2 115.4,279.6 115.5,270.3 115.6,272.8 115.7,284.4 115.8,278.9 116.0,283.6 116.1,273.8 116.2,274.2 116.3,282.4 116.4,281.3 116.6,289.6 116.7,273.6 116.8,278.6 116.9,285.6 117.0,269.7 117.2,267.3 117.3,272.1 117.4,267.4 117.5,269.1 117.6,278.1 117.8,283.9 117.9,286.1 118.0,276.4 118.1,269.9 118.2,267.7 118.4,262.9 118.5,273.8 118.6,275.2 118.7,285.2 118.8,273.1 119.0,282.7 119.1,279.7 119.2,279.2 119.3,263.0 119.4,281.4 119.6,271.9 119.7,269.1 119.8,271.6 119.9,281.3 120.0,280.4 120.2,279.7 120.3,277.6 120.4,269.0 120.5,269.0 120.6,267.4 120.8,271.9 120.9,267.7 121.0,267.6 121.1,275.9 121.2,269.1 121.4,265.4 121.5,263.2 121.6,260.5 121.7,271.4 121.8,266.3 122.0,269.2 122.1,256.9 122.2,261.7 122.3,265.4 122.4,275.5 122.6,255.4 122.7,261.4 122.8,257.9 122.9,267.0 123.0,261.0 123.2,253.4 123.3,256.4 123.4,255.3 123.5,266.9 123.6,267.5 123.8,273.8 123.9,274.1 124.0,274.7 124.1,271.3 124.2,271.3 124.4,256.1 124.5,272.0 124.6,262.7 124.7,250.8 124.8,251.8 125.0,253.3 125.1,255.6 125.2,250.9 125.3,262.7 125.4,263.3 125.6,253.9 125.7,253.7 125.8,256.9 125.9,254.6 126.0,252.1 126.2,251.7 126.3,257.3 126.4,257.7 126.5,261.1 126.6,254.4 126.8,265.0 126.9,262.5 127.0,263.3 127.1,258.4 127.2,258.5 127.4,259.3 127.5,264.2 127.6,255.1 127.7,262.4 127.8,264.0 128.0,263.2 128.1,257.0 128.2,264.6 128.3,259.3 128.4,268.0 128.6,260.8 128.7,273.3 128.8,266.6 128.9,257.0 129.0,269.2 129.2,255.9 129.3,266.2 129.4,262.5 129.5,260.7 129.6,271.5 129.8,259.3 129.9,263.5 130.0,268.8 130.1,271.6 130.2,265.4 130.4,260.2 130.5,256.1 130.6,257.9 130.7,257.7 130.8,270.8 131.0,265.7 131.1,264.0 131.2,262.0 131.3,271.1 131.4,262.4 131.6,266.9 131.7,273.2 131.8,265.7 131.9,265.9 132.0,262.8 132.2,257.9 132.3,258.7 132.4,266.5 132.5,262.9 132.6,256.5 132.8,262.1 132.9,268.0 133.0,270.5 133.1,265.0 133.2,266.1 133.4,264.9 133.5,267.7 133.6,259.1 133.7,256.3 133.8,261.3 134.0,269.7 134.1,267.4 134.2,274.6 134.3,270.5 134.4,271.0 134.6,259.7 134.7,268.9 134.8,274.0 134.9,260.6 135.0,257.9 135.2,273.0 135.3,276.8 135.4,276.8 135.5,275.2 135.6,264.2 135.8,261.1 135.9,256.2 136.0,257.3 136.1,259.3 136.2,260.2 136.4,268.3 136.5,264.7 136.6,255.3 136.7,263.4 136.8,257.2 137.0,262.3 137.1,260.8 137.2,262.4 137.3,256.2 137.4,260.1 137.6,267.6 137.7,278.7 137.8,278.6 137.9,280.1 138.0,271.2 138.2,261.6 138.3,260.0 138.4,273.4 138.5,279.4 138.6,276.1 138.8,260.4 138.9,265.3 139.0,280.7 139.1,275.4 139.2,262.6 139.4,258.0 139.5,259.6 139.6,260.9 139.7,267.3 139.8,261.8 140.0,261.5 140.1,270.5 140.2,263.5 140.3,271.2 140.4,277.0 140.6,274.8 140.7,273.0 140.8,266.2 140.9,273.5 141.0,260.9 141.2,264.3 141.3,261.4 141.4,277.3 141.5,268.9 141.6,274.5 141.8,267.8 141.9,280.1 142.0,278.3 142.1,276.1 142.2,274.1 142.4,284.1 142.5,267.9 142.6,272.6 142.7,274.6 142.8,264.5 143.0,272.4 143.1,273.5 143.2,262.9 143.3,270.5 143.4,266.6 143.6,271.2 143.7,285.5 143.8,272.1 143.9,267.9 144.0,269.3 144.2,282.1 144.3,273.2 144.4,270.3 144.5,276.7 144.6,268.4 144.8,268.8 144.9,263.9 145.0,269.1 145.1,288.7 145.2,286.5 145.4,285.6 145.5,288.3 145.6,284.2 145.7,277.5 145.8,271.7 146.0,266.0 146.1,280.5 146.2,277.0 146.3,278.9 146.4,279.8 146.6,277.7 146.7,278.2 146.8,266.4 146.9,288.6 147.0,276.5 147.2,283.0 147.3,271.4 147.4,274.1 147.5,282.3 147.6,274.9 147.8,270.1 147.9,283.8 148.0,282.6 148.1,286.9 148.2,280.0 148.4,283.5 148.5,278.7 148.6,281.6 148.7,276.8 148.8,276.2 149.0,288.3 149.1,285.4 149.2,288.0 149.3,272.4 149.4,280.2 149.6,273.8 149.7,276.8 149.8,280.6 149.9,287.3 150.0,281.8 150.2,288.7 150.3,280.7 150.4,273.8 150.5,273.8 150.6,271.8 150.8,274.6 150.9,274.6 151.0,279.0 151.1,272.5 151.2,285.7 151.4,284.1 151.5,277.0 151.6,285.0 151.7,284.6 151.8,287.4 152.0,292.3 152.1,279.8 152.2,285.3 152.3,281.4 152.4,282.2 152.6,293.0 152.7,281.6 152.8,284.3 152.9,284.6 153.0,280.7 153.2,277.0 153.3,285.9 153.4,289.1 153.5,286.5 153.6,277.3 153.8,284.9 153.9,292.3 154.0,276.4 154.1,285.8 154.2,286.2 154.4,278.2 154.5,282.9 154.6,277.2 154.7,293.5 154.8,278.8 155.0,292.3 155.1,294.5 155.2,281.9 155.3,282.3 155.4,283.1 155.6,290.2 155.7,290.4 155.8,286.7 155.9,289.7 156.0,281.7 156.2,280.3 156.3,284.0 156.4,291.0 156.5,290.4 156.6,290.8 156.8,279.4 156.9,290.3 157.0,278.6 157.1,277.5 157.2,281.3 157.4,289.3 157.5,292.7 157.6,280.6 157.7,293.5 157.8,296.5 158.0,297.5 158.1,297.5 158.2,292.7 158.3,288.7 158.4,292.5 158.6,298.7 158.7,284.8 158.8,288.6 158.9,289.5 159.0,296.8 159.2,283.3 159.3,280.1 159.4,296.5 159.5,291.0 159.6,287.2 159.8,278.7 159.9,293.1 160.0,286.6 160.1,280.6 160.2,299.8 160.4,286.3 160.5,292.3 160.6,291.4 160.7,295.9 160.8,291.4 161.0,293.4 161.1,296.2 161.2,285.6 161.3,290.2 161.4,288.2 161.6,281.8 161.7,290.0 161.8,294.2 161.9,283.5 162.0,288.5 162.2,298.3 162.3,293.8 162.4,295.1 162.5,295.3 162.6,283.2 162.8,292.3 162.9,287.2 163.0,284.0 163.1,282.5 163.2,291.6 163.4,282.5 163.5,278.7 163.6,279.2 163.7,291.1 163.8,286.1 164.0,286.8 164.1,280.7 164.2,294.5 164.3,286.1 164.4,297.1 164.6,286.5 164.7,295.1 164.8,296.2 164.9,287.5 165.0,295.6 165.2,285.4 165.3,293.8 165.4,284.8 165.5,282.6 165.6,287.8 165.8,288.9 165.9,285.6 166.0,284.8 166.1,297.1 166.2,291.6 166.4,290.0 166.5,296.6 166.6,297.4 166.7,288.8 166.8,292.9 167.0,289.7 167.1,293.5 167.2,291.4 167.3,281.3 167.4,278.5 167.6,288.3 167.7,289.7 167.8,288.2 167.9,281.7 168.0,285.9 168.2,280.9 168.3,277.8 168.4,289.5 168.5,284.2 168.6,292.7 168.8,286.5 168.9,280.4 169.0,281.1 169.1,290.9 169.2,297.3 169.4,287.2 169.5,291.9 169.6,296.3 169.7,292.9 169.8,284.2 170.0,293.7 170.1,285.0 170.2,280.4 170.3,281.2 170.4,281.5 170.6,284.9 170.7,281.9 170.8,285.8 170.9,289.1 171.0,283.5 171.2,289.3 171.3,279.8 171.4,294.9 171.5,293.5 171.6,293.4 171.8,287.0 171.9,282.8 172.0,282.8 172.1,292.1 172.2,290.4 172.4,282.1 172.5,289.2 172.6,295.5 172.7,289.3 172.8,281.6 173.0,294.8 173.1,297.1 173.2,296.9 173.3,293.1 173.4,296.0 173.6,290.2 173.7,281.5 173.8,279.0 173.9,280.5 174.0,287.4 174.2,296.7 174.3,295.9 174.4,297.5 174.5,291.4 174.6,284.1 174.8,282.3 174.9,287.8 175.0,288.8 175.1,281.0 175.2,281.1 175.4,284.6 175.5,284.1 175.6,291.2 175.7,295.5 175.8,291.5 176.0,289.3 176.1,282.0 176.2,279.1 176.3,282.8 176.4,295.5 176.6,288.6 176.7,283.8 176.8,281.4 176.9,285.5 177.0,289.8 177.2,287.9 177.3,281.8 177.4,293.9 177.5,295.7 177.6,283.0 177.8,279.3 177.9,285.1 178.0,285.9 178.1,286.2 178.2,283.1 178.4,280.2 178.5,286.1 178.6,289.3 178.7,288.8 178.8,296.2 179.0,280.6 179.1,288.2 179.2,280.6 179.3,281.4 179.4,287.4 179.6,282.7 179.7,285.6 179.8,287.7 179.9,294.9 180.0,293.1 180.2,285.7 180.3,289.0 180.4,290.8 180.5,296.5 180.6,295.9 180.8,287.3 180.9,298.0 181.0,298.8 181.1,297.2 181.2,297.2 181.4,288.2 181.5,292.4 181.6,292.8 181.7,291.0 181.8,297.0 182.0,281.2 182.1,278.4 182.2,288.8 182.3,282.1 182.4,284.0 182.6,298.5 182.7,295.2 182.8,286.1 182.9,296.0 183.0,293.8 183.2,287.1 183.3,294.6 183.4,290.0 183.5,292.4 183.6,295.7 183.8,290.6 183.9,281.4 184.0,279.6 184.1,298.8 184.2,299.7 184.4,281.1 184.5,288.6 184.6,279.9 184.7,279.2 184.8,287.4 185.0,294.5 185.1,297.7 185.2,287.0 185.3,290.3 185.4,285.3 185.6,294.1 185.7,296.0 185.8,285.2 185.9,296.7 186.0,297.7 186.2,298.6 186.3,289.6 186.4,295.4 186.5,285.8 186.6,285.6 186.8,288.6 186.9,285.9 187.0,289.6 187.1,297.1 187.2,296.4 187.4,301.7 187.5,292.7 187.6,286.9 187.7,292.3 187.8,298.4 188.0,281.4 188.1,295.3 188.2,297.2 188.3,293.5 188.4,288.6 188.6,288.0 188.7,293.9 188.8,300.4 188.9,295.2 189.0,297.0 189.2,285.9 189.3,297.1 189.4,293.5 189.5,280.4 189.6,282.4 189.8,282.7 189.9,280.5 190.0,282.2 190.1,281.2 190.2,283.6 190.4,289.5 190.5,295.1 190.6,297.1 190.7,289.3 190.8,281.6 191.0,288.1 191.1,295.0 191.2,290.5 191.3,282.0 191.4,280.8 191.6,285.5 191.7,290.2 191.8,289.6 191.9,293.6 192.0,288.7 192.2,282.6 192.3,283.1 192.4,279.3 192.5,285.8 192.6,287.5 192.8,282.7 192.9,277.9 193.0,280.7 193.1,276.8 193.2,281.5 193.4,280.3 193.5,280.9 193.6,280.6 193.7,291.5 193.8,292.0 194.0,288.2 194.1,289.7 194.2,285.2 194.3,281.3 194.4,281.6 194.6,279.6 194.7,274.1 194.8,291.6 194.9,288.3 195.0,281.4 195.2,273.6 195.3,292.0 195.4,279.2 195.5,282.9 195.6,278.0 195.8,278.4 195.9,287.0 196.0,273.9 196.1,282.4 196.2,279.5 196.4,285.7 196.5,282.2 196.6,276.9 196.7,279.3 196.8,278.4 197.0,275.5 197.1,282.6 197.2,281.1 197.3,277.6 197.4,279.6 197.6,281.3 197.7,291.3 197.8,290.5 197.9,289.3 198.0,287.5 198.2,288.5 198.3,287.2 198.4,277.1 198.5,276.9 198.6,274.4 198.8,281.6 198.9,286.1 199.0,274.7 199.1,283.5 199.2,286.7 199.4,280.2 199.5,275.6 199.6,274.3 199.7,282.6 199.8,275.8 200.0,278.6 200.1,288.2 200.2,288.0 200.3,283.3 200.4,278.5 200.6,276.4 200.7,282.5 200.8,283.0 200.9,286.8 201.0,282.4 201.2,274.1 201.3,281.6 201.4,277.7 201.5,281.8 201.6,276.5 201.8,277.6 201.9,284.5 202.0,285.6 202.1,289.9 202.2,280.5 202.4,289.4 202.5,285.0 202.6,284.2 202.7,288.8 202.8,284.6 203.0,284.5 203.1,283.5 203.2,285.0 203.3,279.7 203.4,291.9 203.6,284.5 203.7,287.0 203.8,276.3 203.9,283.1 204.0,278.4 204.2,282.0 204.3,277.9 204.4,278.9 204.5,289.1 204.6,281.3 204.8,280.5 204.9,280.9 205.0,275.4 205.1,275.1 205.2,275.5 205.4,277.8 205.5,284.5 205.6,289.5 205.7,280.1 205.8,290.9 206.0,290.5 206.1,282.5 206.2,281.8 206.3,284.8 206.4,279.7 206.6,287.9 206.7,279.8 206.8,280.3 206.9,281.9 207.0,275.2 207.2,283.2 207.3,285.8 207.4,280.9 207.5,278.9 207.6,278.6 207.8,286.3 207.9,287.7 208.0,286.6 208.1,285.6 208.2,283.3 208.4,279.0 208.5,282.1 208.6,278.6 208.7,283.0 208.8,275.8 209.0,281.0 209.1,287.5 209.2,284.9 209.3,280.0 209.4,282.9 209.6,277.8 209.7,281.9 209.8,288.2 209.9,289.6 210.0,283.8 210.2,283.7 210.3,285.8 210.4,278.1 210.5,273.9 210.6,279.7 210.8,287.8 210.9,277.7 211.0,280.7 211.1,280.6 211.2,274.7 211.4,279.1 211.5,279.4 211.6,282.6 211.7,286.0 211.8,279.3 212.0,284.4 212.1,282.5 212.2,283.2 212.3,275.0 212.4,273.8 212.6,287.7 212.7,278.9 212.8,288.9 212.9,285.4 213.0,278.4 213.2,274.2 213.3,286.2 213.4,281.6 213.5,283.3 213.6,282.0 213.8,277.4 213.9,277.0 214.0,273.6 214.1,288.9 214.2,289.6 214.4,289.2 214.5,286.4 214.6,276.5 214.7,284.4 214.8,282.5 215.0,274.9 215.1,289.1 215.2,275.4 215.3,280.4 215.4,288.3 215.6,283.6 215.7,276.6 215.8,281.5 215.9,274.4 216.0,278.5 216.2,286.7 216.3,278.4 216.4,276.7 216.5,287.6 216.6,282.3 216.8,283.6 216.9,275.9 217.0,289.6 217.1,290.8 217.2,281.4 217.4,288.2 217.5,278.8 217.6,280.5 217.7,273.0 217.8,274.3 218.0,288.0 218.1,279.0 218.2,278.2 218.3,281.0 218.4,273.3 218.6,274.7 218.7,281.4 218.8,274.8 218.9,275.8 219.0,288.5 219.2,275.4 219.3,283.9 219.4,289.0 219.5,277.5 219.6,283.6 219.8,287.4 219.9,288.3 220.0,273.7 220.1,272.8 220.2,278.0 220.4,285.6 220.5,284.4 220.6,284.6 220.7,276.8 220.8,274.0 221.0,274.5 221.1,280.1 221.2,284.9 221.3,274.8 221.4,274.4 221.6,275.9 221.7,281.5 221.8,283.5 221.9,276.9 222.0,278.0 222.2,282.8 222.3,288.3 222.4,276.1 222.5,274.2 222.6,281.4 222.8,285.0 222.9,287.4 223.0,289.2 223.1,290.2 223.2,280.3 223.4,282.2 223.5,284.9 223.6,277.8 223.7,272.1 223.8,286.8 224.0,282.7 224.1,286.0 224.2,284.7 224.3,286.4 224.4,278.9 224.6,273.6 224.7,277.7 224.8,285.1 224.9,278.6 225.0,287.4 225.2,280.0 225.3,283.3 225.4,277.8 225.5,289.8 225.6,278.2 225.8,271.6 225.9,280.7 226.0,277.9 226.1,283.4 226.2,286.3 226.4,275.5 226.5,280.5 226.6,270.5 226.7,280.8 226.8,277.1 227.0,279.8 227.1,282.4 227.2,287.8 227.3,279.9 227.4,288.7 227.6,285.6 227.7,281.2 227.8,272.8 227.9,275.8 228.0,275.8 228.2,272.9 228.3,272.6 228.4,272.6 228.5,274.4 228.6,280.7 228.8,287.0 228.9,282.5 229.0,283.1 229.1,285.1 229.2,280.9 229.4,288.7 229.5,289.6 229.6,286.3 229.7,286.1 229.8,281.3 230.0,278.6 230.1,279.1 230.2,277.6 230.3,290.7 230.4,285.8 230.6,282.3 230.7,276.6 230.8,283.7 230.9,281.4 231.0,278.5 231.2,283.5 231.3,285.9 231.4,271.7 231.5,273.8 231.6,282.7 231.8,277.5 231.9,272.7 232.0,270.0 232.1,271.7 232.2,274.1 232.4,272.9 232.5,286.2 232.6,283.6 232.7,278.1 232.8,277.3 233.0,268.0 233.1,276.9 233.2,269.5 233.3,275.1 233.4,280.3 233.6,271.2 233.7,271.5 233.8,264.5 233.9,282.3 234.0,282.4 234.2,271.0 234.3,282.3 234.4,277.5 234.5,277.3 234.6,271.0 234.8,266.0 234.9,282.7 235.0,277.3 235.1,281.1 235.2,269.6 235.4,277.2 235.5,271.0 235.6,274.2 235.7,276.0 235.8,277.7 236.0,268.7 236.1,267.1 236.2,269.1 236.3,282.4 236.4,284.3 236.6,282.4 236.7,273.1 236.8,272.6 236.9,268.6 237.0,272.2 237.2,276.0 237.3,275.2 237.4,274.7 237.5,258.9 237.6,276.2 237.8,277.8 237.9,279.1 238.0,284.0 238.1,268.3 238.2,257.6 238.4,277.0 238.5,268.2 238.6,265.7 238.7,259.5 238.8,258.1 239.0,259.6 239.1,272.6 239.2,260.2 239.3,284.1 239.4,269.2 239.6,259.2 239.7,259.4 239.8,266.5 239.9,273.8 240.0,270.4 240.2,282.6 240.3,283.3 240.4,272.4 240.5,281.0 240.6,270.8 240.8,277.5 240.9,265.5 241.0,273.6 241.1,277.8 241.2,280.3 241.4,272.1 241.5,277.3 241.6,259.6 241.7,271.0 241.8,262.4 242.0,263.9 242.1,263.6 242.2,275.6 242.3,280.8 242.4,275.7 242.6,257.7 242.7,260.4 242.8,262.8 242.9,273.8 243.0,283.3 243.2,266.9 243.3,269.9 243.4,272.2 243.5,266.1 243.6,261.3 243.8,261.7 243.9,268.6 244.0,277.0 244.1,283.3 244.2,276.6 244.4,271.7 244.5,257.9 244.6,264.9 244.7,275.4 244.8,280.8 245.0,283.5 245.1,268.2 245.2,259.9 245.3,281.4 245.4,281.5 245.6,280.0 245.7,279.9 245.8,254.4 245.9,277.0 246.0,276.7 246.2,260.5 246.3,271.9 246.4,267.8 246.5,269.6 246.6,265.5 246.8,270.1 246.9,275.6 247.0,272.9 247.1,265.4 247.2,280.3 247.4,284.2 247.5,281.3 247.6,286.0 247.7,286.7 247.8,267.8 248.0,273.2 248.1,271.3 248.2,269.0 248.3,272.7 248.4,268.4 248.6,265.3 248.7,275.2 248.8,285.3 248.9,285.5 249.0,275.9 249.2,282.9 249.3,281.6 249.4,286.5 249.5,286.9 249.6,286.4 249.8,268.4 249.9,267.2 250.0,270.9 250.1,268.4 250.2,281.7 250.4,274.4 250.5,269.9 250.6,278.2 250.7,284.8 250.8,285.3 251.0,273.0 251.1,281.9 251.2,271.8 251.3,276.3 251.4,272.0 251.6,278.5 251.7,269.2 251.8,288.3 251.9,277.7 252.0,268.0 252.2,281.0 252.3,269.1 252.4,284.2 252.5,279.9 252.6,284.7 252.8,278.9 252.9,281.4 253.0,274.9 253.1,272.2 253.2,281.1 253.4,274.6 253.5,268.5 253.6,268.6 253.7,268.1 253.8,280.5 254.0,276.8 254.1,277.3 254.2,284.7 254.3,277.2 254.4,277.9 254.6,268.6 254.7,266.5 254.8,267.3 254.9,268.1 255.0,266.1 255.2,266.1 255.3,281.8 255.4,270.6 255.5,268.6 255.6,271.2 255.8,287.8 255.9,288.3 256.0,285.8 256.1,276.3 256.2,269.0 256.4,266.6 256.5,281.5 256.6,276.6 256.7,286.3 256.8,281.0 257.0,272.1 257.1,286.9 257.2,287.7 257.3,277.5 257.4,282.5 257.6,282.8 257.7,279.9 257.8,281.6 257.9,285.1 258.0,272.4 258.2,273.7 258.3,276.0 258.4,276.8 258.5,286.8 258.6,272.4 258.8,273.8 258.9,290.3 259.0,282.2 259.1,280.1 259.2,286.2 259.4,270.2 259.5,284.6 259.6,290.0 259.7,287.5 259.8,281.9 260.0,273.6 260.1,283.1 260.2,276.1 260.3,279.7 260.4,273.2 260.6,276.9 260.7,277.8 260.8,279.7 260.9,271.5 261.0,271.8 261.2,279.2 261.3,280.0 261.4,285.5 261.5,275.2 261.6,288.4 261.8,281.9 261.9,288.9 262.0,278.3 262.1,283.6 262.2,269.2 262.4,275.1 262.5,274.7 262.6,265.8 262.7,272.4 262.8,273.6 263.0,267.1 263.1,277.6 263.2,281.7 263.3,272.9 263.4,282.2 263.6,282.1 263.7,268.9 263.8,287.9 263.9,278.7 264.0,279.8 264.2,269.6 264.3,270.0 264.4,285.1 264.5,286.4 264.6,283.9 264.8,278.0 264.9,287.6 265.0,279.4 265.1,286.4 265.2,278.2 265.4,274.9 265.5,280.0 265.6,285.8 265.7,286.3 265.8,271.9 266.0,288.0 266.1,270.0 266.2,274.1 266.3,276.8 266.4,272.9 266.6,283.7 266.7,282.0 266.8,283.3 266.9,274.8 267.0,272.7 267.2,283.0 267.3,282.1 267.4,280.2 267.5,280.1 267.6,276.6 267.8,274.5 267.9,287.7 268.0,277.8 268.1,282.3 268.2,288.7 268.4,274.3 268.5,281.5 268.6,283.7 268.7,281.5 268.8,274.0 269.0,268.2 269.1,277.4 269.2,280.9 269.3,268.1 269.4,271.3 269.6,271.8 269.7,271.9 269.8,275.7 269.9,281.3 270.0,286.3 270.2,286.8 270.3,277.9 270.4,272.1 270.5,277.2 270.6,282.3 270.8,275.2 270.9,272.7 271.0,268.1 271.1,270.8 271.2,273.9 271.4,280.9 271.5,262.9 271.6,266.6 271.7,274.4 271.8,284.7 272.0,272.4 272.1,259.6 272.2,262.2 272.3,268.6 272.4,276.5 272.6,276.8 272.7,273.2 272.8,273.6 272.9,273.4 273.0,268.5 273.2,271.0 273.3,281.0 273.4,276.1 273.5,262.1 273.6,279.6 273.8,281.0 273.9,270.4 274.0,258.4 274.1,279.3 274.2,264.9 274.4,277.1 274.5,261.1 274.6,259.2 274.7,252.5 274.8,282.4 275.0,273.7 275.1,253.3 275.2,281.0 275.3,281.8 275.4,261.7 275.6,281.0 275.7,271.2 275.8,269.2 275.9,277.1 276.0,271.9 276.2,280.8 276.3,269.5 276.4,275.9 276.5,280.5 276.6,265.1 276.8,276.0 276.9,263.9 277.0,277.8 277.1,262.3 277.2,276.4 277.4,263.7 277.5,267.4 277.6,271.8 277.7,273.1 277.8,277.1 278.0,275.9 278.1,263.6 278.2,272.6 278.3,268.3 278.4,268.6 278.6,279.6 278.7,280.9 278.8,270.0 278.9,278.2 279.0,277.0 279.2,276.4 279.3,273.0 279.4,283.3 279.5,277.7 279.6,286.9 279.8,270.8 279.9,265.1 280.0,270.2 280.1,269.1 280.2,267.4 280.4,269.8 280.5,273.5 280.6,283.3 280.7,268.9 280.8,282.0 281.0,280.4 281.1,270.4 281.2,284.6 281.3,285.4 281.4,273.0 281.6,279.0 281.7,283.1 281.8,267.4 281.9,267.0 282.0,276.6 282.2,279.7 282.3,268.2 282.4,270.4 282.5,266.1 282.6,274.0 282.8,277.5 282.9,275.5 283.0,271.1 283.1,267.7 283.2,267.1 283.4,277.9 283.5,282.5 283.6,269.2 283.7,276.4 283.8,268.9 284.0,272.9 284.1,277.9 284.2,285.7 284.3,265.3 284.4,277.4 284.6,272.7 284.7,267.1 284.8,272.6 284.9,284.6 285.0,283.5 285.2,278.2 285.3,276.1 285.4,285.3 285.5,279.4 285.6,274.4 285.8,282.5 285.9,286.4 286.0,267.3 286.1,275.7 286.2,284.2 286.4,271.1 286.5,276.1 286.6,284.3 286.7,270.4 286.8,283.6 287.0,275.8 287.1,283.4 287.2,280.8 287.3,277.8 287.4,271.6 287.6,285.6 287.7,275.1 287.8,271.2 287.9,274.0 288.0,277.0 288.2,275.4 288.3,274.7 288.4,279.3 288.5,280.7 288.6,278.9 288.8,267.4 288.9,270.5 289.0,266.8 289.1,268.1 289.2,276.5 289.4,271.0 289.5,285.7 289.6,272.7 289.7,279.5 289.8,276.6 290.0,282.7 290.1,280.7 290.2,274.3 290.3,278.7 290.4,280.0 290.6,288.3 290.7,279.5 290.8,277.8 290.9,280.5 291.0,271.3 291.2,281.0 291.3,290.2 291.4,274.8 291.5,276.5 291.6,273.2 291.8,272.6 291.9,272.4 292.0,274.7 292.1,279.0 292.2,283.8 292.4,277.2 292.5,280.4 292.6,279.9 292.7,282.6 292.8,283.9 293.0,289.3 293.1,280.5 293.2,272.0 293.3,271.7 293.4,285.8 293.6,278.5 293.7,278.3 293.8,272.1 293.9,290.0 294.0,275.9 294.2,278.5 294.3,279.7 294.4,286.2 294.5,285.0 294.6,269.8 294.8,277.3 294.9,279.1 295.0,276.3 295.1,280.1 295.2,273.5 295.4,286.5 295.5,280.3 295.6,272.7 295.7,273.9 295.8,272.0 296.0,283.4 296.1,277.5 296.2,280.0 296.3,283.3 296.4,285.2 296.6,287.2 296.7,287.5 296.8,286.1 296.9,281.4 297.0,278.4 297.2,267.7 297.3,269.8 297.4,267.1 297.5,283.6 297.6,280.6 297.8,285.5 297.9,273.2 298.0,286.2 298.1,283.7 298.2,282.3 298.4,280.9 298.5,278.0 298.6,276.5 298.7,273.8 298.8,272.4 299.0,281.1 299.1,279.3 299.2,284.2 299.3,273.0 299.4,279.5 299.6,286.4 299.7,283.6 299.8,272.8 299.9,286.2 300.0,288.4 300.2,288.3 300.3,281.1 300.4,279.1 300.5,279.4 300.6,285.2 300.8,288.2 300.9,282.9 301.0,286.4 301.1,288.3 301.2,277.4 301.4,288.4 301.5,278.2 301.6,276.4 301.7,277.8 301.8,284.6 302.0,285.0 302.1,286.9 302.2,289.2 302.3,289.9 302.4,290.1 302.6,291.1 302.7,291.7 302.8,289.5 302.9,283.0 303.0,276.9 303.2,274.2 303.3,283.8 303.4,277.8 303.5,274.9 303.6,281.2 303.8,283.3 303.9,279.3 304.0,277.8 304.1,282.9 304.2,275.0 304.4,284.8 304.5,285.2 304.6,283.1 304.7,284.2 304.8,280.2 305.0,279.1 305.1,279.7 305.2,280.2 305.3,288.6 305.4,277.0 305.6,284.0 305.7,274.7 305.8,277.5 305.9,277.4 306.0,279.9 306.2,275.7 306.3,282.1 306.4,278.1 306.5,282.9 306.6,277.4 306.8,274.3 306.9,280.1 307.0,290.5 307.1,288.1 307.2,278.4 307.4,283.0 307.5,285.5 307.6,287.0 307.7,274.1 307.8,281.3 308.0,281.6 308.1,284.7 308.2,281.8 308.3,290.5 308.4,284.2 308.6,283.3 308.7,285.1 308.8,283.5 308.9,279.2 309.0,273.7 309.2,288.5 309.3,290.4 309.4,281.7 309.5,278.5 309.6,287.0 309.8,286.4 309.9,283.8 310.0,273.1 310.1,286.3 310.2,281.4 310.4,276.5 310.5,276.6 310.6,287.7 310.7,287.0 310.8,288.6 311.0,290.3 311.1,287.9 311.2,273.7 311.3,273.4 311.4,271.3 311.6,269.9 311.7,273.5 311.8,282.2 311.9,285.1"/>
<rect x="43.6" y="208.4" width="269.2" height="134.1" fill="none" stroke="#444" stroke-width="1.25"/>
<line x1="43.6" y1="342.5" x2="43.6" y2="332.5" stroke="#444" stroke-width="1"/>
<line x1="70.5" y1="342.5" x2="70.5" y2="337.0" stroke="#444" stroke-width="1"/>
<line x1="97.4" y1="342.5" x2="97.4" y2="332.5" stroke="#444" stroke-width="1"/>
<line x1="124.4" y1="342.5" x2="124.4" y2="337.0" stroke="#444" stroke-width="1"/>
<line x1="151.3" y1="342.5" x2="151.3" y2="332.5" stroke="#444" stroke-width="1"/>
<line x1="178.2" y1="342.5" x2="178.2" y2="337.0" stroke="#444" stroke-width="1"/>
<line x1="205.1" y1="342.5" x2="205.1" y2="332.5" stroke="#444" stroke-width="1"/>
<line x1="232.0" y1="342.5" x2="232.0" y2="337.0" stroke="#444" stroke-width="1"/>
<line x1="259.0" y1="342.5" x2="259.0" y2="332.5" stroke="#444" stroke-width="1"/>
<line x1="285.9" y1="342.5" x2="285.9" y2="337.0" stroke="#444" stroke-width="1"/>
<line x1="312.8" y1="342.5" x2="312.8" y2="332.5" stroke="#444" stroke-width="1"/>
<line x1="43.6" y1="342.5" x2="53.6" y2="342.5" stroke="#444" stroke-width="1"/>
<line x1="43.6" y1="320.1" x2="49.1" y2="320.1" stroke="#444" stroke-width="1"/>
<line x1="43.6" y1="297.8" x2="53.6" y2="297.8" stroke="#444" stroke-width="1"/>
<line x1="43.6" y1="275.5" x2="49.1" y2="275.5" stroke="#444" stroke-width="1"/>
<line x1="43.6" y1="253.1" x2="53.6" y2="253.1" stroke="#444" stroke-width="1"/>
<line x1="43.6" y1="230.8" x2="49.1" y2="230.8" stroke="#444" stroke-width="1"/>
<line x1="43.6" y1="208.4" x2="53.6" y2="208.4" stroke="#444" stroke-width="1"/>
<text x="43.6" y="358.6" font-size="14" text-anchor="middle" font-weight="normal" >0</text>
<text x="97.4" y="358.6" font-size="14" text-anchor="middle" font-weight="normal" >40000</text>
<text x="151.3" y="358.6" font-size="14" text-anchor="middle" font-weight="normal" >80000</text>
<text x="205.1" y="358.6" font-size="14" text-anchor="middle" font-weight="normal" >120000</text>
<text x="259.0" y="358.6" font-size="14" text-anchor="middle" font-weight="normal" >160000</text>
<text x="312.8" y="358.6" font-size="14" text-anchor="middle" font-weight="normal" >200000</text>
<text x="40.0" y="347.1" font-size="14" text-anchor="end" font-weight="normal" >1.4</text>
<text x="40.0" y="302.4" font-size="14" text-anchor="end" font-weight="normal" >1.5</text>
<text x="40.0" y="257.7" font-size="14" text-anchor="end" font-weight="normal" >1.6</text>
<text x="40.0" y="213.0" font-size="14" text-anchor="end" font-weight="normal" >1.7</text>
<text x="178.5" y="378.5" font-size="13.8" text-anchor="middle" font-weight="normal" >Time (ps)</text>
<text x="14.3" y="274.6" font-size="13.9" text-anchor="middle" font-weight="normal" transform="rotate(-90 14.3 274.6)">Rg (nm)</text>
<text x="0.0" y="0.0" font-size="13" text-anchor="start" font-weight="bold" transform="translate(6.6 203.8) scale(1 1.13)">C</text>
<polygon fill="#000" points="387.0,279.7 387.6,280.3 388.2,279.8 388.8,281.7 389.4,281.6 390.0,282.3 390.6,281.1 391.2,281.9 391.8,281.9 392.4,280.5 393.0,278.5 393.6,278.6 394.2,278.6 394.8,277.9 395.4,276.0 396.0,275.4 396.6,274.8 397.2,274.2 397.8,273.6 398.4,273.0 399.0,272.1 399.6,272.5 400.2,273.4 400.8,272.9 401.4,274.2 402.0,274.9 402.6,275.4 403.2,276.8 403.8,276.8 404.4,276.7 405.0,277.2 405.6,276.4 406.2,277.0 406.8,278.2 407.4,279.2 408.0,279.4 408.6,279.0 409.2,278.9 409.8,278.4 410.4,279.0 411.0,277.3 411.6,277.2 412.2,276.8 412.8,276.7 413.4,278.6 414.0,278.6 414.6,277.7 415.2,278.8 415.8,277.5 416.4,277.5 417.0,278.1 417.6,278.4 418.2,279.9 418.8,279.5 419.4,280.4 420.0,281.5 420.6,281.7 421.2,281.7 421.8,280.8 422.4,281.2 423.0,281.7 423.6,281.8 424.2,280.8 424.8,281.8 425.4,279.7 426.0,280.9 426.6,281.3 427.2,280.6 427.8,280.7 428.4,280.3 429.0,280.4 429.6,280.5 430.2,280.1 430.8,279.3 431.4,280.2 432.0,279.7 432.6,280.4 433.2,279.9 433.8,279.1 434.4,279.4 435.0,280.0 435.6,279.5 436.2,278.4 436.8,279.2 437.4,277.7 438.0,279.0 438.6,279.0 439.2,278.5 439.8,279.5 440.4,278.8 441.0,278.8 441.6,279.5 442.2,278.1 442.8,278.7 443.4,277.0 444.0,277.1 444.6,276.5 445.2,277.4 445.8,276.9 446.4,277.6 447.0,276.6 447.6,276.0 448.2,274.8 448.8,273.3 449.4,275.3 450.0,277.4 450.6,276.1 451.2,278.2 451.8,278.5 452.4,279.0 453.0,278.5 453.6,278.5 454.2,278.3 454.8,279.7 455.4,277.8 456.0,277.5 456.6,278.6 457.2,276.8 457.8,278.3 458.4,277.4 459.0,277.0 459.6,276.8 460.2,278.3 460.8,277.2 461.4,276.7 462.0,278.2 462.6,277.3 463.2,278.0 463.8,278.1 464.4,278.4 465.0,278.2 465.6,277.6 466.2,277.3 466.8,278.0 467.4,277.2 468.0,277.6 468.6,278.6 469.2,277.6 469.8,278.0 470.4,277.0 471.0,277.0 471.6,276.9 472.2,278.3 472.8,277.6 473.4,277.3 474.0,277.8 474.6,278.2 475.2,277.6 475.8,277.3 476.4,276.0 477.0,275.7 477.6,274.1 478.2,273.8 478.8,272.2 479.4,271.6 480.0,268.8 480.6,268.6 481.2,269.8 481.8,270.4 482.4,269.9 483.0,271.3 483.6,269.7 484.2,268.8 484.8,270.4 485.4,269.9 486.0,269.3 486.6,269.9 487.2,268.5 487.8,269.5 488.4,268.0 489.0,268.6 489.6,266.9 490.2,268.4 490.8,268.1 491.4,269.4 492.0,269.0 492.6,269.0 493.2,267.6 493.8,268.5 494.4,265.8 495.0,267.6 495.6,265.3 496.2,265.8 496.8,266.6 497.4,263.9 498.0,263.8 498.6,264.1 499.2,262.5 499.8,264.6 500.4,262.9 501.0,263.0 501.6,263.0 502.2,262.5 502.8,263.7 503.4,262.1 504.0,265.4 504.6,265.1 505.2,264.2 505.8,265.9 506.4,263.8 507.0,265.9 507.6,265.1 508.2,264.9 508.8,266.7 509.4,268.0 510.0,268.2 510.6,268.8 511.2,269.6 511.8,271.8 512.4,270.0 513.0,270.7 513.6,270.8 514.2,273.7 514.8,271.6 515.4,273.8 516.0,271.6 516.6,271.3 517.2,270.9 517.8,271.5 518.4,270.4 519.0,271.0 519.6,271.0 520.2,270.9 520.8,272.1 521.4,270.9 522.0,271.7 522.6,273.2 523.2,272.7 523.8,272.2 524.4,273.5 525.0,272.4 525.6,271.6 526.2,271.2 526.8,271.2 527.4,271.5 528.0,272.4 528.6,270.3 529.2,270.2 529.8,271.9 530.4,271.0 531.0,271.8 531.6,270.7 532.2,270.6 532.8,269.0 533.4,268.7 534.0,268.1 534.6,270.6 535.2,269.8 535.8,268.3 536.4,269.1 537.0,270.9 537.6,270.5 538.2,270.1 538.8,268.3 539.4,268.6 540.0,268.5 540.6,268.8 541.2,267.7 541.8,266.8 542.4,269.0 543.0,267.6 543.6,267.5 544.2,267.2 544.8,266.7 545.4,266.0 546.0,266.7 546.6,266.8 547.2,265.5 547.8,266.9 548.4,266.7 549.0,267.5 549.6,266.2 550.2,266.1 550.8,267.3 551.4,265.4 552.0,266.4 552.6,266.4 553.2,267.3 553.8,266.4 554.4,267.1 555.0,267.6 555.6,269.5 556.2,268.7 556.8,267.0 557.4,267.1 558.0,267.3 558.6,269.2 559.2,269.0 559.8,269.5 560.4,269.4 561.0,270.8 561.6,269.8 562.2,271.2 562.8,270.6 563.4,270.1 564.0,271.2 564.6,272.5 565.2,273.1 565.8,272.8 566.4,274.3 567.0,275.9 567.6,275.9 568.2,276.3 568.8,276.4 569.4,277.2 570.0,276.3 570.6,277.0 571.2,276.7 571.8,277.2 572.4,277.5 573.0,277.9 573.6,277.8 574.2,277.2 574.8,276.1 575.4,276.5 576.0,275.4 576.6,274.5 577.2,274.4 577.8,273.0 578.4,273.8 579.0,273.3 579.6,273.9 580.2,274.4 580.8,274.6 581.4,276.0 582.0,276.1 582.6,276.5 583.2,276.5 583.8,277.5 584.4,277.9 585.0,277.2 585.6,277.7 586.2,277.8 586.8,277.8 587.4,277.6 588.0,277.5 588.6,275.9 589.2,275.2 589.8,273.7 590.4,273.3 591.0,271.6 591.6,272.4 592.2,269.6 592.8,269.1 593.4,272.1 594.0,273.6 594.6,274.0 595.2,275.8 595.8,276.3 596.4,275.6 597.0,277.1 597.6,277.4 598.2,277.0 598.8,277.2 599.4,276.1 600.0,276.1 600.6,276.4 601.2,277.8 601.8,276.3 602.4,277.2 603.0,276.3 603.6,277.4 604.2,277.8 604.8,278.5 605.4,279.7 606.0,278.9 606.6,277.9 607.2,277.3 607.8,275.5 608.4,276.1 609.0,275.5 609.6,276.1 610.2,277.2 610.8,277.5 611.4,276.0 612.0,276.9 612.6,278.4 613.2,276.8 613.8,276.9 614.4,276.1 615.0,276.4 615.6,274.8 616.2,274.9 616.8,274.6 617.4,276.5 618.0,278.2 618.6,278.4 619.2,282.3 619.8,282.1 620.4,281.7 621.0,282.2 621.6,280.5 622.2,281.6 622.8,280.5 623.4,281.8 624.0,281.6 624.6,281.3 625.2,279.3 625.8,279.1 626.4,277.8 627.0,278.2 627.6,278.0 628.2,276.4 628.8,276.1 629.4,278.0 630.0,276.1 630.6,276.9 631.2,276.3 631.8,276.0 632.4,276.5 633.0,276.2 633.6,277.2 634.2,276.1 634.8,276.5 635.4,277.0 636.0,278.3 636.6,278.8 637.2,279.4 637.8,278.9 638.4,279.3 639.0,278.3 639.6,279.3 640.2,278.6 640.8,279.2 641.4,280.4 642.0,280.5 642.6,279.5 643.2,281.1 643.8,280.7 644.4,279.3 645.0,280.4 645.6,279.9 646.2,280.2 646.8,280.2 647.4,279.5 648.0,281.0 648.6,280.8 649.2,281.6 649.8,281.3 650.4,283.3 651.0,282.9 651.6,281.7 652.2,283.4 652.8,282.1 653.4,282.8 654.0,281.8 654.6,281.6 655.2,281.6 655.8,281.9 656.4,281.8 657.0,281.4 657.0,291.5 656.4,290.7 655.8,291.3 655.2,290.3 654.6,290.4 654.0,292.1 653.4,291.3 652.8,291.3 652.2,291.7 651.6,290.5 651.0,291.0 650.4,291.0 649.8,289.0 649.2,290.0 648.6,290.2 648.0,289.4 647.4,289.0 646.8,288.9 646.2,288.3 645.6,288.1 645.0,288.3 644.4,288.2 643.8,288.9 643.2,290.1 642.6,290.5 642.0,292.0 641.4,291.2 640.8,288.5 640.2,290.1 639.6,290.0 639.0,289.2 638.4,288.1 637.8,288.1 637.2,288.6 636.6,287.7 636.0,287.9 635.4,285.8 634.8,285.8 634.2,285.3 633.6,286.7 633.0,285.8 632.4,287.2 631.8,286.1 631.2,286.1 630.6,285.1 630.0,285.6 629.4,286.4 628.8,285.3 628.2,286.8 627.6,286.2 627.0,286.3 626.4,287.3 625.8,287.8 625.2,290.4 624.6,291.0 624.0,293.0 623.4,292.4 622.8,293.5 622.2,293.5 621.6,295.0 621.0,295.0 620.4,295.4 619.8,296.7 619.2,294.5 618.6,291.8 618.0,290.2 617.4,288.6 616.8,286.0 616.2,286.9 615.6,285.4 615.0,286.8 614.4,287.3 613.8,287.9 613.2,287.7 612.6,287.6 612.0,286.6 611.4,287.7 610.8,286.7 610.2,285.2 609.6,286.6 609.0,284.5 608.4,284.7 607.8,284.7 607.2,286.1 606.6,288.5 606.0,289.2 605.4,288.5 604.8,289.7 604.2,288.5 603.6,288.1 603.0,288.2 602.4,287.2 601.8,285.9 601.2,287.9 600.6,285.6 600.0,286.0 599.4,285.2 598.8,285.3 598.2,287.4 597.6,286.2 597.0,286.0 596.4,286.5 595.8,285.7 595.2,285.4 594.6,285.6 594.0,284.3 593.4,284.9 592.8,282.1 592.2,284.8 591.6,285.9 591.0,286.0 590.4,286.0 589.8,285.2 589.2,285.4 588.6,286.6 588.0,286.7 587.4,287.6 586.8,288.1 586.2,287.9 585.6,288.6 585.0,287.6 584.4,288.0 583.8,287.4 583.2,287.0 582.6,286.8 582.0,286.9 581.4,287.0 580.8,285.1 580.2,285.6 579.6,283.6 579.0,282.7 578.4,282.1 577.8,284.0 577.2,283.7 576.6,285.2 576.0,284.6 575.4,285.9 574.8,285.9 574.2,286.2 573.6,286.1 573.0,285.6 572.4,285.5 571.8,284.8 571.2,284.2 570.6,284.2 570.0,284.0 569.4,285.4 568.8,283.2 568.2,283.0 567.6,282.5 567.0,282.2 566.4,282.1 565.8,281.8 565.2,281.5 564.6,281.5 564.0,282.5 563.4,279.7 562.8,280.5 562.2,280.9 561.6,281.1 561.0,280.0 560.4,279.5 559.8,279.4 559.2,278.9 558.6,278.0 558.0,278.8 557.4,278.1 556.8,276.4 556.2,278.0 555.6,278.5 555.0,278.2 554.4,277.9 553.8,277.5 553.2,277.1 552.6,276.2 552.0,277.3 551.4,277.1 550.8,276.5 550.2,276.4 549.6,275.6 549.0,276.4 548.4,276.5 547.8,275.9 547.2,274.9 546.6,276.0 546.0,274.8 545.4,274.0 544.8,275.2 544.2,275.4 543.6,275.9 543.0,275.7 542.4,276.8 541.8,276.9 541.2,278.8 540.6,278.0 540.0,279.4 539.4,278.0 538.8,279.4 538.2,279.3 537.6,280.2 537.0,280.1 536.4,280.3 535.8,280.6 535.2,281.2 534.6,280.5 534.0,278.9 533.4,279.9 532.8,280.4 532.2,279.3 531.6,280.6 531.0,281.8 530.4,281.8 529.8,280.9 529.2,280.7 528.6,281.3 528.0,282.0 527.4,282.4 526.8,281.6 526.2,281.1 525.6,282.8 525.0,283.2 524.4,283.5 523.8,283.1 523.2,282.3 522.6,284.0 522.0,281.3 521.4,281.9 520.8,282.7 520.2,282.9 519.6,283.9 519.0,283.5 518.4,283.6 517.8,283.1 517.2,283.2 516.6,284.3 516.0,284.3 515.4,285.2 514.8,284.6 514.2,287.1 513.6,286.4 513.0,285.4 512.4,283.9 511.8,285.3 511.2,283.3 510.6,281.1 510.0,281.9 509.4,280.7 508.8,280.5 508.2,279.8 507.6,278.9 507.0,277.4 506.4,277.7 505.8,276.7 505.2,276.8 504.6,276.3 504.0,276.1 503.4,276.5 502.8,276.7 502.2,275.2 501.6,277.1 501.0,277.3 500.4,276.8 499.8,276.5 499.2,277.4 498.6,277.7 498.0,277.7 497.4,276.6 496.8,279.3 496.2,278.7 495.6,280.0 495.0,280.6 494.4,280.9 493.8,281.7 493.2,281.8 492.6,282.0 492.0,283.2 491.4,282.1 490.8,282.2 490.2,282.5 489.6,281.2 489.0,281.9 488.4,282.8 487.8,281.3 487.2,281.6 486.6,280.5 486.0,281.6 485.4,281.8 484.8,282.1 484.2,281.8 483.6,280.7 483.0,282.1 482.4,281.0 481.8,280.6 481.2,281.5 480.6,281.7 480.0,279.7 479.4,282.6 478.8,282.5 478.2,284.9 477.6,286.0 477.0,286.1 476.4,287.4 475.8,287.7 475.2,288.6 474.6,288.9 474.0,287.3 473.4,287.8 472.8,287.2 472.2,288.6 471.6,288.3 471.0,287.3 470.4,287.2 469.8,288.1 469.2,288.4 468.6,288.2 468.0,286.6 467.4,287.8 466.8,288.1 466.2,288.4 465.6,288.0 465.0,289.1 464.4,288.2 463.8,288.1 463.2,287.5 462.6,288.2 462.0,287.1 461.4,288.0 460.8,286.3 460.2,288.6 459.6,288.5 459.0,287.3 458.4,286.7 457.8,288.4 457.2,288.2 456.6,288.8 456.0,287.7 455.4,288.3 454.8,289.3 454.2,289.1 453.6,289.3 453.0,288.7 452.4,288.3 451.8,289.8 451.2,288.9 450.6,287.4 450.0,287.5 449.4,287.9 448.8,286.2 448.2,286.0 447.6,287.1 447.0,286.3 446.4,288.2 445.8,287.5 445.2,288.6 444.6,286.5 444.0,286.9 443.4,286.5 442.8,287.1 442.2,286.9 441.6,288.5 441.0,287.8 440.4,287.9 439.8,290.0 439.2,289.2 438.6,287.9 438.0,287.8 437.4,287.5 436.8,287.5 436.2,287.6 435.6,288.0 435.0,288.1 434.4,289.7 433.8,288.2 433.2,287.6 432.6,288.7 432.0,290.5 431.4,289.7 430.8,289.1 430.2,289.6 429.6,289.5 429.0,289.1 428.4,290.4 427.8,289.8 427.2,290.7 426.6,290.1 426.0,289.6 425.4,290.4 424.8,291.3 424.2,290.5 423.6,290.9 423.0,290.2 422.4,290.3 421.8,290.7 421.2,289.4 420.6,291.1 420.0,290.0 419.4,289.7 418.8,288.7 418.2,289.0 417.6,288.2 417.0,286.7 416.4,287.7 415.8,288.2 415.2,288.8 414.6,288.9 414.0,288.6 413.4,288.2 412.8,287.1 412.2,289.1 411.6,289.5 411.0,288.1 410.4,288.1 409.8,287.2 409.2,287.5 408.6,287.9 408.0,287.9 407.4,286.5 406.8,286.5 406.2,287.0 405.6,285.5 405.0,285.0 404.4,285.6 403.8,285.1 403.2,285.9 402.6,285.4 402.0,284.2 401.4,282.8 400.8,282.1 400.2,281.6 399.6,280.2 399.0,281.7 398.4,281.9 397.8,283.0 397.2,283.7 396.6,284.2 396.0,287.1 395.4,287.5 394.8,286.9 394.2,287.6 393.6,288.6 393.0,289.7 392.4,290.6 391.8,290.2 391.2,290.7 390.6,291.1 390.0,292.4 389.4,292.7 388.8,291.2 388.2,291.2 387.6,290.5 387.0,291.6"/><polyline fill="none" stroke="#000" stroke-width="0.6" stroke-linejoin="round" points="387.0,279.2 387.1,282.9 387.2,282.1 387.4,291.7 387.5,284.0 387.6,290.6 387.7,284.0 387.8,285.7 388.0,290.1 388.1,283.6 388.2,280.9 388.3,280.5 388.4,289.0 388.6,288.9 388.7,287.5 388.8,294.4 388.9,287.5 389.0,288.4 389.2,288.7 389.3,287.0 389.4,296.0 389.5,289.2 389.6,285.0 389.8,277.4 389.9,287.0 390.0,292.4 390.1,287.1 390.2,290.0 390.4,274.9 390.5,286.5 390.6,288.8 390.7,288.0 390.8,288.3 391.0,292.5 391.1,278.7 391.2,285.9 391.3,286.4 391.4,288.1 391.6,287.2 391.7,290.5 391.8,285.7 391.9,293.3 392.0,293.5 392.2,280.7 392.3,292.5 392.4,287.6 392.5,277.2 392.6,281.5 392.8,285.8 392.9,279.5 393.0,275.4 393.1,274.2 393.2,275.8 393.4,274.8 393.5,274.9 393.6,289.2 393.7,278.3 393.8,278.7 394.0,287.0 394.1,275.0 394.2,280.6 394.3,288.4 394.4,285.2 394.6,280.8 394.7,282.0 394.8,284.4 394.9,281.3 395.0,289.2 395.2,278.9 395.3,275.3 395.4,276.7 395.5,292.9 395.6,289.3 395.8,290.3 395.9,291.5 396.0,293.1 396.1,283.9 396.2,281.7 396.4,280.2 396.5,280.9 396.6,282.2 396.7,279.6 396.8,274.2 397.0,291.6 397.1,279.6 397.2,272.8 397.3,275.1 397.4,276.8 397.6,271.3 397.7,282.4 397.8,273.9 397.9,273.9 398.0,277.5 398.2,286.7 398.3,288.6 398.4,273.9 398.5,274.6 398.6,274.3 398.8,281.8 398.9,279.9 399.0,270.2 399.1,273.8 399.2,273.5 399.4,270.0 399.5,286.4 399.6,276.2 399.7,282.0 399.8,280.9 400.0,276.7 400.1,283.5 400.2,277.9 400.3,273.6 400.4,272.4 400.6,275.3 400.7,276.0 400.8,285.8 400.9,285.9 401.0,286.7 401.2,276.3 401.3,276.7 401.4,279.4 401.5,287.0 401.6,279.9 401.8,282.8 401.9,277.1 402.0,286.1 402.1,276.9 402.2,275.1 402.4,278.9 402.5,283.2 402.6,281.3 402.7,285.0 402.8,284.2 403.0,289.5 403.1,289.0 403.2,286.3 403.3,289.1 403.4,278.0 403.6,287.8 403.7,272.6 403.8,279.4 403.9,279.8 404.0,281.6 404.2,276.2 404.3,272.6 404.4,284.9 404.5,282.4 404.6,281.0 404.8,282.5 404.9,282.7 405.0,283.2 405.1,286.2 405.2,288.3 405.4,282.6 405.5,286.3 405.6,279.1 405.7,281.9 405.8,279.5 406.0,274.1 406.1,280.7 406.2,286.8 406.3,287.8 406.4,285.7 406.6,280.7 406.7,279.4 406.8,289.4 406.9,277.8 407.0,276.0 407.2,283.1 407.3,280.6 407.4,290.9 407.5,289.3 407.6,287.2 407.8,284.5 407.9,287.5 408.0,281.8 408.1,284.2 408.2,275.8 408.4,280.8 408.5,286.9 408.6,287.9 408.7,288.0 408.8,281.0 409.0,288.8 409.1,292.5 409.2,282.3 409.3,287.0 409.4,293.4 409.6,289.2 409.7,276.9 409.8,282.8 409.9,285.7 410.0,281.8 410.2,290.6 410.3,278.3 410.4,282.2 410.5,284.4 410.6,288.3 410.8,292.8 410.9,282.2 411.0,279.9 411.1,280.0 411.2,285.5 411.4,275.7 411.5,278.3 411.6,286.8 411.7,275.3 411.8,277.7 412.0,278.8 412.1,278.2 412.2,284.7 412.3,277.4 412.4,275.8 412.6,292.3 412.7,289.2 412.8,282.2 412.9,286.0 413.0,277.5 413.2,284.6 413.3,288.2 413.4,284.2 413.5,279.3 413.6,277.4 413.8,278.8 413.9,273.8 414.0,274.7 414.1,273.8 414.2,284.3 414.4,292.6 414.5,276.5 414.6,274.8 414.7,277.5 414.8,284.3 415.0,286.0 415.1,287.5 415.2,286.9 415.3,284.4 415.4,288.1 415.6,287.6 415.7,290.9 415.8,288.7 415.9,282.1 416.0,275.2 416.2,282.9 416.3,286.4 416.4,285.3 416.5,286.3 416.6,284.3 416.8,283.8 416.9,289.9 417.0,292.9 417.1,293.1 417.2,288.1 417.4,278.4 417.5,277.3 417.6,281.3 417.7,274.5 417.8,279.8 418.0,289.6 418.1,282.4 418.2,285.9 418.3,287.1 418.4,287.6 418.6,282.1 418.7,274.7 418.8,284.1 418.9,291.2 419.0,280.9 419.2,289.1 419.3,283.4 419.4,280.2 419.5,282.7 419.6,290.4 419.8,290.7 419.9,288.0 420.0,285.9 420.1,287.0 420.2,286.8 420.4,276.4 420.5,280.1 420.6,279.0 420.7,286.8 420.8,284.9 421.0,291.0 421.1,290.8 421.2,285.8 421.3,288.2 421.4,290.3 421.6,282.5 421.7,280.4 421.8,288.3 421.9,290.7 422.0,276.8 422.2,286.8 422.3,284.9 422.4,291.1 422.5,287.7 422.6,282.7 422.8,287.3 422.9,284.0 423.0,282.8 423.1,285.5 423.2,280.1 423.4,289.6 423.5,289.7 423.6,290.3 423.7,292.0 423.8,290.6 424.0,291.1 424.1,284.9 424.2,280.6 424.3,287.5 424.4,283.7 424.6,275.3 424.7,276.1 424.8,277.0 424.9,287.7 425.0,291.4 425.2,288.6 425.3,293.7 425.4,290.4 425.5,286.5 425.6,286.8 425.8,288.2 425.9,280.7 426.0,292.0 426.1,286.8 426.2,292.2 426.4,289.6 426.5,284.2 426.6,282.9 426.7,289.9 426.8,291.1 427.0,287.5 427.1,291.8 427.2,286.0 427.3,295.1 427.4,291.4 427.6,277.6 427.7,281.4 427.8,291.6 427.9,281.8 428.0,279.6 428.2,281.5 428.3,282.3 428.4,293.6 428.5,287.2 428.6,293.4 428.8,292.1 428.9,292.9 429.0,280.1 429.1,283.5 429.2,283.0 429.4,284.5 429.5,282.2 429.6,278.4 429.7,283.7 429.8,280.1 430.0,285.3 430.1,290.1 430.2,291.3 430.3,289.2 430.4,282.6 430.6,287.5 430.7,284.9 430.8,277.8 430.9,275.8 431.0,275.0 431.2,281.6 431.3,287.0 431.4,285.7 431.5,293.9 431.6,285.4 431.8,288.1 431.9,288.1 432.0,279.7 432.1,278.5 432.2,276.3 432.4,282.3 432.5,291.8 432.6,292.4 432.7,283.6 432.8,285.5 433.0,286.9 433.1,280.2 433.2,294.5 433.3,289.9 433.4,287.2 433.6,281.3 433.7,288.7 433.8,280.6 433.9,282.5 434.0,282.2 434.2,286.3 434.3,280.1 434.4,290.0 434.5,284.1 434.6,286.0 434.8,292.8 434.9,281.1 435.0,286.4 435.1,294.8 435.2,290.5 435.4,286.6 435.5,291.5 435.6,285.7 435.7,278.9 435.8,281.4 436.0,285.2 436.1,289.5 436.2,288.5 436.3,282.5 436.4,280.2 436.6,275.0 436.7,283.3 436.8,282.0 436.9,277.8 437.0,277.0 437.2,286.8 437.3,282.4 437.4,290.0 437.5,274.8 437.6,275.6 437.8,283.1 437.9,279.9 438.0,279.1 438.1,284.9 438.2,290.5 438.4,285.4 438.5,288.8 438.6,294.4 438.7,289.3 438.8,284.6 439.0,284.8 439.1,293.7 439.2,292.5 439.3,281.2 439.4,288.4 439.6,286.7 439.7,285.1 439.8,277.0 439.9,279.7 440.0,284.5 440.2,285.5 440.3,289.4 440.4,286.3 440.5,287.4 440.6,275.4 440.8,282.1 440.9,283.8 441.0,287.5 441.1,280.8 441.2,288.0 441.4,278.6 441.5,274.6 441.6,287.0 441.7,289.2 441.8,281.0 442.0,277.7 442.1,287.5 442.2,281.8 442.3,292.0 442.4,286.8 442.6,287.1 442.7,283.0 442.8,274.4 442.9,275.2 443.0,281.1 443.2,275.7 443.3,277.6 443.4,279.5 443.5,276.7 443.6,275.5 443.8,273.9 443.9,286.5 444.0,289.6 444.1,275.0 444.2,277.4 444.4,280.5 444.5,281.1 444.6,276.2 444.7,280.5 444.8,278.9 445.0,284.1 445.1,279.7 445.2,275.1 445.3,271.7 445.4,277.0 445.6,286.1 445.7,284.3 445.8,279.5 445.9,275.3 446.0,279.7 446.2,281.6 446.3,286.8 446.4,281.1 446.5,282.5 446.6,286.1 446.8,287.8 446.9,279.9 447.0,280.6 447.1,293.2 447.2,273.1 447.4,286.8 447.5,281.1 447.6,278.0 447.7,282.4 447.8,282.3 448.0,291.1 448.1,293.8 448.2,286.9 448.3,286.0 448.4,282.2 448.6,285.5 448.7,282.0 448.8,281.5 448.9,292.7 449.0,273.6 449.2,270.0 449.3,276.3 449.4,285.4 449.5,277.3 449.6,291.4 449.8,289.2 449.9,282.6 450.0,271.5 450.1,270.6 450.2,278.7 450.4,285.9 450.5,287.3 450.6,281.1 450.7,278.6 450.8,272.9 451.0,280.5 451.1,288.8 451.2,288.3 451.3,292.9 451.4,293.8 451.6,292.6 451.7,279.3 451.8,290.8 451.9,288.3 452.0,273.4 452.2,274.7 452.3,288.8 452.4,286.3 452.5,286.5 452.6,288.5 452.8,280.9 452.9,290.6 453.0,294.2 453.1,284.3 453.2,276.3 453.4,293.9 453.5,289.4 453.6,290.3 453.7,284.3 453.8,283.9 454.0,285.2 454.1,282.9 454.2,281.5 454.3,285.5 454.4,287.1 454.6,275.7 454.7,291.3 454.8,275.0 454.9,275.5 455.0,290.7 455.2,283.0 455.3,280.7 455.4,278.2 455.5,290.8 455.6,286.9 455.8,276.7 455.9,276.9 456.0,274.7 456.1,277.3 456.2,291.3 456.4,283.9 456.5,273.8 456.6,280.5 456.7,285.7 456.8,283.5 457.0,289.0 457.1,293.8 457.2,282.8 457.3,290.9 457.4,283.9 457.6,280.8 457.7,286.0 457.8,287.8 457.9,282.1 458.0,277.0 458.2,282.5 458.3,282.0 458.4,275.9 458.5,274.3 458.6,284.9 458.8,284.1 458.9,282.5 459.0,277.1 459.1,276.6 459.2,279.2 459.4,294.1 459.5,288.3 459.6,283.9 459.7,292.1 459.8,293.0 460.0,276.5 460.1,286.5 460.2,284.6 460.3,293.1 460.4,285.1 460.6,285.6 460.7,282.1 460.8,291.0 460.9,290.9 461.0,284.8 461.2,275.6 461.3,274.9 461.4,275.2 461.5,277.2 461.6,281.3 461.8,281.7 461.9,285.4 462.0,281.1 462.1,293.0 462.2,294.0 462.4,278.7 462.5,273.3 462.6,282.6 462.7,274.1 462.8,288.8 463.0,289.6 463.1,286.9 463.2,280.9 463.3,283.9 463.4,275.6 463.6,285.7 463.7,290.4 463.8,291.1 463.9,292.5 464.0,291.9 464.2,277.5 464.3,279.1 464.4,286.5 464.5,290.5 464.6,289.1 464.8,285.8 464.9,286.8 465.0,283.8 465.1,276.5 465.2,285.7 465.4,286.1 465.5,278.3 465.6,273.3 465.7,273.6 465.8,279.7 466.0,272.9 466.1,284.4 466.2,284.4 466.3,286.3 466.4,284.9 466.6,279.9 466.7,274.9 466.8,273.1 466.9,280.8 467.0,273.5 467.2,273.8 467.3,273.5 467.4,276.6 467.5,276.7 467.6,278.0 467.8,289.9 467.9,290.6 468.0,279.1 468.1,284.1 468.2,283.1 468.4,274.2 468.5,289.7 468.6,292.5 468.7,293.5 468.8,283.0 469.0,291.7 469.1,276.8 469.2,274.3 469.3,281.5 469.4,289.1 469.6,284.4 469.7,277.0 469.8,279.9 469.9,277.2 470.0,275.7 470.2,277.1 470.3,283.9 470.4,278.4 470.5,290.1 470.6,279.5 470.8,285.9 470.9,293.0 471.0,280.9 471.1,292.4 471.2,273.6 471.4,274.7 471.5,285.1 471.6,283.3 471.7,283.2 471.8,278.2 472.0,275.9 472.1,277.0 472.2,285.2 472.3,276.3 472.4,289.5 472.6,293.2 472.7,276.8 472.8,275.5 472.9,281.9 473.0,275.8 473.2,275.2 473.3,289.5 473.4,292.1 473.5,292.8 473.6,285.3 473.8,279.1 473.9,278.7 474.0,289.7 474.1,287.7 474.2,285.0 474.4,288.1 474.5,289.0 474.6,290.0 474.7,281.1 474.8,279.3 475.0,292.4 475.1,274.6 475.2,287.2 475.3,283.0 475.4,273.6 475.6,273.9 475.7,287.5 475.8,292.5 475.9,278.9 476.0,278.4 476.2,285.5 476.3,279.1 476.4,280.3 476.5,272.3 476.6,274.8 476.8,291.5 476.9,287.2 477.0,287.8 477.1,279.1 477.2,278.8 477.4,273.4 477.5,279.3 477.6,281.2 477.7,288.8 477.8,291.6 478.0,283.8 478.1,282.3 478.2,278.6 478.3,277.3 478.4,278.9 478.6,283.0 478.7,270.7 478.8,282.4 478.9,284.7 479.0,270.8 479.2,277.7 479.3,269.8 479.4,269.2 479.5,268.4 479.6,271.8 479.8,268.7 479.9,274.2 480.0,270.1 480.1,280.0 480.2,277.3 480.4,278.2 480.5,278.6 480.6,284.5 480.7,276.6 480.8,267.6 481.0,274.1 481.1,270.1 481.2,283.0 481.3,280.4 481.4,274.4 481.6,270.6 481.7,278.2 481.8,271.7 481.9,282.7 482.0,284.6 482.2,281.2 482.3,285.8 482.4,280.1 482.5,277.4 482.6,269.6 482.8,285.7 482.9,272.6 483.0,285.3 483.1,281.1 483.2,274.9 483.4,272.3 483.5,288.1 483.6,284.6 483.7,286.1 483.8,285.4 484.0,266.5 484.1,281.7 484.2,266.5 484.3,267.7 484.4,285.9 484.6,288.8 484.7,288.5 484.8,271.5 484.9,284.7 485.0,285.2 485.2,269.9 485.3,267.2 485.4,279.0 485.5,275.3 485.6,264.6 485.8,269.8 485.9,264.7 486.0,263.3 486.1,268.1 486.2,272.0 486.4,285.3 486.5,289.3 486.6,281.9 486.7,275.1 486.8,277.3 487.0,286.6 487.1,282.1 487.2,281.9 487.3,275.4 487.4,280.7 487.6,272.7 487.7,265.6 487.8,274.6 487.9,280.5 488.0,288.6 488.2,275.2 488.3,282.1 488.4,280.9 488.5,280.2 488.6,280.3 488.8,268.9 488.9,260.6 489.0,261.0 489.1,266.3 489.2,271.5 489.4,274.0 489.5,280.7 489.6,276.5 489.7,273.4 489.8,260.7 490.0,260.9 490.1,259.8 490.2,280.8 490.3,278.2 490.4,264.9 490.6,273.5 490.7,285.9 490.8,271.8 490.9,264.9 491.0,286.8 491.2,286.3 491.3,274.5 491.4,283.2 491.5,278.5 491.6,281.6 491.8,269.1 491.9,262.1 492.0,269.9 492.1,278.7 492.2,284.4 492.4,281.4 492.5,282.3 492.6,272.9 492.7,272.3 492.8,272.1 493.0,278.8 493.1,285.4 493.2,261.2 493.3,261.7 493.4,270.7 493.6,273.2 493.7,271.1 493.8,274.6 493.9,260.5 494.0,279.2 494.2,271.3 494.3,268.3 494.4,280.3 494.5,273.3 494.6,272.7 494.8,258.2 494.9,260.7 495.0,275.8 495.1,269.0 495.2,262.2 495.4,267.1 495.5,283.2 495.6,266.0 495.7,261.6 495.8,265.8 496.0,263.9 496.1,263.8 496.2,257.9 496.3,262.4 496.4,281.6 496.6,280.8 496.7,273.3 496.8,265.8 496.9,274.4 497.0,259.3 497.2,260.7 497.3,277.4 497.4,259.8 497.5,261.6 497.6,275.6 497.8,281.1 497.9,259.9 498.0,271.4 498.1,279.5 498.2,277.5 498.4,273.9 498.5,280.1 498.6,273.1 498.7,256.5 498.8,264.9 499.0,264.7 499.1,264.3 499.2,264.4 499.3,274.0 499.4,255.6 499.6,258.7 499.7,270.0 499.8,273.4 499.9,276.9 500.0,277.1 500.2,269.0 500.3,261.3 500.4,277.0 500.5,272.9 500.6,257.5 500.8,281.4 500.9,272.2 501.0,271.4 501.1,277.4 501.2,278.2 501.4,265.0 501.5,263.8 501.6,280.9 501.7,278.2 501.8,255.6 502.0,274.4 502.1,281.0 502.2,270.7 502.3,269.4 502.4,274.1 502.6,260.8 502.7,263.3 502.8,280.5 502.9,273.6 503.0,272.8 503.2,276.1 503.3,260.2 503.4,260.8 503.5,264.6 503.6,276.4 503.8,280.7 503.9,277.2 504.0,262.4 504.1,271.8 504.2,274.1 504.4,282.9 504.5,266.3 504.6,260.6 504.7,278.0 504.8,275.8 505.0,261.7 505.1,283.1 505.2,268.3 505.3,264.9 505.4,270.2 505.6,260.3 505.7,268.4 505.8,275.1 505.9,278.3 506.0,273.5 506.2,264.3 506.3,276.2 506.4,266.9 506.5,273.6 506.6,276.9 506.8,275.5 506.9,277.8 507.0,274.4 507.1,269.9 507.2,257.6 507.4,258.9 507.5,272.4 507.6,258.8 507.7,263.2 507.8,268.3 508.0,262.9 508.1,263.8 508.2,262.5 508.3,284.9 508.4,270.1 508.6,280.0 508.7,279.8 508.8,266.6 508.9,285.4 509.0,278.0 509.2,285.4 509.3,268.1 509.4,268.3 509.5,261.7 509.6,269.5 509.8,280.8 509.9,266.2 510.0,285.9 510.1,278.1 510.2,265.0 510.4,270.7 510.5,270.6 510.6,275.8 510.7,269.4 510.8,262.7 511.0,277.3 511.1,282.8 511.2,283.7 511.3,276.9 511.4,276.1 511.6,279.5 511.7,287.3 511.8,277.3 511.9,275.3 512.0,286.3 512.2,280.1 512.3,278.3 512.4,280.8 512.5,282.6 512.6,280.4 512.8,282.6 512.9,276.0 513.0,290.2 513.1,274.7 513.2,289.3 513.4,289.1 513.5,289.4 513.6,278.8 513.7,289.2 513.8,290.5 514.0,263.8 514.1,280.9 514.2,278.6 514.3,289.7 514.4,288.2 514.6,285.4 514.7,266.8 514.8,268.9 514.9,277.2 515.0,266.7 515.2,271.5 515.3,265.5 515.4,279.6 515.5,269.7 515.6,274.2 515.8,280.6 515.9,278.2 516.0,281.9 516.1,277.2 516.2,277.5 516.4,283.7 516.5,282.1 516.6,278.4 516.7,267.6 516.8,263.6 517.0,267.4 517.1,266.0 517.2,271.9 517.3,279.1 517.4,286.3 517.6,286.6 517.7,283.7 517.8,276.7 517.9,288.5 518.0,284.4 518.2,273.9 518.3,274.6 518.4,288.2 518.5,284.2 518.6,283.2 518.8,276.1 518.9,284.4 519.0,283.9 519.1,280.8 519.2,273.0 519.4,282.0 519.5,280.4 519.6,282.0 519.7,274.5 519.8,284.5 520.0,275.9 520.1,276.7 520.2,283.1 520.3,272.2 520.4,284.2 520.6,273.1 520.7,266.0 520.8,265.7 520.9,280.8 521.0,285.2 521.2,284.3 521.3,273.7 521.4,284.7 521.5,284.8 521.6,278.1 521.8,278.8 521.9,274.0 522.0,271.0 522.1,283.4 522.2,277.0 522.4,286.7 522.5,287.1 522.6,280.1 522.7,277.3 522.8,283.7 523.0,275.4 523.1,278.5 523.2,285.6 523.3,284.4 523.4,282.2 523.6,268.6 523.7,284.0 523.8,267.8 523.9,268.2 524.0,273.9 524.2,275.2 524.3,271.0 524.4,273.3 524.5,283.0 524.6,269.7 524.8,271.9 524.9,272.2 525.0,268.3 525.1,277.9 525.2,277.5 525.4,275.6 525.5,275.3 525.6,278.6 525.7,284.7 525.8,270.7 526.0,278.4 526.1,269.6 526.2,282.3 526.3,282.9 526.4,270.8 526.6,272.9 526.7,277.0 526.8,275.4 526.9,278.0 527.0,284.1 527.2,277.5 527.3,265.0 527.4,279.9 527.5,283.4 527.6,276.7 527.8,270.0 527.9,270.1 528.0,282.4 528.1,277.8 528.2,280.6 528.4,265.7 528.5,272.2 528.6,281.1 528.7,286.2 528.8,280.4 529.0,278.4 529.1,278.1 529.2,280.8 529.3,276.9 529.4,277.2 529.6,271.6 529.7,269.2 529.8,268.1 529.9,277.1 530.0,283.6 530.2,274.3 530.3,275.6 530.4,283.3 530.5,276.2 530.6,276.1 530.8,265.2 530.9,276.2 531.0,275.4 531.1,283.2 531.2,282.0 531.4,281.3 531.5,275.3 531.6,273.8 531.7,272.9 531.8,275.1 532.0,278.5 532.1,270.8 532.2,265.7 532.3,283.5 532.4,264.0 532.6,264.5 532.7,274.2 532.8,273.2 532.9,275.4 533.0,279.5 533.2,279.9 533.3,278.5 533.4,284.1 533.5,280.2 533.6,279.6 533.8,277.7 533.9,283.1 534.0,282.2 534.1,265.6 534.2,274.7 534.4,272.7 534.5,274.8 534.6,281.2 534.7,282.8 534.8,273.6 535.0,281.1 535.1,280.4 535.2,270.8 535.3,284.9 535.4,280.9 535.6,277.9 535.7,281.4 535.8,282.3 535.9,284.6 536.0,273.3 536.2,275.1 536.3,283.9 536.4,284.2 536.5,275.0 536.6,265.5 536.8,283.9 536.9,276.5 537.0,264.1 537.1,270.4 537.2,267.6 537.4,269.8 537.5,278.0 537.6,276.8 537.7,279.8 537.8,278.4 538.0,272.4 538.1,275.8 538.2,265.8 538.3,278.5 538.4,281.8 538.6,272.8 538.7,281.5 538.8,280.8 538.9,280.3 539.0,280.0 539.2,280.9 539.3,274.9 539.4,282.1 539.5,284.0 539.6,281.9 539.8,274.9 539.9,262.4 540.0,274.4 540.1,264.4 540.2,272.8 540.4,281.8 540.5,282.1 540.6,276.1 540.7,270.8 540.8,266.3 541.0,279.2 541.1,275.9 541.2,276.0 541.3,281.0 541.4,281.3 541.6,271.3 541.7,277.5 541.8,277.9 541.9,264.3 542.0,275.7 542.2,279.9 542.3,280.1 542.4,267.2 542.5,265.9 542.6,264.0 542.8,274.2 542.9,273.6 543.0,277.9 543.1,278.2 543.2,274.5 543.4,270.7 543.5,276.5 543.6,275.5 543.7,271.7 543.8,266.4 544.0,267.5 544.1,271.0 544.2,277.3 544.3,280.3 544.4,277.0 544.6,267.5 544.7,265.4 544.8,265.5 544.9,264.5 545.0,280.4 545.2,271.8 545.3,269.6 545.4,279.8 545.5,280.3 545.6,274.5 545.8,269.4 545.9,265.3 546.0,268.0 546.1,266.9 546.2,277.0 546.4,269.6 546.5,276.8 546.6,273.6 546.7,275.6 546.8,264.2 547.0,262.7 547.1,262.4 547.2,262.0 547.3,264.9 547.4,263.7 547.6,263.6 547.7,278.8 547.8,277.9 547.9,272.2 548.0,273.8 548.2,264.0 548.3,269.8 548.4,276.3 548.5,272.6 548.6,280.0 548.8,266.6 548.9,272.5 549.0,267.3 549.1,273.2 549.2,270.4 549.4,277.6 549.5,267.5 549.6,267.6 549.7,271.4 549.8,264.0 550.0,277.3 550.1,272.1 550.2,273.2 550.3,271.6 550.4,273.3 550.6,277.2 550.7,267.0 550.8,278.7 550.9,273.5 551.0,261.7 551.2,274.2 551.3,261.0 551.4,268.2 551.5,277.0 551.6,273.4 551.8,261.8 551.9,266.8 552.0,273.4 552.1,275.5 552.2,267.7 552.4,279.2 552.5,275.4 552.6,266.3 552.7,268.5 552.8,275.3 553.0,279.3 553.1,275.4 553.2,263.3 553.3,273.7 553.4,270.5 553.6,277.8 553.7,282.2 553.8,272.6 553.9,274.1 554.0,261.3 554.2,271.1 554.3,273.1 554.4,272.0 554.5,265.4 554.6,274.5 554.8,265.4 554.9,265.1 555.0,276.3 555.1,268.2 555.2,264.1 555.4,270.4 555.5,263.2 555.6,266.2 555.7,268.2 555.8,265.8 556.0,272.3 556.1,267.0 556.2,265.6 556.3,281.3 556.4,280.4 556.6,276.1 556.7,272.8 556.8,283.0 556.9,277.4 557.0,277.3 557.2,277.3 557.3,268.4 557.4,274.5 557.5,264.3 557.6,277.3 557.8,277.1 557.9,266.8 558.0,269.5 558.1,267.2 558.2,262.9 558.4,267.1 558.5,269.1 558.6,268.8 558.7,264.5 558.8,265.1 559.0,275.3 559.1,269.7 559.2,276.1 559.3,274.1 559.4,281.1 559.6,278.6 559.7,269.1 559.8,277.2 559.9,276.9 560.0,264.8 560.2,270.3 560.3,274.2 560.4,278.0 560.5,281.9 560.6,274.4 560.8,267.1 560.9,265.1 561.0,272.4 561.1,268.1 561.2,263.5 561.4,272.2 561.5,268.1 561.6,277.2 561.7,268.9 561.8,268.4 562.0,280.6 562.1,275.4 562.2,272.0 562.3,274.8 562.4,273.2 562.6,277.7 562.7,270.9 562.8,278.5 562.9,276.1 563.0,267.4 563.2,283.9 563.3,273.6 563.4,264.6 563.5,267.5 563.6,267.2 563.8,268.9 563.9,268.8 564.0,275.6 564.1,281.4 564.2,284.5 564.4,275.5 564.5,273.4 564.6,271.5 564.7,270.1 564.8,273.1 565.0,283.7 565.1,284.0 565.2,272.3 565.3,276.3 565.4,268.1 565.6,278.1 565.7,278.3 565.8,271.7 565.9,272.1 566.0,273.5 566.2,275.0 566.3,282.5 566.4,276.0 566.5,273.0 566.6,277.5 566.8,276.2 566.9,273.4 567.0,279.0 567.1,281.1 567.2,281.4 567.4,284.0 567.5,283.0 567.6,277.8 567.7,277.3 567.8,275.2 568.0,275.8 568.1,281.8 568.2,273.2 568.3,275.7 568.4,272.5 568.6,277.8 568.7,273.5 568.8,273.4 568.9,276.3 569.0,281.5 569.2,283.2 569.3,275.1 569.4,280.2 569.5,280.4 569.6,285.9 569.8,283.3 569.9,288.5 570.0,284.8 570.1,283.7 570.2,276.3 570.4,281.0 570.5,286.6 570.6,283.7 570.7,285.6 570.8,282.7 571.0,277.2 571.1,275.8 571.2,278.2 571.3,275.7 571.4,275.5 571.6,276.2 571.7,276.4 571.8,284.7 571.9,278.7 572.0,281.2 572.2,278.9 572.3,279.3 572.4,288.7 572.5,287.5 572.6,278.0 572.8,284.9 572.9,284.2 573.0,274.6 573.1,274.0 573.2,289.7 573.4,275.2 573.5,278.2 573.6,280.4 573.7,283.5 573.8,274.0 574.0,277.5 574.1,274.0 574.2,280.5 574.3,281.1 574.4,286.0 574.6,287.3 574.7,288.0 574.8,288.3 574.9,280.8 575.0,284.3 575.2,274.1 575.3,272.2 575.4,279.4 575.5,277.5 575.6,280.2 575.8,287.9 575.9,275.8 576.0,274.9 576.1,281.5 576.2,285.3 576.4,275.0 576.5,277.7 576.6,274.5 576.7,279.9 576.8,280.0 577.0,278.4 577.1,284.5 577.2,282.6 577.3,279.2 577.4,288.2 577.6,280.1 577.7,274.0 577.8,281.9 577.9,278.1 578.0,287.6 578.2,285.9 578.3,277.3 578.4,288.5 578.5,269.2 578.6,270.6 578.8,273.1 578.9,277.0 579.0,270.9 579.1,273.0 579.2,285.8 579.4,268.0 579.5,276.1 579.6,284.5 579.7,276.4 579.8,281.7 580.0,270.9 580.1,281.5 580.2,275.0 580.3,281.9 580.4,289.5 580.6,288.0 580.7,279.1 580.8,282.7 580.9,276.5 581.0,279.9 581.2,270.2 581.3,272.1 581.4,284.7 581.5,290.3 581.6,287.3 581.8,287.5 581.9,285.0 582.0,276.9 582.1,291.2 582.2,283.2 582.4,274.3 582.5,271.8 582.6,277.0 582.7,274.8 582.8,275.2 583.0,274.7 583.1,277.1 583.2,280.4 583.3,278.9 583.4,292.9 583.6,289.3 583.7,281.4 583.8,275.9 583.9,279.3 584.0,284.9 584.2,279.9 584.3,279.9 584.4,291.5 584.5,283.9 584.6,274.9 584.8,274.5 584.9,280.1 585.0,276.8 585.1,277.5 585.2,279.6 585.4,292.0 585.5,282.4 585.6,279.9 585.7,283.6 585.8,273.1 586.0,288.8 586.1,279.5 586.2,287.8 586.3,280.9 586.4,286.2 586.6,282.3 586.7,278.3 586.8,280.7 586.9,286.6 587.0,288.3 587.2,288.3 587.3,280.9 587.4,275.1 587.5,291.5 587.6,290.1 587.8,291.4 587.9,279.0 588.0,281.6 588.1,275.6 588.2,276.9 588.4,273.3 588.5,273.1 588.6,284.6 588.7,275.5 588.8,284.1 589.0,281.0 589.1,287.3 589.2,272.6 589.3,272.4 589.4,280.9 589.6,278.6 589.7,271.5 589.8,290.3 589.9,282.5 590.0,270.5 590.2,269.1 590.3,270.0 590.4,271.8 590.5,283.0 590.6,276.2 590.8,267.9 590.9,276.3 591.0,280.1 591.1,285.9 591.2,276.3 591.4,288.5 591.5,282.1 591.6,291.6 591.7,270.7 591.8,266.0 592.0,282.5 592.1,286.3 592.2,283.0 592.3,290.4 592.4,291.8 592.6,285.8 592.7,272.8 592.8,267.2 592.9,269.7 593.0,285.8 593.2,275.2 593.3,285.8 593.4,283.2 593.5,280.1 593.6,280.5 593.8,284.1 593.9,270.3 594.0,268.2 594.1,272.4 594.2,290.9 594.4,282.4 594.5,275.7 594.6,290.5 594.7,273.2 594.8,270.8 595.0,274.8 595.1,271.2 595.2,269.8 595.3,277.7 595.4,271.5 595.6,278.0 595.7,285.6 595.8,276.9 595.9,288.1 596.0,283.4 596.2,277.8 596.3,278.3 596.4,286.7 596.5,284.0 596.6,289.8 596.8,284.4 596.9,290.3 597.0,277.6 597.1,278.9 597.2,275.0 597.4,277.6 597.5,279.6 597.6,286.2 597.7,288.9 597.8,287.0 598.0,279.9 598.1,288.8 598.2,285.6 598.3,285.5 598.4,287.4 598.6,286.0 598.7,282.4 598.8,287.2 598.9,282.8 599.0,283.1 599.2,277.8 599.3,276.7 599.4,276.2 599.5,289.1 599.6,288.3 599.8,285.7 599.9,280.5 600.0,283.3 600.1,281.3 600.2,270.0 600.4,282.9 600.5,274.4 600.6,285.8 600.7,278.5 600.8,287.4 601.0,278.0 601.1,288.2 601.2,280.8 601.3,279.7 601.4,287.9 601.6,281.9 601.7,284.0 601.8,278.4 601.9,283.0 602.0,284.4 602.2,288.3 602.3,272.9 602.4,290.3 602.5,282.5 602.6,274.7 602.8,272.8 602.9,277.6 603.0,283.0 603.1,274.2 603.2,282.0 603.4,272.5 603.5,274.8 603.6,276.6 603.7,273.9 603.8,290.2 604.0,289.4 604.1,287.8 604.2,288.1 604.3,293.8 604.4,281.5 604.6,284.0 604.7,278.3 604.8,275.1 604.9,272.4 605.0,277.1 605.2,274.5 605.3,289.9 605.4,280.1 605.5,285.3 605.6,281.9 605.8,275.9 605.9,280.4 606.0,276.2 606.1,273.8 606.2,272.5 606.4,278.4 606.5,283.4 606.6,282.1 606.7,286.6 606.8,289.4 607.0,285.0 607.1,285.3 607.2,284.1 607.3,287.6 607.4,288.7 607.6,286.3 607.7,278.0 607.8,275.0 607.9,284.1 608.0,281.9 608.2,271.2 608.3,274.6 608.4,282.5 608.5,270.0 608.6,272.3 608.8,282.3 608.9,275.3 609.0,282.7 609.1,287.0 609.2,279.0 609.4,283.1 609.5,287.3 609.6,286.1 609.7,284.4 609.8,288.3 610.0,288.9 610.1,287.7 610.2,287.7 610.3,285.6 610.4,279.2 610.6,276.3 610.7,284.2 610.8,280.3 610.9,280.7 611.0,279.5 611.2,282.6 611.3,278.2 611.4,276.6 611.5,271.5 611.6,279.1 611.8,287.7 611.9,285.9 612.0,281.8 612.1,285.8 612.2,278.8 612.4,276.1 612.5,286.2 612.6,291.8 612.7,284.5 612.8,278.8 613.0,288.3 613.1,288.4 613.2,275.2 613.3,280.2 613.4,281.3 613.6,290.2 613.7,283.4 613.8,290.7 613.9,285.4 614.0,280.7 614.2,292.4 614.3,275.1 614.4,279.0 614.5,282.3 614.6,272.6 614.8,283.1 614.9,290.6 615.0,281.4 615.1,283.6 615.2,285.3 615.4,280.4 615.5,275.2 615.6,279.7 615.7,280.1 615.8,284.2 616.0,288.5 616.1,287.9 616.2,271.3 616.3,273.3 616.4,277.0 616.6,270.9 616.7,270.4 616.8,270.0 616.9,276.9 617.0,279.7 617.2,289.7 617.3,278.5 617.4,273.8 617.5,269.8 617.6,272.6 617.8,282.3 617.9,295.8 618.0,281.1 618.1,288.5 618.2,285.8 618.4,281.9 618.5,292.2 618.6,294.5 618.7,296.8 618.8,294.1 619.0,276.9 619.1,275.9 619.2,281.1 619.3,272.7 619.4,296.6 619.6,281.6 619.7,295.3 619.8,286.8 619.9,304.0 620.0,275.0 620.2,287.8 620.3,293.5 620.4,303.5 620.5,281.0 620.6,273.8 620.8,287.2 620.9,278.2 621.0,279.5 621.1,296.3 621.2,278.8 621.4,277.2 621.5,287.9 621.6,286.5 621.7,278.0 621.8,297.0 622.0,301.2 622.1,295.9 622.2,280.9 622.3,284.7 622.4,291.1 622.6,296.6 622.7,297.4 622.8,282.4 622.9,285.0 623.0,285.1 623.2,291.2 623.3,286.1 623.4,282.9 623.5,287.0 623.6,297.5 623.8,287.3 623.9,286.3 624.0,287.3 624.1,295.5 624.2,286.2 624.4,289.9 624.5,282.8 624.6,276.4 624.7,274.8 624.8,278.5 625.0,292.7 625.1,286.7 625.2,283.3 625.3,281.1 625.4,287.3 625.6,279.9 625.7,282.8 625.8,281.5 625.9,291.4 626.0,289.3 626.2,280.0 626.3,282.5 626.4,276.1 626.5,278.7 626.6,281.9 626.8,276.1 626.9,280.3 627.0,286.3 627.1,287.4 627.2,274.5 627.4,278.7 627.5,282.6 627.6,287.1 627.7,280.1 627.8,278.8 628.0,288.3 628.1,276.1 628.2,278.9 628.3,284.3 628.4,282.5 628.6,285.2 628.7,289.3 628.8,281.1 628.9,286.3 629.0,281.5 629.2,288.6 629.3,280.8 629.4,283.7 629.5,276.4 629.6,287.5 629.8,290.3 629.9,285.6 630.0,285.4 630.1,289.6 630.2,278.0 630.4,286.3 630.5,279.1 630.6,289.7 630.7,280.8 630.8,281.5 631.0,288.4 631.1,289.5 631.2,280.7 631.3,272.2 631.4,286.2 631.6,288.0 631.7,278.4 631.8,271.9 631.9,289.9 632.0,287.3 632.2,287.4 632.3,290.5 632.4,289.8 632.5,275.7 632.6,272.6 632.8,274.8 632.9,271.6 633.0,286.8 633.1,277.5 633.2,288.2 633.4,282.9 633.5,280.9 633.6,284.5 633.7,282.0 633.8,279.1 634.0,279.9 634.1,285.5 634.2,283.3 634.3,284.8 634.4,279.0 634.6,281.8 634.7,278.2 634.8,286.4 634.9,283.1 635.0,289.7 635.2,281.6 635.3,275.0 635.4,284.3 635.5,282.9 635.6,282.4 635.8,292.6 635.9,286.0 636.0,283.7 636.1,282.2 636.2,289.7 636.4,281.1 636.5,282.2 636.6,276.4 636.7,273.8 636.8,281.2 637.0,285.3 637.1,281.0 637.2,291.8 637.3,281.1 637.4,285.8 637.6,284.9 637.7,281.8 637.8,286.0 637.9,282.3 638.0,284.2 638.2,280.3 638.3,280.8 638.4,280.0 638.5,280.3 638.6,286.7 638.8,284.8 638.9,287.9 639.0,282.7 639.1,291.2 639.2,283.7 639.4,285.7 639.5,281.0 639.6,278.0 639.7,281.1 639.8,279.3 640.0,293.0 640.1,280.9 640.2,289.6 640.3,286.5 640.4,276.1 640.6,279.2 640.7,293.6 640.8,291.5 640.9,278.2 641.0,277.7 641.2,281.1 641.3,275.6 641.4,293.9 641.5,290.5 641.6,279.1 641.8,295.9 641.9,295.1 642.0,296.7 642.1,289.4 642.2,282.3 642.4,281.1 642.5,290.2 642.6,283.2 642.7,283.4 642.8,290.7 643.0,294.1 643.1,285.3 643.2,294.5 643.3,286.4 643.4,277.8 643.6,286.6 643.7,287.0 643.8,283.0 643.9,289.7 644.0,294.5 644.2,290.3 644.3,290.3 644.4,278.3 644.5,288.3 644.6,284.4 644.8,278.5 644.9,277.2 645.0,275.5 645.1,290.0 645.2,289.2 645.4,284.9 645.5,283.4 645.6,283.0 645.7,285.0 645.8,288.0 646.0,284.6 646.1,289.6 646.2,290.9 646.3,283.7 646.4,278.3 646.6,284.3 646.7,278.8 646.8,281.6 646.9,280.9 647.0,290.8 647.2,280.4 647.3,282.4 647.4,280.6 647.5,281.7 647.6,287.6 647.8,282.4 647.9,282.5 648.0,279.8 648.1,291.2 648.2,291.0 648.4,288.8 648.5,291.4 648.6,293.3 648.7,281.3 648.8,279.8 649.0,291.9 649.1,278.4 649.2,279.1 649.3,290.6 649.4,278.4 649.6,286.1 649.7,282.6 649.8,278.2 649.9,282.7 650.0,283.5 650.2,292.7 650.3,286.2 650.4,277.5 650.5,287.4 650.6,288.2 650.8,283.5 650.9,282.9 651.0,284.4 651.1,279.1 651.2,277.2 651.4,277.3 651.5,289.9 651.6,287.0 651.7,291.7 651.8,282.6 652.0,284.2 652.1,291.3 652.2,276.8 652.3,284.6 652.4,289.1 652.6,277.9 652.7,276.9 652.8,280.8 652.9,279.9 653.0,278.0 653.2,286.5 653.3,288.4 653.4,279.1 653.5,281.0 653.6,287.5 653.8,289.2 653.9,284.1 654.0,289.6 654.1,292.5 654.2,293.9 654.4,294.4 654.5,289.3 654.6,284.6 654.7,291.8 654.8,294.3 655.0,286.9 655.1,282.0 655.2,284.4 655.3,278.8 655.4,282.3 655.6,280.2 655.7,284.5 655.8,283.5 655.9,287.1 656.0,282.7 656.2,283.5 656.3,291.4 656.4,281.6 656.5,290.2 656.6,283.2 656.8,292.5 656.9,276.4 657.0,288.4"/>
<polygon fill="#f00" points="387.0,280.6 387.6,278.7 388.2,278.4 388.8,278.1 389.4,277.2 390.0,276.8 390.6,276.4 391.2,275.4 391.8,276.4 392.4,275.6 393.0,275.8 393.6,276.1 394.2,277.5 394.8,276.5 395.4,274.0 396.0,274.6 396.6,273.7 397.2,272.6 397.8,271.9 398.4,270.4 399.0,269.6 399.6,269.3 400.2,270.5 400.8,272.0 401.4,272.0 402.0,272.7 402.6,273.8 403.2,275.1 403.8,276.3 404.4,275.2 405.0,275.8 405.6,275.7 406.2,276.5 406.8,276.8 407.4,276.4 408.0,274.9 408.6,271.3 409.2,269.1 409.8,264.8 410.4,266.9 411.0,266.4 411.6,267.7 412.2,267.9 412.8,268.6 413.4,270.2 414.0,270.5 414.6,270.2 415.2,270.4 415.8,269.6 416.4,270.2 417.0,267.9 417.6,267.9 418.2,267.5 418.8,268.0 419.4,267.8 420.0,266.4 420.6,266.1 421.2,265.1 421.8,264.8 422.4,265.5 423.0,266.7 423.6,268.4 424.2,267.5 424.8,267.9 425.4,268.2 426.0,269.1 426.6,268.7 427.2,267.1 427.8,266.0 428.4,266.3 429.0,267.4 429.6,266.3 430.2,265.4 430.8,264.4 431.4,264.6 432.0,265.7 432.6,266.3 433.2,267.2 433.8,265.4 434.4,265.1 435.0,263.9 435.6,264.9 436.2,265.9 436.8,266.3 437.4,264.8 438.0,265.5 438.6,265.4 439.2,264.7 439.8,265.5 440.4,267.2 441.0,267.0 441.6,267.1 442.2,266.8 442.8,268.1 443.4,267.9 444.0,267.2 444.6,267.2 445.2,267.8 445.8,267.5 446.4,267.3 447.0,266.3 447.6,264.6 448.2,263.4 448.8,260.9 449.4,258.8 450.0,261.1 450.6,263.1 451.2,262.9 451.8,265.7 452.4,265.1 453.0,265.7 453.6,266.2 454.2,266.6 454.8,265.5 455.4,265.9 456.0,266.5 456.6,268.5 457.2,270.1 457.8,270.7 458.4,269.9 459.0,269.1 459.6,268.0 460.2,267.6 460.8,266.2 461.4,266.8 462.0,266.2 462.6,264.4 463.2,265.6 463.8,266.2 464.4,266.0 465.0,264.8 465.6,264.9 466.2,265.4 466.8,263.4 467.4,264.7 468.0,266.0 468.6,265.6 469.2,266.6 469.8,266.9 470.4,266.6 471.0,264.6 471.6,262.0 472.2,260.0 472.8,260.2 473.4,262.2 474.0,263.7 474.6,262.5 475.2,263.7 475.8,265.2 476.4,262.4 477.0,261.8 477.6,261.9 478.2,258.7 478.8,257.7 479.4,257.8 480.0,254.9 480.6,256.7 481.2,257.0 481.8,260.6 482.4,263.3 483.0,266.5 483.6,266.9 484.2,266.1 484.8,266.5 485.4,266.6 486.0,266.2 486.6,266.9 487.2,266.8 487.8,268.0 488.4,267.7 489.0,268.3 489.6,269.1 490.2,268.0 490.8,267.7 491.4,267.0 492.0,267.7 492.6,268.5 493.2,269.0 493.8,267.1 494.4,266.8 495.0,266.8 495.6,269.7 496.2,267.6 496.8,267.4 497.4,268.2 498.0,270.0 498.6,270.1 499.2,270.4 499.8,271.3 500.4,271.6 501.0,272.5 501.6,272.9 502.2,272.0 502.8,271.2 503.4,272.5 504.0,271.5 504.6,273.2 505.2,271.6 505.8,272.3 506.4,273.1 507.0,273.8 507.6,273.1 508.2,273.9 508.8,274.8 509.4,275.0 510.0,275.7 510.6,276.5 511.2,276.7 511.8,274.6 512.4,274.6 513.0,275.4 513.6,274.9 514.2,276.5 514.8,275.0 515.4,274.8 516.0,275.9 516.6,276.0 517.2,275.1 517.8,275.7 518.4,276.8 519.0,275.5 519.6,276.8 520.2,277.4 520.8,277.6 521.4,279.5 522.0,278.3 522.6,280.7 523.2,281.3 523.8,279.8 524.4,279.2 525.0,280.4 525.6,279.8 526.2,279.8 526.8,279.4 527.4,279.1 528.0,278.2 528.6,276.9 529.2,276.0 529.8,275.6 530.4,274.5 531.0,275.0 531.6,272.3 532.2,273.4 532.8,274.6 533.4,273.9 534.0,273.5 534.6,273.6 535.2,274.9 535.8,273.7 536.4,273.0 537.0,274.0 537.6,273.2 538.2,272.0 538.8,272.7 539.4,270.8 540.0,268.6 540.6,266.9 541.2,266.0 541.8,264.5 542.4,263.4 543.0,262.5 543.6,262.7 544.2,261.7 544.8,261.1 545.4,261.3 546.0,262.1 546.6,262.7 547.2,265.1 547.8,265.7 548.4,266.3 549.0,267.4 549.6,269.1 550.2,269.4 550.8,270.2 551.4,268.8 552.0,269.8 552.6,270.1 553.2,270.1 553.8,270.2 554.4,269.6 555.0,269.8 555.6,269.7 556.2,268.5 556.8,269.7 557.4,270.4 558.0,271.5 558.6,272.9 559.2,272.7 559.8,273.3 560.4,274.2 561.0,275.0 561.6,276.2 562.2,275.7 562.8,273.8 563.4,273.2 564.0,272.5 564.6,273.1 565.2,273.1 565.8,271.8 566.4,271.5 567.0,273.1 567.6,272.0 568.2,271.1 568.8,269.3 569.4,268.7 570.0,269.0 570.6,267.9 571.2,267.1 571.8,266.0 572.4,266.3 573.0,266.0 573.6,265.5 574.2,264.7 574.8,264.8 575.4,264.2 576.0,265.0 576.6,263.0 577.2,262.6 577.8,261.5 578.4,261.4 579.0,260.4 579.6,259.7 580.2,258.5 580.8,258.7 581.4,259.6 582.0,259.0 582.6,258.7 583.2,258.1 583.8,258.0 584.4,257.8 585.0,257.6 585.6,258.2 586.2,257.5 586.8,259.7 587.4,258.6 588.0,259.3 588.6,259.4 589.2,259.6 589.8,259.8 590.4,259.9 591.0,260.0 591.6,259.6 592.2,259.4 592.8,259.0 593.4,258.3 594.0,258.6 594.6,258.0 595.2,258.0 595.8,257.1 596.4,257.9 597.0,256.7 597.6,256.6 598.2,257.3 598.8,254.6 599.4,255.2 600.0,254.3 600.6,253.9 601.2,254.9 601.8,255.5 602.4,257.0 603.0,255.5 603.6,256.2 604.2,256.7 604.8,259.2 605.4,260.5 606.0,260.0 606.6,258.9 607.2,259.6 607.8,259.7 608.4,259.3 609.0,261.4 609.6,261.5 610.2,262.8 610.8,262.6 611.4,261.9 612.0,261.6 612.6,262.7 613.2,261.5 613.8,261.2 614.4,260.9 615.0,259.0 615.6,258.2 616.2,257.2 616.8,257.2 617.4,256.8 618.0,257.6 618.6,259.1 619.2,259.3 619.8,259.7 620.4,259.4 621.0,259.8 621.6,260.1 622.2,260.1 622.8,260.8 623.4,261.2 624.0,262.1 624.6,262.7 625.2,262.4 625.8,262.5 626.4,261.5 627.0,259.9 627.6,257.7 628.2,257.9 628.8,256.1 629.4,255.1 630.0,258.1 630.6,258.5 631.2,260.4 631.8,260.6 632.4,261.6 633.0,262.1 633.6,262.2 634.2,263.5 634.8,263.5 635.4,263.3 636.0,263.9 636.6,264.3 637.2,266.0 637.8,264.8 638.4,264.4 639.0,263.3 639.6,262.0 640.2,260.0 640.8,258.9 641.4,256.7 642.0,258.0 642.6,258.1 643.2,260.1 643.8,259.8 644.4,261.4 645.0,260.4 645.6,263.1 646.2,263.4 646.8,264.4 647.4,262.5 648.0,263.0 648.6,261.8 649.2,262.0 649.8,260.6 650.4,261.1 651.0,261.3 651.6,262.2 652.2,261.5 652.8,262.1 653.4,262.1 654.0,261.5 654.6,261.8 655.2,261.2 655.8,261.1 656.4,261.8 657.0,263.0 657.0,268.8 656.4,268.4 655.8,267.8 655.2,267.7 654.6,268.4 654.0,267.6 653.4,268.0 652.8,269.3 652.2,268.2 651.6,268.7 651.0,269.0 650.4,268.8 649.8,269.0 649.2,268.8 648.6,269.0 648.0,270.6 647.4,270.4 646.8,271.6 646.2,270.6 645.6,269.3 645.0,268.6 644.4,268.2 643.8,267.2 643.2,267.0 642.6,266.6 642.0,267.2 641.4,267.0 640.8,268.0 640.2,269.0 639.6,270.7 639.0,272.2 638.4,272.1 637.8,274.2 637.2,273.3 636.6,272.2 636.0,271.5 635.4,271.4 634.8,270.8 634.2,271.1 633.6,269.9 633.0,269.1 632.4,269.1 631.8,269.3 631.2,268.2 630.6,268.3 630.0,265.6 629.4,264.2 628.8,266.6 628.2,265.5 627.6,266.2 627.0,267.5 626.4,268.1 625.8,270.8 625.2,269.0 624.6,270.0 624.0,268.5 623.4,266.6 622.8,267.6 622.2,266.5 621.6,265.0 621.0,265.4 620.4,264.4 619.8,265.6 619.2,265.1 618.6,265.6 618.0,264.4 617.4,264.5 616.8,264.0 616.2,265.3 615.6,265.0 615.0,265.7 614.4,267.2 613.8,266.8 613.2,267.8 612.6,268.9 612.0,267.0 611.4,267.7 610.8,268.2 610.2,269.9 609.6,269.3 609.0,268.8 608.4,267.1 607.8,266.9 607.2,267.3 606.6,266.3 606.0,267.5 605.4,267.1 604.8,265.6 604.2,264.7 603.6,264.7 603.0,262.8 602.4,264.8 601.8,263.0 601.2,262.4 600.6,261.9 600.0,261.7 599.4,261.4 598.8,261.8 598.2,263.3 597.6,262.3 597.0,263.2 596.4,262.6 595.8,262.4 595.2,262.9 594.6,263.5 594.0,264.1 593.4,264.2 592.8,265.3 592.2,265.6 591.6,265.5 591.0,266.7 590.4,266.1 589.8,265.8 589.2,266.5 588.6,266.6 588.0,265.9 587.4,266.9 586.8,267.1 586.2,264.7 585.6,264.2 585.0,265.1 584.4,265.5 583.8,264.4 583.2,265.3 582.6,266.0 582.0,265.7 581.4,267.7 580.8,267.9 580.2,267.2 579.6,268.5 579.0,270.2 578.4,270.2 577.8,270.7 577.2,270.8 576.6,270.7 576.0,271.8 575.4,271.1 574.8,271.9 574.2,271.8 573.6,272.4 573.0,273.1 572.4,272.3 571.8,272.5 571.2,273.7 570.6,274.7 570.0,274.9 569.4,276.4 568.8,277.5 568.2,278.1 567.6,280.7 567.0,282.0 566.4,280.2 565.8,280.0 565.2,282.3 564.6,282.5 564.0,280.4 563.4,282.0 562.8,282.3 562.2,282.9 561.6,282.3 561.0,281.4 560.4,281.3 559.8,280.4 559.2,279.9 558.6,279.8 558.0,279.0 557.4,278.2 556.8,276.9 556.2,275.4 555.6,276.7 555.0,276.5 554.4,276.9 553.8,277.1 553.2,277.7 552.6,275.9 552.0,276.2 551.4,275.1 550.8,276.4 550.2,276.9 549.6,275.8 549.0,275.1 548.4,274.0 547.8,272.8 547.2,273.4 546.6,271.3 546.0,271.8 545.4,271.0 544.8,269.8 544.2,271.1 543.6,271.1 543.0,271.1 542.4,272.0 541.8,272.5 541.2,274.6 540.6,275.2 540.0,276.7 539.4,277.7 538.8,279.5 538.2,279.8 537.6,280.7 537.0,281.3 536.4,281.3 535.8,281.3 535.2,282.8 534.6,282.2 534.0,281.8 533.4,281.6 532.8,282.5 532.2,280.7 531.6,280.3 531.0,283.2 530.4,282.3 529.8,284.7 529.2,283.6 528.6,285.8 528.0,286.0 527.4,286.9 526.8,287.9 526.2,286.5 525.6,288.3 525.0,288.0 524.4,287.8 523.8,288.2 523.2,288.2 522.6,287.5 522.0,287.1 521.4,285.9 520.8,285.5 520.2,285.7 519.6,285.2 519.0,284.2 518.4,284.0 517.8,284.9 517.2,283.3 516.6,284.2 516.0,283.4 515.4,283.4 514.8,283.2 514.2,284.1 513.6,283.7 513.0,282.9 512.4,282.5 511.8,283.3 511.2,284.3 510.6,284.2 510.0,284.4 509.4,283.3 508.8,281.8 508.2,281.4 507.6,280.1 507.0,281.0 506.4,280.8 505.8,280.8 505.2,278.6 504.6,280.9 504.0,279.2 503.4,280.1 502.8,280.6 502.2,280.0 501.6,280.3 501.0,280.2 500.4,279.8 499.8,279.4 499.2,277.5 498.6,278.7 498.0,277.6 497.4,276.7 496.8,274.8 496.2,276.2 495.6,276.2 495.0,275.5 494.4,273.8 493.8,274.7 493.2,276.6 492.6,275.8 492.0,275.6 491.4,275.8 490.8,274.4 490.2,276.5 489.6,275.9 489.0,275.7 488.4,274.9 487.8,275.0 487.2,274.9 486.6,274.7 486.0,273.9 485.4,274.3 484.8,275.3 484.2,275.0 483.6,274.7 483.0,273.9 482.4,272.1 481.8,268.6 481.2,267.2 480.6,266.0 480.0,266.5 479.4,268.2 478.8,268.9 478.2,269.5 477.6,271.7 477.0,271.5 476.4,274.0 475.8,274.9 475.2,274.2 474.6,272.9 474.0,273.0 473.4,272.7 472.8,272.1 472.2,273.9 471.6,274.4 471.0,276.5 470.4,276.5 469.8,276.3 469.2,276.2 468.6,273.8 468.0,274.5 467.4,273.3 466.8,272.5 466.2,273.5 465.6,273.1 465.0,273.8 464.4,274.7 463.8,275.4 463.2,274.9 462.6,272.4 462.0,273.6 461.4,275.4 460.8,273.7 460.2,274.6 459.6,275.6 459.0,277.6 458.4,277.6 457.8,277.0 457.2,277.4 456.6,275.8 456.0,275.5 455.4,274.0 454.8,274.4 454.2,275.8 453.6,274.7 453.0,273.7 452.4,273.6 451.8,275.6 451.2,273.9 450.6,271.6 450.0,272.1 449.4,270.3 448.8,270.3 448.2,272.9 447.6,273.9 447.0,274.4 446.4,274.9 445.8,275.2 445.2,275.4 444.6,274.7 444.0,275.1 443.4,275.1 442.8,275.2 442.2,275.9 441.6,273.6 441.0,274.1 440.4,275.1 439.8,273.5 439.2,273.3 438.6,273.7 438.0,274.6 437.4,274.5 436.8,275.2 436.2,274.7 435.6,275.5 435.0,273.6 434.4,275.2 433.8,273.7 433.2,274.8 432.6,274.0 432.0,273.7 431.4,272.8 430.8,272.1 430.2,274.4 429.6,273.4 429.0,274.8 428.4,274.7 427.8,274.7 427.2,274.7 426.6,275.7 426.0,275.9 425.4,276.5 424.8,275.3 424.2,275.6 423.6,277.0 423.0,276.8 422.4,275.9 421.8,275.3 421.2,273.4 420.6,274.4 420.0,275.0 419.4,276.3 418.8,277.0 418.2,275.3 417.6,274.8 417.0,275.5 416.4,277.8 415.8,278.0 415.2,278.0 414.6,277.6 414.0,278.5 413.4,277.9 412.8,275.7 412.2,275.0 411.6,275.7 411.0,274.0 410.4,274.8 409.8,273.9 409.2,274.9 408.6,277.6 408.0,279.5 407.4,280.6 406.8,281.0 406.2,280.8 405.6,280.5 405.0,280.0 404.4,280.2 403.8,280.5 403.2,280.3 402.6,279.5 402.0,278.9 401.4,277.4 400.8,277.2 400.2,276.0 399.6,275.5 399.0,275.0 398.4,276.1 397.8,277.6 397.2,279.0 396.6,280.1 396.0,280.8 395.4,280.7 394.8,282.7 394.2,282.7 393.6,282.4 393.0,281.4 392.4,281.7 391.8,282.2 391.2,281.5 390.6,281.5 390.0,281.4 389.4,282.3 388.8,282.6 388.2,284.0 387.6,283.9 387.0,284.5"/><polyline fill="none" stroke="#f00" stroke-width="0.6" stroke-linejoin="round" points="387.0,276.0 387.1,276.4 387.2,287.6 387.4,276.7 387.5,276.6 387.6,276.0 387.7,275.3 387.8,274.5 388.0,280.2 388.1,289.3 388.2,288.9 388.3,283.4 388.4,272.7 388.6,282.4 388.7,279.9 388.8,279.8 388.9,280.4 389.0,273.5 389.2,277.6 389.3,275.9 389.4,283.7 389.5,284.4 389.6,280.9 389.8,275.7 389.9,281.5 390.0,279.2 390.1,275.3 390.2,273.3 390.4,283.0 390.5,285.6 390.6,286.0 390.7,284.0 390.8,282.9 391.0,285.9 391.1,278.6 391.2,283.4 391.3,280.6 391.4,279.5 391.6,284.4 391.7,275.2 391.8,287.7 391.9,276.6 392.0,283.2 392.2,272.0 392.3,273.6 392.4,272.9 392.5,286.7 392.6,272.1 392.8,272.8 392.9,273.6 393.0,273.7 393.1,274.9 393.2,276.9 393.4,286.3 393.5,279.6 393.6,279.9 393.7,280.4 393.8,285.5 394.0,279.2 394.1,286.1 394.2,279.4 394.3,279.5 394.4,285.5 394.6,277.2 394.7,285.9 394.8,283.3 394.9,269.2 395.0,282.6 395.2,288.0 395.3,273.3 395.4,270.8 395.5,268.2 395.6,279.0 395.8,274.7 395.9,278.6 396.0,284.8 396.1,265.8 396.2,268.4 396.4,274.9 396.5,267.7 396.6,269.3 396.7,264.4 396.8,269.5 397.0,264.0 397.1,263.7 397.2,269.4 397.3,276.4 397.4,282.1 397.6,278.5 397.7,276.6 397.8,270.7 397.9,273.2 398.0,270.4 398.2,276.5 398.3,280.5 398.4,268.6 398.5,267.9 398.6,269.1 398.8,273.2 398.9,281.5 399.0,270.7 399.1,265.3 399.2,273.0 399.4,262.8 399.5,269.9 399.6,266.0 399.7,270.5 399.8,266.1 400.0,263.0 400.1,271.6 400.2,269.3 400.3,269.6 400.4,269.7 400.6,279.8 400.7,279.0 400.8,269.0 400.9,275.3 401.0,265.4 401.2,266.6 401.3,271.8 401.4,274.3 401.5,273.1 401.6,283.3 401.8,271.8 401.9,275.3 402.0,281.0 402.1,269.8 402.2,280.5 402.4,277.5 402.5,282.7 402.6,275.8 402.7,279.4 402.8,277.8 403.0,277.8 403.1,278.0 403.2,282.0 403.3,276.4 403.4,276.4 403.6,281.3 403.7,277.4 403.8,276.6 403.9,274.4 404.0,283.2 404.2,280.3 404.3,282.2 404.4,283.4 404.5,278.2 404.6,274.9 404.8,276.3 404.9,280.8 405.0,279.2 405.1,273.7 405.2,273.5 405.4,270.9 405.5,274.9 405.6,275.3 405.7,276.1 405.8,279.3 406.0,278.9 406.1,281.9 406.2,279.7 406.3,275.6 406.4,274.5 406.6,283.6 406.7,283.3 406.8,275.7 406.9,274.2 407.0,276.2 407.2,275.9 407.3,285.2 407.4,284.8 407.5,279.0 407.6,279.1 407.8,283.1 407.9,280.2 408.0,278.0 408.1,272.0 408.2,273.6 408.4,282.8 408.5,283.2 408.6,282.4 408.7,267.0 408.8,281.1 409.0,272.0 409.1,282.3 409.2,279.8 409.3,265.4 409.4,263.1 409.6,267.7 409.7,284.1 409.8,256.6 409.9,278.5 410.0,267.6 410.2,267.9 410.3,257.0 410.4,257.0 410.5,262.3 410.6,274.7 410.8,281.1 410.9,258.0 411.0,279.7 411.1,281.8 411.2,280.7 411.4,265.0 411.5,275.7 411.6,261.9 411.7,275.2 411.8,276.5 412.0,280.5 412.1,268.6 412.2,275.1 412.3,270.8 412.4,265.4 412.6,270.2 412.7,271.6 412.8,285.1 412.9,283.8 413.0,275.5 413.2,269.0 413.3,278.1 413.4,274.8 413.5,277.1 413.6,276.4 413.8,284.9 413.9,283.4 414.0,285.1 414.1,283.5 414.2,280.8 414.4,279.5 414.5,276.8 414.6,276.9 414.7,270.4 414.8,266.9 415.0,268.1 415.1,281.5 415.2,276.4 415.3,269.3 415.4,269.6 415.6,258.9 415.7,258.5 415.8,269.5 415.9,266.0 416.0,273.5 416.2,273.2 416.3,284.8 416.4,269.5 416.5,281.5 416.6,284.3 416.8,276.7 416.9,267.6 417.0,275.7 417.1,272.5 417.2,265.1 417.4,268.9 417.5,259.2 417.6,263.5 417.7,271.6 417.8,282.6 418.0,281.8 418.1,264.5 418.2,263.4 418.3,258.6 418.4,264.5 418.6,273.4 418.7,263.6 418.8,256.1 418.9,263.4 419.0,268.1 419.2,271.7 419.3,274.7 419.4,279.3 419.5,283.5 419.6,279.2 419.8,283.8 419.9,276.1 420.0,265.3 420.1,284.3 420.2,284.9 420.4,277.8 420.5,263.9 420.6,267.6 420.7,262.0 420.8,283.3 421.0,281.9 421.1,278.3 421.2,264.3 421.3,266.7 421.4,271.1 421.6,251.2 421.7,257.7 421.8,266.1 421.9,281.1 422.0,266.2 422.2,272.6 422.3,252.4 422.4,273.1 422.5,259.5 422.6,259.6 422.8,265.9 422.9,256.9 423.0,254.8 423.1,253.0 423.2,256.6 423.4,268.8 423.5,279.1 423.6,283.4 423.7,283.1 423.8,276.9 424.0,270.7 424.1,262.6 424.2,278.2 424.3,277.2 424.4,270.5 424.6,279.2 424.7,259.1 424.8,283.9 424.9,274.5 425.0,261.4 425.2,277.5 425.3,266.0 425.4,273.7 425.5,273.4 425.6,260.1 425.8,269.6 425.9,285.0 426.0,285.8 426.1,279.0 426.2,268.8 426.4,268.4 426.5,264.1 426.6,269.4 426.7,265.8 426.8,263.2 427.0,269.7 427.1,273.8 427.2,266.8 427.3,274.7 427.4,278.1 427.6,271.3 427.7,270.7 427.8,280.1 427.9,285.1 428.0,265.5 428.2,278.6 428.3,283.7 428.4,264.9 428.5,266.2 428.6,265.1 428.8,265.6 428.9,270.8 429.0,272.0 429.1,269.3 429.2,275.5 429.4,260.4 429.5,267.9 429.6,273.6 429.7,264.0 429.8,262.7 430.0,271.0 430.1,268.0 430.2,268.6 430.3,265.1 430.4,280.0 430.6,259.0 430.7,275.9 430.8,281.8 430.9,262.7 431.0,259.4 431.2,260.4 431.3,270.2 431.4,271.5 431.5,264.4 431.6,255.9 431.8,282.3 431.9,270.4 432.0,259.8 432.1,268.3 432.2,270.8 432.4,282.7 432.5,275.5 432.6,284.4 432.7,264.6 432.8,281.7 433.0,283.4 433.1,277.7 433.2,279.1 433.3,276.6 433.4,278.4 433.6,278.8 433.7,277.2 433.8,254.8 433.9,279.0 434.0,258.4 434.2,264.1 434.3,264.3 434.4,273.3 434.5,269.6 434.6,252.4 434.8,252.8 434.9,252.3 435.0,284.4 435.1,283.9 435.2,275.0 435.4,275.4 435.5,266.3 435.6,274.2 435.7,269.8 435.8,261.5 436.0,277.0 436.1,279.4 436.2,251.5 436.3,264.9 436.4,271.4 436.6,280.7 436.7,272.3 436.8,255.8 436.9,280.2 437.0,284.9 437.2,281.2 437.3,275.5 437.4,283.6 437.5,278.3 437.6,280.3 437.8,277.8 437.9,275.9 438.0,281.1 438.1,278.1 438.2,257.4 438.4,267.8 438.5,283.9 438.6,276.7 438.7,263.8 438.8,265.2 439.0,273.9 439.1,271.5 439.2,284.6 439.3,262.7 439.4,256.6 439.6,255.5 439.7,272.8 439.8,269.8 439.9,258.7 440.0,275.1 440.2,276.9 440.3,270.0 440.4,259.6 440.5,261.4 440.6,273.9 440.8,278.0 440.9,277.6 441.0,277.6 441.1,269.5 441.2,269.9 441.4,270.0 441.5,263.2 441.6,279.6 441.7,272.6 441.8,260.1 442.0,262.0 442.1,266.8 442.2,264.9 442.3,268.3 442.4,275.6 442.6,280.9 442.7,278.5 442.8,264.8 442.9,266.9 443.0,280.4 443.2,284.2 443.3,279.0 443.4,286.1 443.5,279.5 443.6,274.1 443.8,267.7 443.9,270.4 444.0,275.6 444.1,261.9 444.2,273.2 444.4,266.6 444.5,263.3 444.6,262.4 444.7,278.6 444.8,267.8 445.0,274.6 445.1,273.9 445.2,277.9 445.3,272.9 445.4,263.2 445.6,262.7 445.7,274.0 445.8,265.6 445.9,273.7 446.0,264.3 446.2,278.2 446.3,268.7 446.4,257.5 446.5,262.7 446.6,267.8 446.8,284.4 446.9,273.0 447.0,278.1 447.1,275.4 447.2,264.1 447.4,267.6 447.5,278.3 447.6,278.2 447.7,270.8 447.8,262.9 448.0,275.8 448.1,266.5 448.2,263.8 448.3,266.1 448.4,269.7 448.6,261.6 448.7,253.6 448.8,272.2 448.9,266.0 449.0,280.8 449.2,248.3 449.3,269.1 449.4,263.3 449.5,261.1 449.6,278.1 449.8,247.4 449.9,267.6 450.0,267.7 450.1,279.2 450.2,257.4 450.4,273.1 450.5,273.7 450.6,261.3 450.7,283.9 450.8,285.6 451.0,267.1 451.1,277.3 451.2,277.7 451.3,272.0 451.4,276.7 451.6,282.3 451.7,272.5 451.8,279.1 451.9,283.5 452.0,276.2 452.2,275.4 452.3,277.4 452.4,278.1 452.5,256.4 452.6,262.1 452.8,273.9 452.9,280.3 453.0,264.2 453.1,257.7 453.2,255.4 453.4,282.1 453.5,277.2 453.6,271.5 453.7,260.4 453.8,261.7 454.0,273.6 454.1,264.6 454.2,273.8 454.3,257.5 454.4,272.1 454.6,270.3 454.7,273.8 454.8,280.9 454.9,280.9 455.0,269.6 455.2,265.8 455.3,279.4 455.4,264.9 455.5,279.3 455.6,283.0 455.8,276.4 455.9,274.9 456.0,265.9 456.1,262.8 456.2,260.4 456.4,272.2 456.5,273.9 456.6,281.3 456.7,279.8 456.8,268.4 457.0,265.5 457.1,262.7 457.2,263.7 457.3,265.6 457.4,266.7 457.6,270.1 457.7,269.0 457.8,283.2 457.9,274.3 458.0,269.1 458.2,268.5 458.3,262.2 458.4,271.2 458.5,275.3 458.6,277.3 458.8,275.8 458.9,261.2 459.0,260.9 459.1,260.7 459.2,271.4 459.4,273.5 459.5,275.5 459.6,266.7 459.7,259.0 459.8,260.1 460.0,272.4 460.1,285.7 460.2,281.8 460.3,269.8 460.4,266.9 460.6,272.9 460.7,278.3 460.8,262.8 460.9,263.5 461.0,264.6 461.2,270.4 461.3,282.8 461.4,267.1 461.5,259.1 461.6,262.2 461.8,263.9 461.9,278.8 462.0,281.3 462.1,279.1 462.2,265.9 462.4,263.4 462.5,268.0 462.6,261.5 462.7,277.4 462.8,268.1 463.0,269.5 463.1,277.0 463.2,276.5 463.3,276.7 463.4,268.9 463.6,277.3 463.7,258.5 463.8,273.4 463.9,266.1 464.0,259.2 464.2,267.9 464.3,275.6 464.4,268.4 464.5,265.8 464.6,262.2 464.8,281.1 464.9,277.1 465.0,266.3 465.1,274.4 465.2,277.0 465.4,261.6 465.5,256.4 465.6,257.3 465.7,278.6 465.8,256.6 466.0,280.2 466.1,279.5 466.2,282.0 466.3,283.7 466.4,274.2 466.6,264.5 466.7,269.5 466.8,271.2 466.9,272.5 467.0,264.0 467.2,259.4 467.3,276.1 467.4,274.7 467.5,260.2 467.6,278.2 467.8,264.1 467.9,258.2 468.0,271.5 468.1,260.6 468.2,279.9 468.4,274.5 468.5,266.6 468.6,269.4 468.7,262.4 468.8,263.8 469.0,265.4 469.1,267.5 469.2,258.9 469.3,265.4 469.4,271.9 469.6,263.2 469.7,266.5 469.8,274.5 469.9,274.6 470.0,284.7 470.2,272.6 470.3,268.9 470.4,268.8 470.5,276.4 470.6,277.4 470.8,279.3 470.9,259.1 471.0,267.4 471.1,252.3 471.2,262.5 471.4,257.4 471.5,277.9 471.6,271.3 471.7,260.3 471.8,255.5 472.0,248.3 472.1,271.5 472.2,284.5 472.3,278.6 472.4,270.0 472.6,272.9 472.7,253.8 472.8,274.5 472.9,256.8 473.0,247.9 473.2,254.0 473.3,275.0 473.4,283.0 473.5,266.3 473.6,267.9 473.8,257.4 473.9,253.3 474.0,276.7 474.1,265.9 474.2,249.5 474.4,273.6 474.5,285.0 474.6,257.4 474.7,261.6 474.8,263.1 475.0,260.0 475.1,282.1 475.2,278.1 475.3,279.7 475.4,282.8 475.6,260.9 475.7,265.9 475.8,275.1 475.9,271.3 476.0,280.4 476.2,286.4 476.3,261.4 476.4,279.0 476.5,283.0 476.6,256.2 476.8,272.6 476.9,264.6 477.0,261.4 477.1,260.8 477.2,266.0 477.4,254.6 477.5,265.9 477.6,282.3 477.7,280.4 477.8,270.5 478.0,283.0 478.1,272.6 478.2,264.8 478.3,274.0 478.4,261.6 478.6,266.8 478.7,258.4 478.8,255.4 478.9,272.7 479.0,246.3 479.2,260.7 479.3,258.7 479.4,277.7 479.5,274.0 479.6,273.1 479.8,278.3 479.9,275.4 480.0,254.0 480.1,243.0 480.2,257.6 480.4,265.0 480.5,266.4 480.6,278.5 480.7,278.2 480.8,270.4 481.0,256.0 481.1,257.6 481.2,271.9 481.3,249.5 481.4,269.5 481.6,253.5 481.7,250.7 481.8,258.2 481.9,261.8 482.0,268.4 482.2,256.5 482.3,277.1 482.4,257.3 482.5,264.0 482.6,265.8 482.8,268.1 482.9,276.2 483.0,260.5 483.1,258.2 483.2,260.9 483.4,272.1 483.5,271.7 483.6,259.9 483.7,266.0 483.8,278.4 484.0,276.9 484.1,276.0 484.2,261.0 484.3,266.9 484.4,277.6 484.6,269.1 484.7,275.3 484.8,266.8 484.9,263.3 485.0,260.1 485.2,266.4 485.3,280.8 485.4,264.6 485.5,258.3 485.6,265.2 485.8,261.6 485.9,271.6 486.0,264.9 486.1,259.7 486.2,264.2 486.4,257.7 486.5,275.8 486.6,274.9 486.7,277.6 486.8,262.0 487.0,278.4 487.1,272.7 487.2,268.4 487.3,269.2 487.4,256.6 487.6,272.9 487.7,276.5 487.8,266.8 487.9,264.6 488.0,268.9 488.2,265.1 488.3,271.7 488.4,265.8 488.5,261.8 488.6,269.5 488.8,273.9 488.9,279.3 489.0,281.8 489.1,273.5 489.2,270.4 489.4,268.8 489.5,280.9 489.6,283.1 489.7,279.2 489.8,269.7 490.0,283.3 490.1,261.5 490.2,268.3 490.3,266.0 490.4,267.6 490.6,278.6 490.7,266.3 490.8,259.1 490.9,273.6 491.0,275.8 491.2,278.0 491.3,280.0 491.4,263.7 491.5,261.1 491.6,283.4 491.8,274.0 491.9,264.8 492.0,267.3 492.1,257.9 492.2,259.1 492.4,263.9 492.5,260.8 492.6,264.5 492.7,267.9 492.8,270.3 493.0,280.0 493.1,283.8 493.2,283.4 493.3,276.7 493.4,267.6 493.6,265.6 493.7,260.9 493.8,277.6 493.9,259.8 494.0,262.0 494.2,273.6 494.3,267.2 494.4,269.9 494.5,285.4 494.6,276.4 494.8,258.6 494.9,260.9 495.0,262.6 495.1,263.1 495.2,266.6 495.4,268.7 495.5,272.5 495.6,269.2 495.7,265.8 495.8,281.7 496.0,268.3 496.1,260.8 496.2,259.1 496.3,269.7 496.4,264.0 496.6,268.7 496.7,272.5 496.8,282.6 496.9,276.9 497.0,282.1 497.2,278.7 497.3,275.7 497.4,263.4 497.5,266.8 497.6,286.1 497.8,278.0 497.9,278.9 498.0,273.0 498.1,267.5 498.2,264.3 498.4,270.4 498.5,278.9 498.6,280.5 498.7,262.8 498.8,274.5 499.0,281.2 499.1,264.7 499.2,272.7 499.3,283.4 499.4,265.6 499.6,273.0 499.7,285.6 499.8,279.6 499.9,263.4 500.0,268.2 500.2,261.0 500.3,268.5 500.4,280.5 500.5,261.6 500.6,261.2 500.8,283.3 500.9,273.5 501.0,288.8 501.1,288.9 501.2,271.3 501.4,264.6 501.5,266.9 501.6,280.1 501.7,262.8 501.8,264.6 502.0,279.0 502.1,281.7 502.2,276.8 502.3,280.9 502.4,275.2 502.6,269.8 502.7,284.3 502.8,267.5 502.9,267.8 503.0,272.5 503.2,286.2 503.3,288.6 503.4,273.7 503.5,262.1 503.6,287.1 503.8,289.4 503.9,281.4 504.0,267.0 504.1,268.1 504.2,265.7 504.4,272.7 504.5,288.8 504.6,280.0 504.7,277.7 504.8,281.7 505.0,269.8 505.1,289.6 505.2,289.4 505.3,283.6 505.4,265.2 505.6,266.9 505.7,265.1 505.8,265.7 505.9,282.4 506.0,287.8 506.2,272.6 506.3,266.8 506.4,271.8 506.5,273.1 506.6,282.4 506.8,271.1 506.9,270.8 507.0,268.4 507.1,273.3 507.2,272.7 507.4,266.4 507.5,276.2 507.6,273.0 507.7,279.6 507.8,277.6 508.0,267.5 508.1,268.9 508.2,269.4 508.3,272.1 508.4,268.2 508.6,288.0 508.7,279.2 508.8,287.8 508.9,288.6 509.0,276.9 509.2,282.6 509.3,274.5 509.4,268.5 509.5,271.5 509.6,279.3 509.8,289.0 509.9,284.3 510.0,275.1 510.1,285.2 510.2,281.9 510.4,279.1 510.5,279.9 510.6,280.9 510.7,281.4 510.8,265.9 511.0,267.6 511.1,279.0 511.2,275.1 511.3,279.2 511.4,288.1 511.6,287.9 511.7,285.8 511.8,274.2 511.9,274.8 512.0,276.5 512.2,269.1 512.3,271.8 512.4,283.5 512.5,278.5 512.6,270.1 512.8,272.3 512.9,267.8 513.0,268.1 513.1,282.8 513.2,281.1 513.4,283.9 513.5,290.7 513.6,270.7 513.7,285.6 513.8,290.9 514.0,273.7 514.1,290.1 514.2,287.8 514.3,273.7 514.4,269.8 514.6,284.5 514.7,266.8 514.8,267.8 514.9,279.7 515.0,273.1 515.2,279.6 515.3,284.4 515.4,283.9 515.5,287.2 515.6,285.1 515.8,272.0 515.9,284.6 516.0,271.4 516.1,288.0 516.2,273.0 516.4,290.6 516.5,288.8 516.6,294.4 516.7,288.3 516.8,268.3 517.0,270.9 517.1,268.4 517.2,266.8 517.3,276.3 517.4,267.2 517.6,279.2 517.7,272.9 517.8,278.1 517.9,291.0 518.0,291.5 518.2,279.4 518.3,270.3 518.4,271.4 518.5,282.8 518.6,279.1 518.8,285.5 518.9,278.6 519.0,291.9 519.1,292.1 519.2,286.3 519.4,273.3 519.5,276.0 519.6,270.6 519.7,270.6 519.8,269.0 520.0,280.2 520.1,276.4 520.2,284.6 520.3,288.7 520.4,286.2 520.6,287.1 520.7,281.8 520.8,292.2 520.9,282.6 521.0,285.2 521.2,282.9 521.3,281.5 521.4,293.4 521.5,292.0 521.6,294.1 521.8,283.7 521.9,275.7 522.0,291.1 522.1,294.1 522.2,294.2 522.4,285.1 522.5,279.5 522.6,283.1 522.7,281.0 522.8,284.9 523.0,286.7 523.1,269.3 523.2,291.2 523.3,271.0 523.4,283.6 523.6,287.0 523.7,284.1 523.8,272.4 523.9,272.9 524.0,270.2 524.2,288.7 524.3,293.4 524.4,291.3 524.5,292.5 524.6,284.0 524.8,289.6 524.9,294.3 525.0,288.4 525.1,271.7 525.2,281.4 525.4,289.7 525.5,273.8 525.6,295.2 525.7,283.8 525.8,277.0 526.0,280.2 526.1,277.4 526.2,284.4 526.3,271.8 526.4,278.5 526.6,280.1 526.7,291.6 526.8,292.9 526.9,294.7 527.0,290.0 527.2,288.6 527.3,289.1 527.4,285.0 527.5,285.5 527.6,277.0 527.8,278.2 527.9,267.7 528.0,279.1 528.1,290.1 528.2,271.8 528.4,272.4 528.5,288.0 528.6,286.8 528.7,286.7 528.8,280.4 529.0,273.6 529.1,275.6 529.2,287.4 529.3,271.4 529.4,286.2 529.6,283.4 529.7,284.4 529.8,276.0 529.9,277.5 530.0,276.5 530.2,275.3 530.3,282.1 530.4,285.8 530.5,291.2 530.6,286.5 530.8,277.0 530.9,277.0 531.0,292.7 531.1,270.0 531.2,273.0 531.4,288.4 531.5,284.7 531.6,274.6 531.7,277.0 531.8,282.1 532.0,271.7 532.1,280.6 532.2,283.2 532.3,274.0 532.4,272.0 532.6,267.8 532.7,286.0 532.8,276.9 532.9,276.1 533.0,283.1 533.2,281.4 533.3,283.8 533.4,273.3 533.5,289.7 533.6,287.5 533.8,283.8 533.9,286.9 534.0,291.3 534.1,281.6 534.2,288.6 534.4,289.1 534.5,290.2 534.6,286.9 534.7,269.0 534.8,280.9 535.0,284.4 535.1,281.8 535.2,287.7 535.3,272.3 535.4,270.8 535.6,267.3 535.7,281.3 535.8,277.9 535.9,284.7 536.0,269.7 536.2,284.4 536.3,276.7 536.4,282.7 536.5,282.6 536.6,285.9 536.8,283.0 536.9,270.1 537.0,269.3 537.1,265.3 537.2,276.8 537.4,277.9 537.5,277.4 537.6,268.2 537.7,279.5 537.8,277.0 538.0,271.3 538.1,279.1 538.2,278.8 538.3,271.3 538.4,273.0 538.6,284.6 538.7,286.3 538.8,283.6 538.9,288.9 539.0,286.2 539.2,281.2 539.3,273.5 539.4,276.3 539.5,276.1 539.6,282.3 539.8,268.3 539.9,283.9 540.0,284.6 540.1,274.8 540.2,267.5 540.4,260.7 540.5,275.4 540.6,266.2 540.7,262.9 540.8,265.6 541.0,271.0 541.1,268.0 541.2,282.1 541.3,273.9 541.4,276.9 541.6,277.3 541.7,278.2 541.8,281.9 541.9,269.9 542.0,266.0 542.2,266.9 542.3,262.4 542.4,273.3 542.5,257.8 542.6,255.6 542.8,255.7 542.9,255.6 543.0,258.8 543.1,281.8 543.2,259.8 543.4,254.4 543.5,259.9 543.6,265.5 543.7,277.0 543.8,262.3 544.0,255.2 544.1,260.9 544.2,279.8 544.3,260.2 544.4,257.4 544.6,252.1 544.7,255.4 544.8,259.0 544.9,251.0 545.0,263.4 545.2,255.5 545.3,258.5 545.4,251.4 545.5,262.0 545.6,250.3 545.8,252.6 545.9,253.3 546.0,262.7 546.1,278.6 546.2,281.8 546.4,266.3 546.5,277.3 546.6,259.2 546.7,260.6 546.8,258.9 547.0,270.1 547.1,276.0 547.2,272.7 547.3,257.3 547.4,279.2 547.6,259.3 547.7,260.0 547.8,274.5 547.9,281.2 548.0,273.5 548.2,257.6 548.3,257.6 548.4,269.2 548.5,270.8 548.6,280.6 548.8,275.8 548.9,277.7 549.0,278.2 549.1,273.3 549.2,276.8 549.4,283.2 549.5,277.2 549.6,283.2 549.7,267.4 549.8,274.1 550.0,271.6 550.1,281.0 550.2,265.6 550.3,269.3 550.4,262.4 550.6,262.7 550.7,266.0 550.8,263.2 550.9,270.4 551.0,262.8 551.2,272.3 551.3,268.5 551.4,268.7 551.5,266.8 551.6,262.7 551.8,273.5 551.9,271.7 552.0,271.7 552.1,271.5 552.2,264.4 552.4,265.3 552.5,280.2 552.6,273.4 552.7,270.1 552.8,267.3 553.0,265.6 553.1,263.6 553.2,264.3 553.3,270.8 553.4,283.1 553.6,272.5 553.7,285.1 553.8,273.9 553.9,286.5 554.0,286.3 554.2,279.7 554.3,263.0 554.4,265.2 554.5,272.9 554.6,285.2 554.8,278.4 554.9,271.6 555.0,270.4 555.1,264.1 555.2,266.4 555.4,275.9 555.5,278.3 555.6,277.2 555.7,265.0 555.8,263.9 556.0,263.7 556.1,268.3 556.2,273.9 556.3,264.7 556.4,267.7 556.6,278.0 556.7,282.4 556.8,269.4 556.9,265.5 557.0,265.1 557.2,275.0 557.3,266.4 557.4,281.1 557.5,282.5 557.6,275.4 557.8,271.5 557.9,268.9 558.0,275.0 558.1,277.8 558.2,276.3 558.4,276.9 558.5,282.5 558.6,275.2 558.7,289.3 558.8,276.1 559.0,278.7 559.1,281.2 559.2,278.6 559.3,277.1 559.4,268.0 559.6,280.8 559.7,274.4 559.8,288.3 559.9,273.1 560.0,279.3 560.2,271.6 560.3,274.4 560.4,267.1 560.5,283.0 560.6,267.3 560.8,272.8 560.9,268.1 561.0,278.4 561.1,271.3 561.2,271.3 561.4,265.2 561.5,267.0 561.6,278.1 561.7,278.1 561.8,288.4 562.0,289.9 562.1,275.5 562.2,268.3 562.3,274.6 562.4,273.4 562.6,282.8 562.7,282.6 562.8,274.8 562.9,282.7 563.0,282.7 563.2,275.0 563.3,284.0 563.4,273.1 563.5,274.4 563.6,277.4 563.8,272.6 563.9,284.2 564.0,282.5 564.1,288.6 564.2,284.9 564.4,278.7 564.5,274.5 564.6,275.0 564.7,264.8 564.8,278.9 565.0,274.7 565.1,275.9 565.2,290.1 565.3,286.3 565.4,290.7 565.6,290.0 565.7,283.7 565.8,285.9 565.9,283.6 566.0,279.2 566.2,284.4 566.3,274.8 566.4,280.5 566.5,275.7 566.6,264.6 566.8,263.1 566.9,261.0 567.0,264.7 567.1,277.4 567.2,266.1 567.4,268.3 567.5,277.9 567.6,266.0 567.7,285.9 567.8,280.5 568.0,280.9 568.1,275.6 568.2,262.3 568.3,276.2 568.4,269.7 568.6,275.4 568.7,274.9 568.8,274.9 568.9,264.3 569.0,272.4 569.2,281.4 569.3,285.9 569.4,281.6 569.5,282.5 569.6,283.8 569.8,280.9 569.9,273.4 570.0,265.2 570.1,278.2 570.2,265.5 570.4,267.0 570.5,273.1 570.6,274.4 570.7,270.9 570.8,268.9 571.0,264.0 571.1,275.0 571.2,267.9 571.3,281.8 571.4,275.9 571.6,272.6 571.7,277.1 571.8,259.6 571.9,269.9 572.0,268.0 572.2,271.3 572.3,264.4 572.4,264.4 572.5,257.3 572.6,265.8 572.8,273.1 572.9,257.0 573.0,256.6 573.1,265.7 573.2,278.2 573.4,271.0 573.5,266.6 573.6,266.1 573.7,271.1 573.8,278.3 574.0,262.1 574.1,274.3 574.2,273.1 574.3,265.3 574.4,274.3 574.6,262.2 574.7,261.6 574.8,275.0 574.9,264.1 575.0,266.1 575.2,257.0 575.3,263.8 575.4,277.2 575.5,264.6 575.6,260.2 575.8,269.3 575.9,273.9 576.0,266.0 576.1,266.0 576.2,263.3 576.4,260.3 576.5,258.7 576.6,275.9 576.7,270.2 576.8,276.1 577.0,276.1 577.1,266.5 577.2,267.0 577.3,258.2 577.4,249.7 577.6,264.6 577.7,258.0 577.8,256.4 577.9,255.1 578.0,264.1 578.2,259.5 578.3,253.9 578.4,258.7 578.5,273.4 578.6,262.4 578.8,266.6 578.9,253.0 579.0,253.9 579.1,263.2 579.2,252.1 579.4,271.4 579.5,252.4 579.6,257.3 579.7,260.0 579.8,270.1 580.0,266.0 580.1,263.5 580.2,262.8 580.3,274.9 580.4,274.9 580.6,257.9 580.7,254.7 580.8,261.3 580.9,256.5 581.0,260.5 581.2,262.4 581.3,274.4 581.4,271.6 581.5,269.1 581.6,258.6 581.8,266.1 581.9,262.8 582.0,264.5 582.1,251.4 582.2,255.5 582.4,259.8 582.5,271.5 582.6,262.7 582.7,259.3 582.8,252.4 583.0,264.5 583.1,263.9 583.2,265.8 583.3,256.4 583.4,269.1 583.6,272.0 583.7,253.8 583.8,259.1 583.9,267.9 584.0,265.7 584.2,255.8 584.3,256.1 584.4,267.0 584.5,249.4 584.6,262.7 584.8,254.9 584.9,253.1 585.0,260.2 585.1,257.2 585.2,258.6 585.4,265.4 585.5,267.1 585.6,269.0 585.7,269.6 585.8,255.7 586.0,264.1 586.1,266.9 586.2,266.3 586.3,252.1 586.4,254.0 586.6,250.9 586.7,265.8 586.8,264.9 586.9,256.4 587.0,257.9 587.2,263.8 587.3,253.4 587.4,268.6 587.5,264.9 587.6,272.0 587.8,272.5 587.9,270.8 588.0,271.4 588.1,268.2 588.2,258.3 588.4,265.9 588.5,259.9 588.6,258.0 588.7,251.7 588.8,269.8 589.0,262.3 589.1,259.8 589.2,265.4 589.3,262.6 589.4,266.3 589.6,271.8 589.7,258.5 589.8,253.2 589.9,250.8 590.0,255.2 590.2,260.1 590.3,262.7 590.4,251.8 590.5,257.6 590.6,261.4 590.8,258.6 590.9,264.4 591.0,267.2 591.1,268.5 591.2,267.0 591.4,265.1 591.5,257.8 591.6,263.1 591.7,255.8 591.8,254.1 592.0,266.6 592.1,259.6 592.2,254.4 592.3,264.1 592.4,254.5 592.6,262.5 592.7,252.5 592.8,255.2 592.9,259.2 593.0,258.5 593.2,254.6 593.3,262.1 593.4,264.3 593.5,260.6 593.6,259.8 593.8,264.0 593.9,260.2 594.0,267.3 594.1,268.3 594.2,267.1 594.4,257.2 594.5,256.7 594.6,251.2 594.7,261.9 594.8,255.4 595.0,255.0 595.1,258.3 595.2,266.4 595.3,253.8 595.4,265.1 595.6,267.2 595.7,266.0 595.8,266.3 595.9,262.9 596.0,256.2 596.2,260.8 596.3,253.9 596.4,262.4 596.5,249.6 596.6,262.4 596.8,261.8 596.9,256.7 597.0,249.8 597.1,249.7 597.2,255.5 597.4,252.7 597.5,248.9 597.6,260.3 597.7,260.0 597.8,260.1 598.0,251.5 598.1,249.3 598.2,263.4 598.3,252.8 598.4,261.2 598.6,268.6 598.7,264.6 598.8,264.7 598.9,254.3 599.0,269.0 599.2,265.2 599.3,265.7 599.4,253.3 599.5,260.6 599.6,263.0 599.8,247.5 599.9,267.5 600.0,253.8 600.1,260.8 600.2,245.3 600.4,267.1 600.5,271.3 600.6,259.8 600.7,264.9 600.8,256.4 601.0,258.5 601.1,246.0 601.2,256.8 601.3,264.2 601.4,250.8 601.6,253.7 601.7,252.5 601.8,252.1 601.9,251.8 602.0,249.7 602.2,255.8 602.3,247.3 602.4,247.2 602.5,247.8 602.6,257.6 602.8,247.3 602.9,257.3 603.0,251.7 603.1,262.1 603.2,257.5 603.4,263.6 603.5,250.3 603.6,249.4 603.7,271.7 603.8,269.1 604.0,252.1 604.1,261.5 604.2,254.1 604.3,252.6 604.4,250.2 604.6,251.6 604.7,255.6 604.8,257.5 604.9,260.5 605.0,264.4 605.2,255.2 605.3,265.6 605.4,270.5 605.5,274.2 605.6,270.7 605.8,269.9 605.9,271.4 606.0,269.2 606.1,272.3 606.2,268.4 606.4,273.9 606.5,274.9 606.6,272.7 606.7,256.6 606.8,267.4 607.0,267.6 607.1,249.2 607.2,257.6 607.3,257.5 607.4,251.2 607.6,267.4 607.7,256.6 607.8,268.2 607.9,252.1 608.0,253.3 608.2,268.5 608.3,266.6 608.4,251.7 608.5,275.3 608.6,257.3 608.8,263.0 608.9,259.4 609.0,270.7 609.1,257.3 609.2,257.3 609.4,267.1 609.5,268.1 609.6,268.6 609.7,275.9 609.8,276.0 610.0,273.6 610.1,271.0 610.2,258.3 610.3,270.1 610.4,271.1 610.6,267.4 610.7,263.7 610.8,271.3 610.9,261.1 611.0,257.5 611.2,266.0 611.3,264.4 611.4,263.1 611.5,268.2 611.6,273.2 611.8,259.1 611.9,261.2 612.0,260.7 612.1,263.3 612.2,269.4 612.4,264.8 612.5,255.7 612.6,257.5 612.7,262.6 612.8,260.9 613.0,254.9 613.1,259.1 613.2,262.6 613.3,261.2 613.4,260.6 613.6,254.2 613.7,269.9 613.8,272.8 613.9,266.7 614.0,262.9 614.2,262.4 614.3,269.4 614.4,262.2 614.5,266.0 614.6,260.9 614.8,267.5 614.9,264.2 615.0,265.2 615.1,264.8 615.2,266.8 615.4,268.1 615.5,256.7 615.6,261.3 615.7,267.3 615.8,262.3 616.0,267.6 616.1,252.4 616.2,253.0 616.3,257.8 616.4,252.8 616.6,265.8 616.7,254.7 616.8,247.4 616.9,251.1 617.0,253.4 617.2,267.4 617.3,263.3 617.4,266.3 617.5,256.6 617.6,267.8 617.8,271.4 617.9,265.2 618.0,263.1 618.1,265.2 618.2,262.6 618.4,265.8 618.5,272.2 618.6,259.2 618.7,269.5 618.8,256.3 619.0,253.1 619.1,262.8 619.2,249.6 619.3,251.3 619.4,262.7 619.6,269.5 619.7,256.6 619.8,264.7 619.9,264.2 620.0,267.7 620.2,267.4 620.3,265.5 620.4,264.0 620.5,268.4 620.6,263.5 620.8,263.6 620.9,270.6 621.0,269.0 621.1,267.1 621.2,258.5 621.4,267.0 621.5,255.0 621.6,254.8 621.7,253.9 621.8,261.3 622.0,267.9 622.1,260.8 622.2,266.4 622.3,253.7 622.4,261.2 622.6,260.7 622.7,270.4 622.8,272.5 622.9,274.9 623.0,273.4 623.2,270.9 623.3,275.9 623.4,260.8 623.5,260.7 623.6,256.5 623.8,264.0 623.9,265.5 624.0,266.7 624.1,263.8 624.2,273.1 624.4,269.8 624.5,273.0 624.6,268.5 624.7,265.8 624.8,269.8 625.0,265.9 625.1,273.7 625.2,275.3 625.3,268.8 625.4,261.0 625.6,265.4 625.7,260.2 625.8,263.1 625.9,275.5 626.0,274.5 626.2,278.4 626.3,262.1 626.4,277.2 626.5,261.1 626.6,255.0 626.8,261.5 626.9,256.0 627.0,275.1 627.1,272.9 627.2,265.5 627.4,266.4 627.5,273.7 627.6,274.2 627.7,267.7 627.8,267.1 628.0,268.5 628.1,257.6 628.2,263.4 628.3,272.9 628.4,255.3 628.6,275.1 628.7,273.0 628.8,251.4 628.9,271.6 629.0,269.6 629.2,245.3 629.3,243.1 629.4,248.9 629.5,263.1 629.6,270.6 629.8,253.1 629.9,252.1 630.0,267.9 630.1,261.3 630.2,257.6 630.4,274.8 630.5,253.8 630.6,277.1 630.7,272.7 630.8,270.5 631.0,260.3 631.1,271.5 631.2,266.9 631.3,258.7 631.4,264.0 631.6,263.2 631.7,256.2 631.8,264.2 631.9,264.1 632.0,278.5 632.2,274.7 632.3,274.0 632.4,260.0 632.5,264.0 632.6,274.2 632.8,267.5 632.9,269.8 633.0,275.3 633.1,277.2 633.2,274.4 633.4,260.2 633.5,261.3 633.6,259.9 633.7,258.3 633.8,267.7 634.0,255.1 634.1,258.0 634.2,260.2 634.3,269.0 634.4,263.0 634.6,271.1 634.7,259.1 634.8,253.8 634.9,261.1 635.0,266.6 635.2,259.9 635.3,260.2 635.4,274.7 635.5,267.6 635.6,271.7 635.8,259.2 635.9,271.0 636.0,268.8 636.1,268.0 636.2,257.4 636.4,256.1 636.5,255.9 636.6,261.2 636.7,268.8 636.8,264.3 637.0,270.5 637.1,270.7 637.2,277.7 637.3,278.4 637.4,283.5 637.6,262.7 637.7,256.6 637.8,266.8 637.9,259.5 638.0,282.6 638.2,280.2 638.3,271.3 638.4,266.2 638.5,265.6 638.6,273.8 638.8,272.4 638.9,269.9 639.0,278.3 639.1,279.3 639.2,277.9 639.4,274.0 639.5,274.8 639.6,255.4 639.7,270.5 639.8,266.0 640.0,255.0 640.1,254.1 640.2,253.4 640.3,261.8 640.4,258.8 640.6,261.2 640.7,253.8 640.8,250.9 640.9,250.0 641.0,256.9 641.2,264.3 641.3,273.8 641.4,260.5 641.5,266.1 641.6,278.8 641.8,249.4 641.9,277.3 642.0,268.9 642.1,270.8 642.2,276.2 642.4,261.1 642.5,277.3 642.6,258.1 642.7,267.7 642.8,257.2 643.0,250.9 643.1,254.5 643.2,260.9 643.3,254.0 643.4,259.7 643.6,260.0 643.7,254.3 643.8,278.0 643.9,268.6 644.0,260.5 644.2,273.2 644.3,264.9 644.4,269.7 644.5,275.1 644.6,264.1 644.8,270.4 644.9,256.4 645.0,255.7 645.1,254.5 645.2,269.5 645.4,266.7 645.5,254.3 645.6,261.7 645.7,271.9 645.8,273.4 646.0,262.6 646.1,261.4 646.2,265.5 646.3,275.8 646.4,260.9 646.6,261.9 646.7,269.6 646.8,263.9 646.9,267.8 647.0,270.4 647.2,254.8 647.3,259.4 647.4,277.7 647.5,272.9 647.6,268.2 647.8,272.5 647.9,274.3 648.0,268.7 648.1,273.1 648.2,268.4 648.4,263.1 648.5,265.0 648.6,266.8 648.7,260.0 648.8,264.3 649.0,267.4 649.1,265.5 649.2,263.3 649.3,253.8 649.4,266.3 649.6,254.8 649.7,267.6 649.8,277.0 649.9,266.6 650.0,253.6 650.2,270.8 650.3,277.6 650.4,265.5 650.5,267.9 650.6,262.7 650.8,255.5 650.9,263.3 651.0,259.0 651.1,266.4 651.2,278.3 651.4,270.6 651.5,270.6 651.6,269.2 651.7,266.7 651.8,272.0 652.0,274.0 652.1,272.8 652.2,268.9 652.3,259.2 652.4,259.9 652.6,271.0 652.7,273.5 652.8,266.1 652.9,270.1 653.0,268.5 653.2,275.9 653.3,270.7 653.4,260.0 653.5,260.6 653.6,271.8 653.8,272.3 653.9,271.5 654.0,264.9 654.1,263.8 654.2,263.8 654.4,268.2 654.5,273.7 654.6,276.4 654.7,270.6 654.8,263.1 655.0,265.0 655.1,262.1 655.2,265.0 655.3,267.3 655.4,262.6 655.6,269.4 655.7,266.7 655.8,257.2 655.9,266.4 656.0,259.7 656.2,262.2 656.3,265.4 656.4,266.7 656.5,262.6 656.6,267.7 656.8,270.1 656.9,271.9 657.0,254.8"/>
<rect x="388.0" y="208.7" width="269.4" height="134.7" fill="none" stroke="#444" stroke-width="1.25"/>
<line x1="388.0" y1="343.4" x2="388.0" y2="333.4" stroke="#444" stroke-width="1"/>
<line x1="414.9" y1="343.4" x2="414.9" y2="337.9" stroke="#444" stroke-width="1"/>
<line x1="441.9" y1="343.4" x2="441.9" y2="333.4" stroke="#444" stroke-width="1"/>
<line x1="468.8" y1="343.4" x2="468.8" y2="337.9" stroke="#444" stroke-width="1"/>
<line x1="495.8" y1="343.4" x2="495.8" y2="333.4" stroke="#444" stroke-width="1"/>
<line x1="522.7" y1="343.4" x2="522.7" y2="337.9" stroke="#444" stroke-width="1"/>
<line x1="549.6" y1="343.4" x2="549.6" y2="333.4" stroke="#444" stroke-width="1"/>
<line x1="576.6" y1="343.4" x2="576.6" y2="337.9" stroke="#444" stroke-width="1"/>
<line x1="603.5" y1="343.4" x2="603.5" y2="333.4" stroke="#444" stroke-width="1"/>
<line x1="630.5" y1="343.4" x2="630.5" y2="337.9" stroke="#444" stroke-width="1"/>
<line x1="657.4" y1="343.4" x2="657.4" y2="333.4" stroke="#444" stroke-width="1"/>
<line x1="388.0" y1="343.4" x2="398.0" y2="343.4" stroke="#444" stroke-width="1"/>
<line x1="388.0" y1="326.6" x2="393.5" y2="326.6" stroke="#444" stroke-width="1"/>
<line x1="388.0" y1="309.7" x2="398.0" y2="309.7" stroke="#444" stroke-width="1"/>
<line x1="388.0" y1="292.9" x2="393.5" y2="292.9" stroke="#444" stroke-width="1"/>
<line x1="388.0" y1="276.0" x2="398.0" y2="276.0" stroke="#444" stroke-width="1"/>
<line x1="388.0" y1="259.2" x2="393.5" y2="259.2" stroke="#444" stroke-width="1"/>
<line x1="388.0" y1="242.4" x2="398.0" y2="242.4" stroke="#444" stroke-width="1"/>
<line x1="388.0" y1="225.5" x2="393.5" y2="225.5" stroke="#444" stroke-width="1"/>
<line x1="388.0" y1="208.7" x2="398.0" y2="208.7" stroke="#444" stroke-width="1"/>
<text x="388.8" y="359.5" font-size="14" text-anchor="middle" font-weight="normal" >0</text>
<text x="442.7" y="359.5" font-size="14" text-anchor="middle" font-weight="normal" >40</text>
<text x="496.6" y="359.5" font-size="14" text-anchor="middle" font-weight="normal" >80</text>
<text x="550.4" y="359.5" font-size="14" text-anchor="middle" font-weight="normal" >120</text>
<text x="604.3" y="359.5" font-size="14" text-anchor="middle" font-weight="normal" >160</text>
<text x="658.2" y="359.5" font-size="14" text-anchor="middle" font-weight="normal" >200</text>
<text x="385.0" y="348.0" font-size="14" text-anchor="end" font-weight="normal" >70</text>
<text x="385.0" y="314.3" font-size="14" text-anchor="end" font-weight="normal" >80</text>
<text x="385.0" y="280.6" font-size="14" text-anchor="end" font-weight="normal" >90</text>
<text x="385.0" y="247.0" font-size="14" text-anchor="end" font-weight="normal" >100</text>
<text x="385.0" y="213.3" font-size="14" text-anchor="end" font-weight="normal" >110</text>
<text x="522.5" y="378.5" font-size="13.8" text-anchor="middle" font-weight="normal" >Time (ns)</text>
<text x="0" y="0" font-size="13.7" text-anchor="middle" transform="translate(356.4 273.6) rotate(-90)">SASA (nm<tspan dy="-8" font-size="8.5">2</tspan><tspan dy="8">)</tspan></text>
<text x="0.0" y="0.0" font-size="13" text-anchor="start" font-weight="bold" transform="translate(340.9 202.6) scale(1 1.13)">D</text>
</svg>
</body></html>
